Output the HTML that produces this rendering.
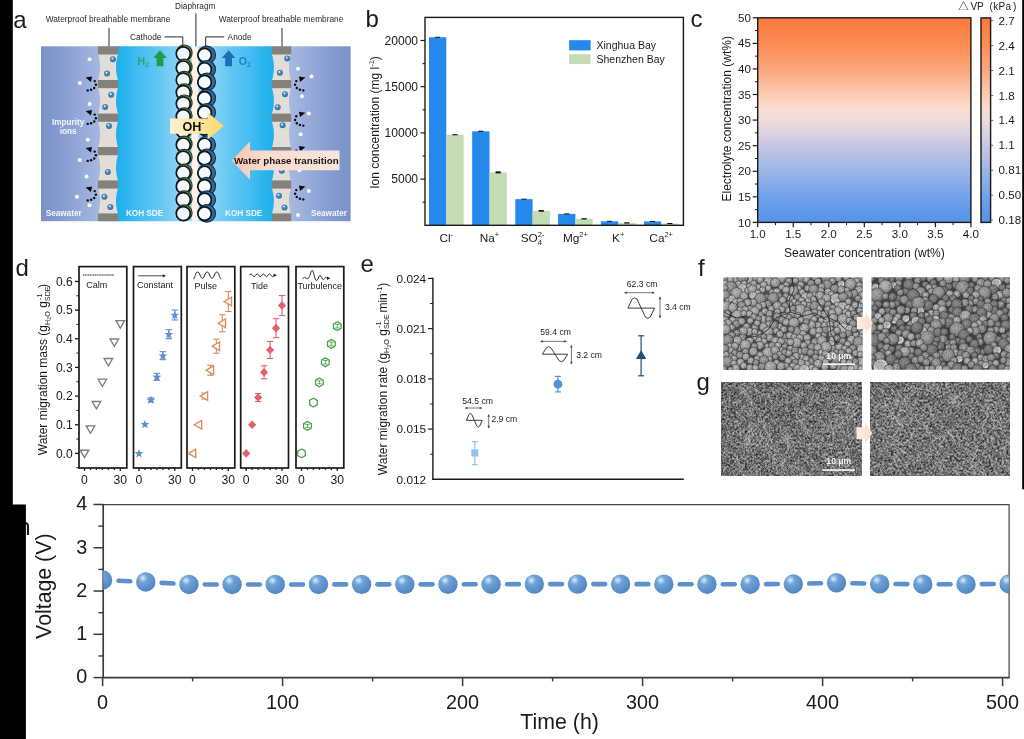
<!DOCTYPE html>
<html lang="en">
<head>
<meta charset="utf-8">
<title>Figure</title>
<style>
html,body{margin:0;padding:0;background:#fff;}
body{width:1024px;height:739px;overflow:hidden;font-family:'Liberation Sans', 'Noto Sans CJK SC', sans-serif;}
svg{display:block;will-change:transform;}
svg text{font-family:'Liberation Sans', 'Noto Sans CJK SC', sans-serif;}
</style>
</head>
<body>
<svg width="1024" height="739" viewBox="0 0 1024 739">
<rect width="1024" height="739" fill="#ffffff"/>
<defs>
<linearGradient id="heat" x1="0" y1="0" x2="0" y2="1">
<stop offset="0" stop-color="#fb7a3a"/>
<stop offset="0.12" stop-color="#fb8a52"/>
<stop offset="0.25" stop-color="#fba67b"/>
<stop offset="0.36" stop-color="#fcc6aa"/>
<stop offset="0.44" stop-color="#fbddce"/>
<stop offset="0.50" stop-color="#eedddb"/>
<stop offset="0.56" stop-color="#dcd3e0"/>
<stop offset="0.625" stop-color="#c6c7e3"/>
<stop offset="0.75" stop-color="#9ab5e8"/>
<stop offset="0.875" stop-color="#70a1ea"/>
<stop offset="1" stop-color="#5593eb"/>
</linearGradient>
<linearGradient id="seaL" x1="0" y1="0" x2="1" y2="0">
<stop offset="0" stop-color="#7991c8"/><stop offset="0.25" stop-color="#869cd0"/><stop offset="0.7" stop-color="#a2b6e0"/><stop offset="1" stop-color="#b1c3e9"/></linearGradient>
<linearGradient id="seaR" x1="1" y1="0" x2="0" y2="0">
<stop offset="0" stop-color="#7991c8"/><stop offset="0.25" stop-color="#869cd0"/><stop offset="0.7" stop-color="#a2b6e0"/><stop offset="1" stop-color="#b1c3e9"/></linearGradient>
<linearGradient id="kohL" x1="0" y1="0" x2="1" y2="0">
<stop offset="0" stop-color="#1cb0ec"/><stop offset="0.12" stop-color="#28b4ed"/><stop offset="0.3" stop-color="#44bdf0"/><stop offset="0.55" stop-color="#62c6f2"/><stop offset="0.8" stop-color="#86d2f5"/><stop offset="1" stop-color="#a0dcf7"/></linearGradient>
<linearGradient id="kohR" x1="1" y1="0" x2="0" y2="0">
<stop offset="0" stop-color="#1cb0ec"/><stop offset="0.12" stop-color="#28b4ed"/><stop offset="0.3" stop-color="#44bdf0"/><stop offset="0.55" stop-color="#62c6f2"/><stop offset="0.8" stop-color="#86d2f5"/><stop offset="1" stop-color="#a0dcf7"/></linearGradient>
<linearGradient id="ohArrow" x1="0" y1="0" x2="1" y2="0">
<stop offset="0" stop-color="#fbf0cf"/><stop offset="0.5" stop-color="#fbe6a4"/><stop offset="1" stop-color="#fcd76a"/></linearGradient>
<linearGradient id="wpArrow" x1="0" y1="0" x2="1" y2="0">
<stop offset="0" stop-color="#f8c4ae"/><stop offset="0.3" stop-color="#f8dccd"/><stop offset="1" stop-color="#f7e6dc"/></linearGradient>
<radialGradient id="drop" cx="0.42" cy="0.36" r="0.7">
<stop offset="0" stop-color="#9cc6e6"/><stop offset="0.3" stop-color="#4a8cc0"/><stop offset="1" stop-color="#2e6c9e"/></radialGradient>
<g id="cath"><circle r="7.9" cx="0.9" cy="-0.9" fill="#88a45f" stroke="#2a3a1c" stroke-width="1.2"/><circle r="7.0" fill="#f1f8fb" stroke="#10181c" stroke-width="1.7"/></g>
<g id="anod"><circle r="8.8" cx="2.1" cy="-0.2" fill="#36699f" stroke="#16304c" stroke-width="1.2"/><circle r="6.75" fill="#f7fbfd" stroke="#10181c" stroke-width="1.7"/></g>
<g id="dropg"><circle r="3.0" fill="url(#drop)"/><circle r="0.85" cx="-0.5" cy="-0.9" fill="#eaf5fc"/></g>
<g id="darrL" fill="#0c0c10"><circle cx="-1.5" cy="5.9" r="1.2"/><circle cx="1.9" cy="5.2" r="1.2"/><circle cx="5.0" cy="3.5" r="1.2"/><circle cx="6.7" cy="0.3" r="1.2"/><circle cx="5.5" cy="-3.4" r="1.2"/><path d="M-3.6,-7.0 L2.9,-8.0 L1.7,-2.6 Z"/></g>
<g id="darrR" fill="#0c0c10"><circle cx="1.5" cy="5.9" r="1.2"/><circle cx="-1.9" cy="5.2" r="1.2"/><circle cx="-5.0" cy="3.5" r="1.2"/><circle cx="-6.7" cy="0.3" r="1.2"/><circle cx="-5.5" cy="-3.4" r="1.2"/><path d="M3.6,-7.0 L-2.9,-8.0 L-1.7,-2.6 Z"/></g>

<radialGradient id="bumpA" cx="0.42" cy="0.38" r="0.6">
<stop offset="0" stop-color="#a6a6a6"/><stop offset="0.5" stop-color="#939393"/><stop offset="0.85" stop-color="#7a7a7a"/><stop offset="1" stop-color="#4c4c4c"/></radialGradient>
<radialGradient id="bumpB" cx="0.42" cy="0.38" r="0.6">
<stop offset="0" stop-color="#949494"/><stop offset="0.5" stop-color="#838383"/><stop offset="0.85" stop-color="#6a6a6a"/><stop offset="1" stop-color="#424242"/></radialGradient>
<radialGradient id="bumpC" cx="0.42" cy="0.38" r="0.6">
<stop offset="0" stop-color="#9c9c9c"/><stop offset="0.45" stop-color="#a4a4a4"/><stop offset="0.78" stop-color="#c6c6c6"/><stop offset="1" stop-color="#6a6a6a"/></radialGradient>
<radialGradient id="bumpD" cx="0.42" cy="0.38" r="0.6">
<stop offset="0" stop-color="#7e7e7e"/><stop offset="0.5" stop-color="#6c6c6c"/><stop offset="0.85" stop-color="#585858"/><stop offset="1" stop-color="#363636"/></radialGradient>
<filter id="semSoft" x="0" y="0" width="1" height="1" color-interpolation-filters="sRGB">
<feGaussianBlur in="SourceGraphic" stdDeviation="0.75" result="b"/>
<feTurbulence type="fractalNoise" baseFrequency="0.75" numOctaves="2" seed="4" result="n"/>
<feColorMatrix in="n" type="matrix" values="0.9 0 0 0 0.55  0.9 0 0 0 0.55  0.9 0 0 0 0.55  0 0 0 0 1" result="nn"/>
<feBlend in="b" in2="nn" mode="multiply" result="m"/>
<feComponentTransfer in="m"><feFuncR type="linear" slope="1.14" intercept="0"/><feFuncG type="linear" slope="1.14" intercept="0"/><feFuncB type="linear" slope="1.14" intercept="0"/></feComponentTransfer>
</filter>
<filter id="semG1" x="0" y="0" width="1" height="1" color-interpolation-filters="sRGB">
<feTurbulence type="fractalNoise" baseFrequency="0.55 0.48" numOctaves="2" seed="11"/>
<feColorMatrix type="matrix" values="0.9 0 0 0 -0.045  0.9 0 0 0 -0.045  0.9 0 0 0 -0.045  0 0 0 0 1"/>
<feGaussianBlur stdDeviation="0.35"/>
</filter>
<filter id="semG2" x="0" y="0" width="1" height="1" color-interpolation-filters="sRGB">
<feTurbulence type="fractalNoise" baseFrequency="0.46 0.5" numOctaves="2" seed="37"/>
<feColorMatrix type="matrix" values="0.95 0 0 0 -0.06  0.95 0 0 0 -0.06  0.95 0 0 0 -0.06  0 0 0 0 1"/>
<feGaussianBlur stdDeviation="0.35"/>
</filter>
<clipPath id="clipG1"><rect x="721.6" y="382.8" width="140.2" height="93.1"/></clipPath>
<clipPath id="clipG2"><rect x="870.4" y="382.8" width="139.5" height="93.0"/></clipPath>
<linearGradient id="fgArrow" x1="0" y1="0" x2="1" y2="0"><stop offset="0" stop-color="#fcece3"/><stop offset="1" stop-color="#fadccd"/></linearGradient>
<clipPath id="clipF1"><rect x="723.3" y="277.2" width="139.4" height="92.8"/></clipPath>
<clipPath id="clipF2"><rect x="871.4" y="277.2" width="138.5" height="92.6"/></clipPath>

<radialGradient id="ball" cx="0.35" cy="0.3" r="0.78">
<stop offset="0" stop-color="#e4f1fb"/><stop offset="0.1" stop-color="#b4d3f0"/><stop offset="0.3" stop-color="#6fa2d7"/><stop offset="0.7" stop-color="#5a8fc9"/><stop offset="1" stop-color="#4f83bf"/></radialGradient>
<clipPath id="clipH"><rect x="103.2" y="495" width="905.9" height="200"/></clipPath>

</defs>
<g id="panel-labels">
<text x="13.20" y="27.80" font-size="24" text-anchor="start" font-weight="normal" fill="#1a1a1a">a</text>
<text x="365.50" y="27.00" font-size="24" text-anchor="start" font-weight="normal" fill="#1a1a1a">b</text>
<text x="690.50" y="27.00" font-size="24" text-anchor="start" font-weight="normal" fill="#1a1a1a">c</text>
<text x="15.60" y="276.20" font-size="24" text-anchor="start" font-weight="normal" fill="#1a1a1a">d</text>
<text x="360.50" y="272.00" font-size="24" text-anchor="start" font-weight="normal" fill="#1a1a1a">e</text>
<text x="698.00" y="276.30" font-size="24" text-anchor="start" font-weight="normal" fill="#1a1a1a">f</text>
<text x="696.50" y="390.30" font-size="24" text-anchor="start" font-weight="normal" fill="#1a1a1a">g</text>
<text x="17.20" y="534.50" font-size="24" text-anchor="start" font-weight="normal" fill="#1a1a1a">h</text>
</g>
<g id="panel-a">
<rect x="41.00" y="46.30" width="80.00" height="174.90" fill="url(#seaL)"/>
<rect x="270.00" y="46.30" width="80.60" height="174.90" fill="url(#seaR)"/>
<path d="M119,46.3 L98,46.3 L98.2,46.3 L98.2,54.5 L98.8,56.6 L99.3,58.8 L99.6,60.9 L99.9,63.0 L100.0,65.1 L100.1,67.2 L100.0,69.4 L99.9,71.5 L99.6,73.6 L99.3,75.8 L98.8,77.9 L98.2,80.0 L98.2,88.2 L98.8,90.3 L99.3,92.4 L99.6,94.5 L99.9,96.7 L100.0,98.8 L100.1,100.9 L100.0,103.0 L99.9,105.1 L99.6,107.2 L99.3,109.4 L98.8,111.5 L98.2,113.6 L98.2,121.8 L98.8,123.9 L99.3,126.0 L99.6,128.1 L99.9,130.2 L100.0,132.3 L100.1,134.4 L100.0,136.5 L99.9,138.6 L99.6,140.7 L99.3,142.8 L98.8,144.9 L98.2,147.0 L98.2,155.2 L98.8,157.3 L99.3,159.4 L99.6,161.5 L99.9,163.6 L100.0,165.7 L100.1,167.8 L100.0,169.9 L99.9,172.0 L99.6,174.1 L99.3,176.2 L98.8,178.3 L98.2,180.4 L98.2,188.6 L98.8,190.7 L99.3,192.7 L99.6,194.8 L99.9,196.9 L100.0,198.9 L100.1,201.0 L100.0,203.1 L99.9,205.1 L99.6,207.2 L99.3,209.3 L98.8,211.3 L98.2,213.4 L98.2,221.2 L119,221.2 Z" fill="#e3ddd7"/>
<path d="M271,46.3 L291,46.3 L290.9,46.3 L290.9,54.5 L290.3,56.6 L289.8,58.8 L289.5,60.9 L289.2,63.0 L289.1,65.1 L289.0,67.2 L289.1,69.4 L289.2,71.5 L289.5,73.6 L289.8,75.8 L290.3,77.9 L290.9,80.0 L290.9,88.2 L290.3,90.3 L289.8,92.4 L289.5,94.5 L289.2,96.7 L289.1,98.8 L289.0,100.9 L289.1,103.0 L289.2,105.1 L289.5,107.2 L289.8,109.4 L290.3,111.5 L290.9,113.6 L290.9,121.8 L290.3,123.9 L289.8,126.0 L289.5,128.1 L289.2,130.2 L289.1,132.3 L289.0,134.4 L289.1,136.5 L289.2,138.6 L289.5,140.7 L289.8,142.8 L290.3,144.9 L290.9,147.0 L290.9,155.2 L290.3,157.3 L289.8,159.4 L289.5,161.5 L289.2,163.6 L289.1,165.7 L289.0,167.8 L289.1,169.9 L289.2,172.0 L289.5,174.1 L289.8,176.2 L290.3,178.3 L290.9,180.4 L290.9,188.6 L290.3,190.7 L289.8,192.7 L289.5,194.8 L289.2,196.9 L289.1,198.9 L289.0,201.0 L289.1,203.1 L289.2,205.1 L289.5,207.2 L289.8,209.3 L290.3,211.3 L290.9,213.4 L290.9,221.2 L271,221.2 Z" fill="#e3ddd7"/>
<path d="M193,46.3 L118,46.3 L118.0,46.3 L118.0,54.5 L117.3,56.6 L116.9,58.8 L116.5,60.9 L116.2,63.0 L116.1,65.1 L116.0,67.2 L116.1,69.4 L116.2,71.5 L116.5,73.6 L116.9,75.8 L117.3,77.9 L118.0,80.0 L118.0,88.2 L117.3,90.3 L116.9,92.4 L116.5,94.5 L116.2,96.7 L116.1,98.8 L116.0,100.9 L116.1,103.0 L116.2,105.1 L116.5,107.2 L116.9,109.4 L117.3,111.5 L118.0,113.6 L118.0,121.8 L117.3,123.9 L116.9,126.0 L116.5,128.1 L116.2,130.2 L116.1,132.3 L116.0,134.4 L116.1,136.5 L116.2,138.6 L116.5,140.7 L116.9,142.8 L117.3,144.9 L118.0,147.0 L118.0,155.2 L117.3,157.3 L116.9,159.4 L116.5,161.5 L116.2,163.6 L116.1,165.7 L116.0,167.8 L116.1,169.9 L116.2,172.0 L116.5,174.1 L116.9,176.2 L117.3,178.3 L118.0,180.4 L118.0,188.6 L117.3,190.7 L116.9,192.7 L116.5,194.8 L116.2,196.9 L116.1,198.9 L116.0,201.0 L116.1,203.1 L116.2,205.1 L116.5,207.2 L116.9,209.3 L117.3,211.3 L118.0,213.4 L118.0,221.2 L193,221.2 Z" fill="url(#kohL)"/>
<path d="M197,46.3 L272,46.3 L271.9,46.3 L271.9,54.5 L272.6,56.6 L273.0,58.8 L273.4,60.9 L273.7,63.0 L273.8,65.1 L273.9,67.2 L273.8,69.4 L273.7,71.5 L273.4,73.6 L273.0,75.8 L272.6,77.9 L271.9,80.0 L271.9,88.2 L272.6,90.3 L273.0,92.4 L273.4,94.5 L273.7,96.7 L273.8,98.8 L273.9,100.9 L273.8,103.0 L273.7,105.1 L273.4,107.2 L273.0,109.4 L272.6,111.5 L271.9,113.6 L271.9,121.8 L272.6,123.9 L273.0,126.0 L273.4,128.1 L273.7,130.2 L273.8,132.3 L273.9,134.4 L273.8,136.5 L273.7,138.6 L273.4,140.7 L273.0,142.8 L272.6,144.9 L271.9,147.0 L271.9,155.2 L272.6,157.3 L273.0,159.4 L273.4,161.5 L273.7,163.6 L273.8,165.7 L273.9,167.8 L273.8,169.9 L273.7,172.0 L273.4,174.1 L273.0,176.2 L272.6,178.3 L271.9,180.4 L271.9,188.6 L272.6,190.7 L273.0,192.7 L273.4,194.8 L273.7,196.9 L273.8,198.9 L273.9,201.0 L273.8,203.1 L273.7,205.1 L273.4,207.2 L273.0,209.3 L272.6,211.3 L271.9,213.4 L271.9,221.2 L197,221.2 Z" fill="url(#kohR)"/>
<rect x="97.90" y="46.30" width="20.20" height="8.20" fill="#84807c"/>
<rect x="271.80" y="46.30" width="19.40" height="8.20" fill="#84807c"/>
<rect x="97.90" y="80.00" width="20.20" height="8.20" fill="#84807c"/>
<rect x="271.80" y="80.00" width="19.40" height="8.20" fill="#84807c"/>
<rect x="97.90" y="113.60" width="20.20" height="8.20" fill="#84807c"/>
<rect x="271.80" y="113.60" width="19.40" height="8.20" fill="#84807c"/>
<rect x="97.90" y="147.00" width="20.20" height="8.20" fill="#84807c"/>
<rect x="271.80" y="147.00" width="19.40" height="8.20" fill="#84807c"/>
<rect x="97.90" y="180.40" width="20.20" height="8.20" fill="#84807c"/>
<rect x="271.80" y="180.40" width="19.40" height="8.20" fill="#84807c"/>
<rect x="97.90" y="213.40" width="20.20" height="7.80" fill="#84807c"/>
<rect x="271.80" y="213.40" width="19.40" height="7.80" fill="#84807c"/>
<rect x="191.80" y="46.30" width="6.60" height="174.90" fill="#fcf0e8"/>
<use href="#dropg" x="112.9" y="59.2"/>
<use href="#dropg" x="107" y="73.6"/>
<use href="#dropg" x="111.2" y="94.8"/>
<use href="#dropg" x="105.1" y="107"/>
<use href="#dropg" x="109" y="125.9"/>
<use href="#dropg" x="107.8" y="171.9"/>
<use href="#dropg" x="104.4" y="196.8"/>
<use href="#dropg" x="110.3" y="207"/>
<use href="#dropg" x="287.2" y="58.4"/>
<use href="#dropg" x="279.9" y="72.8"/>
<use href="#dropg" x="285" y="94.2"/>
<use href="#dropg" x="277.7" y="107.2"/>
<use href="#dropg" x="282.6" y="125.3"/>
<use href="#dropg" x="281.8" y="170.8"/>
<use href="#dropg" x="279" y="195.7"/>
<use href="#dropg" x="284.5" y="207.4"/>
<circle cx="89.6" cy="59.2" r="2.0" fill="#f4f6fc"/>
<circle cx="79.9" cy="82.9" r="2.0" fill="#f4f6fc"/>
<circle cx="89.6" cy="104" r="2.0" fill="#f4f6fc"/>
<circle cx="87.8" cy="139.8" r="2.0" fill="#f4f6fc"/>
<circle cx="79.8" cy="160" r="2.0" fill="#f4f6fc"/>
<circle cx="86.6" cy="176.5" r="2.0" fill="#f4f6fc"/>
<circle cx="77" cy="196.8" r="2.0" fill="#f4f6fc"/>
<circle cx="89.5" cy="205.2" r="2.0" fill="#f4f6fc"/>
<circle cx="298" cy="68.7" r="2.0" fill="#f4f6fc"/>
<circle cx="311.5" cy="76.6" r="2.0" fill="#f4f6fc"/>
<circle cx="302" cy="96.3" r="2.0" fill="#f4f6fc"/>
<circle cx="308.8" cy="113.4" r="2.0" fill="#f4f6fc"/>
<circle cx="300.7" cy="134.3" r="2.0" fill="#f4f6fc"/>
<circle cx="299.4" cy="170.3" r="2.0" fill="#f4f6fc"/>
<circle cx="308.8" cy="191" r="2.0" fill="#f4f6fc"/>
<circle cx="298" cy="215" r="2.0" fill="#f4f6fc"/>
<use href="#darrL" x="89.2" y="84.5"/>
<use href="#darrL" x="89.2" y="118"/>
<use href="#darrL" x="89.2" y="155"/>
<use href="#darrL" x="89.2" y="194.5"/>
<use href="#darrR" x="301.8" y="84.5"/>
<use href="#darrR" x="301.8" y="119.7"/>
<use href="#darrR" x="301.8" y="154"/>
<use href="#darrR" x="301.8" y="193.5"/>
<use href="#cath" x="183.3" y="53.8"/>
<use href="#cath" x="183.3" y="68.0"/>
<use href="#cath" x="183.3" y="80.2"/>
<use href="#cath" x="183.3" y="92.6"/>
<use href="#cath" x="183.3" y="103.8"/>
<use href="#cath" x="183.3" y="116.6"/>
<use href="#cath" x="183.3" y="131"/>
<use href="#cath" x="183.3" y="145"/>
<use href="#cath" x="183.3" y="158.2"/>
<use href="#cath" x="183.3" y="173"/>
<use href="#cath" x="183.3" y="186.4"/>
<use href="#cath" x="183.3" y="199.7"/>
<use href="#cath" x="183.3" y="213.6"/>
<use href="#anod" x="204.6" y="55.1"/>
<use href="#anod" x="204.6" y="69.5"/>
<use href="#anod" x="204.6" y="82.2"/>
<use href="#anod" x="204.6" y="98.4"/>
<use href="#anod" x="204.6" y="112.6"/>
<use href="#anod" x="204.6" y="128"/>
<use href="#anod" x="204.6" y="145"/>
<use href="#anod" x="204.6" y="158.2"/>
<use href="#anod" x="204.6" y="173"/>
<use href="#anod" x="204.6" y="186.4"/>
<use href="#anod" x="204.6" y="199.9"/>
<use href="#anod" x="204.6" y="213.6"/>
<path d="M170,118.4 H207.6 V112.4 L223.8,126 L207.6,139.6 V133.8 H170 Z" fill="url(#ohArrow)"/>
<text x="193.30" y="130.70" font-size="12.6" text-anchor="middle" font-weight="bold" fill="#111">OH<tspan font-size="8" dy="-5.5">-</tspan></text>
<path d="M339.5,150.6 H250 V141.4 L231.6,160.5 L250,179.8 V170.2 H339.5 Z" fill="url(#wpArrow)"/>
<text x="233.90" y="163.80" font-size="9.75" text-anchor="start" font-weight="bold" fill="#1c1410">Water phase transition</text>
<path d="M160,50.3 L166.8,58 H163.4 V66.2 H156.6 V58 H153.2 Z" fill="#1d9c4c"/>
<path d="M228.6,50.3 L235.4,58 H232 V66.2 H225.2 V58 H221.8 Z" fill="#1c6fb8"/>
<text x="137.60" y="65.20" font-size="10.5" text-anchor="start" font-weight="bold" fill="#26a670">H<tspan font-size="6.5" dy="2">2</tspan></text>
<text x="238.80" y="65.20" font-size="10.5" text-anchor="start" font-weight="bold" fill="#1c7fd0">O<tspan font-size="6.5" dy="2">2</tspan></text>
<text x="68.20" y="124.80" font-size="8.2" text-anchor="middle" font-weight="bold" fill="#f2f5fb">Impurity</text>
<text x="68.20" y="133.80" font-size="8.2" text-anchor="middle" font-weight="bold" fill="#f2f5fb">ions</text>
<text x="45.70" y="216.30" font-size="8.2" text-anchor="start" font-weight="bold" fill="#f2f5fb">Seawater</text>
<text x="125.90" y="216.30" font-size="8.2" text-anchor="start" font-weight="bold" fill="#e8f6fd">KOH SDE</text>
<text x="225.00" y="216.30" font-size="8.2" text-anchor="start" font-weight="bold" fill="#e8f6fd">KOH SDE</text>
<text x="311.00" y="216.30" font-size="8.2" text-anchor="start" font-weight="bold" fill="#f2f5fb">Seawater</text>
<text x="45.70" y="21.80" font-size="8.34" text-anchor="start" font-weight="normal" fill="#2a2a2a">Waterproof breathable membrane</text>
<text x="218.70" y="21.80" font-size="8.34" text-anchor="start" font-weight="normal" fill="#2a2a2a">Waterproof breathable membrane</text>
<text x="175.00" y="8.80" font-size="8.25" text-anchor="start" font-weight="normal" fill="#2a2a2a">Diaphragm</text>
<text x="130.00" y="39.50" font-size="8.3" text-anchor="start" font-weight="normal" fill="#2a2a2a">Cathode</text>
<text x="227.60" y="39.50" font-size="8.3" text-anchor="start" font-weight="normal" fill="#2a2a2a">Anode</text>
<line x1="109.00" y1="28.00" x2="109.00" y2="46.40" stroke="#2a2a2a" stroke-width="1.0"/>
<line x1="282.00" y1="28.00" x2="282.00" y2="46.40" stroke="#2a2a2a" stroke-width="1.0"/>
<line x1="195.90" y1="13.40" x2="195.90" y2="46.40" stroke="#2a2a2a" stroke-width="1.0"/>
<path d="M164.6,36.9 H182.8 V47" fill="none" stroke="#2a2a2a" stroke-width="1.0"/>
<path d="M224.3,36.9 H205.7 V47" fill="none" stroke="#2a2a2a" stroke-width="1.0"/>
</g>
<g id="panel-b">
<rect x="429.00" y="37.27" width="17.30" height="188.03" fill="#2488ec"/>
<rect x="446.30" y="134.75" width="17.30" height="90.55" fill="#c4dcb4"/>
<rect x="435.05" y="36.77" width="5.20" height="1.00" fill="#111"/>
<rect x="452.35" y="134.19" width="5.20" height="1.11" fill="#111"/>
<rect x="472.20" y="131.33" width="17.30" height="93.97" fill="#2488ec"/>
<rect x="489.50" y="172.35" width="17.30" height="52.95" fill="#c4dcb4"/>
<rect x="478.25" y="130.77" width="5.20" height="1.11" fill="#111"/>
<rect x="495.55" y="171.34" width="5.20" height="2.03" fill="#111"/>
<rect x="515.30" y="199.15" width="17.30" height="26.15" fill="#2488ec"/>
<rect x="532.60" y="210.89" width="17.30" height="14.41" fill="#c4dcb4"/>
<rect x="521.35" y="198.65" width="5.20" height="1.00" fill="#111"/>
<rect x="538.65" y="210.05" width="5.20" height="1.66" fill="#111"/>
<rect x="558.10" y="213.93" width="17.30" height="11.37" fill="#2488ec"/>
<rect x="575.40" y="218.83" width="17.30" height="6.47" fill="#c4dcb4"/>
<rect x="564.15" y="213.43" width="5.20" height="1.00" fill="#111"/>
<rect x="581.45" y="218.19" width="5.20" height="1.29" fill="#111"/>
<rect x="600.90" y="221.33" width="17.30" height="3.97" fill="#2488ec"/>
<rect x="618.20" y="222.90" width="17.30" height="2.40" fill="#c4dcb4"/>
<rect x="606.95" y="220.83" width="5.20" height="1.00" fill="#111"/>
<rect x="624.25" y="222.25" width="5.20" height="1.29" fill="#111"/>
<rect x="643.90" y="221.42" width="17.30" height="3.88" fill="#2488ec"/>
<rect x="661.20" y="223.54" width="17.30" height="1.76" fill="#c4dcb4"/>
<rect x="649.95" y="220.92" width="5.20" height="1.00" fill="#111"/>
<rect x="667.25" y="222.99" width="5.20" height="1.11" fill="#111"/>
<rect x="425.0" y="17.4" width="258.40" height="207.90" fill="none" stroke="#1a1a1a" stroke-width="1.4"/>
<line x1="420.50" y1="179.10" x2="425.00" y2="179.10" stroke="#1a1a1a" stroke-width="1.2"/>
<text x="418.10" y="183.40" font-size="12.1" text-anchor="end" font-weight="normal" fill="#1a1a1a">5000</text>
<line x1="420.50" y1="132.90" x2="425.00" y2="132.90" stroke="#1a1a1a" stroke-width="1.2"/>
<text x="418.10" y="137.20" font-size="12.1" text-anchor="end" font-weight="normal" fill="#1a1a1a">10000</text>
<line x1="420.50" y1="86.70" x2="425.00" y2="86.70" stroke="#1a1a1a" stroke-width="1.2"/>
<text x="418.10" y="91.00" font-size="12.1" text-anchor="end" font-weight="normal" fill="#1a1a1a">15000</text>
<line x1="420.50" y1="40.50" x2="425.00" y2="40.50" stroke="#1a1a1a" stroke-width="1.2"/>
<text x="418.10" y="44.80" font-size="12.1" text-anchor="end" font-weight="normal" fill="#1a1a1a">20000</text>
<line x1="422.50" y1="202.20" x2="425.00" y2="202.20" stroke="#1a1a1a" stroke-width="1.1"/>
<line x1="422.50" y1="156.00" x2="425.00" y2="156.00" stroke="#1a1a1a" stroke-width="1.1"/>
<line x1="422.50" y1="109.80" x2="425.00" y2="109.80" stroke="#1a1a1a" stroke-width="1.1"/>
<line x1="422.50" y1="63.60" x2="425.00" y2="63.60" stroke="#1a1a1a" stroke-width="1.1"/>
<text x="378.90" y="122.50" font-size="12" text-anchor="middle" font-weight="normal" fill="#1a1a1a" transform="rotate(-90 378.90 122.50)">Ion concentration (mg l<tspan font-size="7.5" dy="-4.5">-1</tspan><tspan dy="4.5">)</tspan></text>
<text x="446.30" y="241.60" font-size="11.8" text-anchor="middle" font-weight="normal" fill="#1a1a1a">Cl<tspan font-size="7.5" dy="-5">-</tspan></text>
<text x="489.50" y="241.60" font-size="11.8" text-anchor="middle" font-weight="normal" fill="#1a1a1a">Na<tspan font-size="7.5" dy="-5">+</tspan></text>
<text x="532.60" y="241.60" font-size="11.8" text-anchor="middle" font-weight="normal" fill="#1a1a1a">SO<tspan font-size="7.5" dy="-5">2-</tspan><tspan font-size="7.5" dy="8.3" dx="-6.7">4</tspan></text>
<text x="575.40" y="241.60" font-size="11.8" text-anchor="middle" font-weight="normal" fill="#1a1a1a">Mg<tspan font-size="7.5" dy="-5">2+</tspan></text>
<text x="618.20" y="241.60" font-size="11.8" text-anchor="middle" font-weight="normal" fill="#1a1a1a">K<tspan font-size="7.5" dy="-5">+</tspan></text>
<text x="661.20" y="241.60" font-size="11.8" text-anchor="middle" font-weight="normal" fill="#1a1a1a">Ca<tspan font-size="7.5" dy="-5">2+</tspan></text>
<rect x="569.10" y="40.20" width="21.50" height="10.20" fill="#2488ec"/>
<rect x="569.10" y="54.20" width="21.50" height="9.90" fill="#c4dcb4"/>
<text x="596.50" y="49.20" font-size="10.5" text-anchor="start" font-weight="normal" fill="#1a1a1a">Xinghua Bay</text>
<text x="596.50" y="62.50" font-size="10.5" text-anchor="start" font-weight="normal" fill="#1a1a1a">Shenzhen Bay</text>
</g>
<g id="panel-c">
<rect x="757.7" y="17.8" width="213.20" height="204.60" fill="url(#heat)" stroke="#1a1a1a" stroke-width="1.4"/>
<line x1="752.70" y1="222.40" x2="757.70" y2="222.40" stroke="#1a1a1a" stroke-width="1.2"/>
<text x="750.90" y="226.50" font-size="11.6" text-anchor="end" font-weight="normal" fill="#1a1a1a">10</text>
<line x1="752.70" y1="196.83" x2="757.70" y2="196.83" stroke="#1a1a1a" stroke-width="1.2"/>
<text x="750.90" y="200.93" font-size="11.6" text-anchor="end" font-weight="normal" fill="#1a1a1a">15</text>
<line x1="752.70" y1="171.25" x2="757.70" y2="171.25" stroke="#1a1a1a" stroke-width="1.2"/>
<text x="750.90" y="175.35" font-size="11.6" text-anchor="end" font-weight="normal" fill="#1a1a1a">20</text>
<line x1="752.70" y1="145.68" x2="757.70" y2="145.68" stroke="#1a1a1a" stroke-width="1.2"/>
<text x="750.90" y="149.78" font-size="11.6" text-anchor="end" font-weight="normal" fill="#1a1a1a">25</text>
<line x1="752.70" y1="120.10" x2="757.70" y2="120.10" stroke="#1a1a1a" stroke-width="1.2"/>
<text x="750.90" y="124.20" font-size="11.6" text-anchor="end" font-weight="normal" fill="#1a1a1a">30</text>
<line x1="752.70" y1="94.53" x2="757.70" y2="94.53" stroke="#1a1a1a" stroke-width="1.2"/>
<text x="750.90" y="98.62" font-size="11.6" text-anchor="end" font-weight="normal" fill="#1a1a1a">35</text>
<line x1="752.70" y1="68.95" x2="757.70" y2="68.95" stroke="#1a1a1a" stroke-width="1.2"/>
<text x="750.90" y="73.05" font-size="11.6" text-anchor="end" font-weight="normal" fill="#1a1a1a">40</text>
<line x1="752.70" y1="43.38" x2="757.70" y2="43.38" stroke="#1a1a1a" stroke-width="1.2"/>
<text x="750.90" y="47.48" font-size="11.6" text-anchor="end" font-weight="normal" fill="#1a1a1a">45</text>
<line x1="752.70" y1="17.80" x2="757.70" y2="17.80" stroke="#1a1a1a" stroke-width="1.2"/>
<text x="750.90" y="21.90" font-size="11.6" text-anchor="end" font-weight="normal" fill="#1a1a1a">50</text>
<line x1="754.90" y1="209.61" x2="757.70" y2="209.61" stroke="#1a1a1a" stroke-width="1.0"/>
<line x1="754.90" y1="184.04" x2="757.70" y2="184.04" stroke="#1a1a1a" stroke-width="1.0"/>
<line x1="754.90" y1="158.46" x2="757.70" y2="158.46" stroke="#1a1a1a" stroke-width="1.0"/>
<line x1="754.90" y1="132.89" x2="757.70" y2="132.89" stroke="#1a1a1a" stroke-width="1.0"/>
<line x1="754.90" y1="107.31" x2="757.70" y2="107.31" stroke="#1a1a1a" stroke-width="1.0"/>
<line x1="754.90" y1="81.74" x2="757.70" y2="81.74" stroke="#1a1a1a" stroke-width="1.0"/>
<line x1="754.90" y1="56.16" x2="757.70" y2="56.16" stroke="#1a1a1a" stroke-width="1.0"/>
<line x1="754.90" y1="30.59" x2="757.70" y2="30.59" stroke="#1a1a1a" stroke-width="1.0"/>
<line x1="757.70" y1="222.40" x2="757.70" y2="227.20" stroke="#1a1a1a" stroke-width="1.2"/>
<text x="757.70" y="238.20" font-size="11.6" text-anchor="middle" font-weight="normal" fill="#1a1a1a">1.0</text>
<line x1="793.23" y1="222.40" x2="793.23" y2="227.20" stroke="#1a1a1a" stroke-width="1.2"/>
<text x="793.23" y="238.20" font-size="11.6" text-anchor="middle" font-weight="normal" fill="#1a1a1a">1.5</text>
<line x1="828.77" y1="222.40" x2="828.77" y2="227.20" stroke="#1a1a1a" stroke-width="1.2"/>
<text x="828.77" y="238.20" font-size="11.6" text-anchor="middle" font-weight="normal" fill="#1a1a1a">2.0</text>
<line x1="864.30" y1="222.40" x2="864.30" y2="227.20" stroke="#1a1a1a" stroke-width="1.2"/>
<text x="864.30" y="238.20" font-size="11.6" text-anchor="middle" font-weight="normal" fill="#1a1a1a">2.5</text>
<line x1="899.83" y1="222.40" x2="899.83" y2="227.20" stroke="#1a1a1a" stroke-width="1.2"/>
<text x="899.83" y="238.20" font-size="11.6" text-anchor="middle" font-weight="normal" fill="#1a1a1a">3.0</text>
<line x1="935.37" y1="222.40" x2="935.37" y2="227.20" stroke="#1a1a1a" stroke-width="1.2"/>
<text x="935.37" y="238.20" font-size="11.6" text-anchor="middle" font-weight="normal" fill="#1a1a1a">3.5</text>
<line x1="970.90" y1="222.40" x2="970.90" y2="227.20" stroke="#1a1a1a" stroke-width="1.2"/>
<text x="970.90" y="238.20" font-size="11.6" text-anchor="middle" font-weight="normal" fill="#1a1a1a">4.0</text>
<line x1="775.47" y1="222.40" x2="775.47" y2="225.20" stroke="#1a1a1a" stroke-width="1.0"/>
<line x1="811.00" y1="222.40" x2="811.00" y2="225.20" stroke="#1a1a1a" stroke-width="1.0"/>
<line x1="846.53" y1="222.40" x2="846.53" y2="225.20" stroke="#1a1a1a" stroke-width="1.0"/>
<line x1="882.07" y1="222.40" x2="882.07" y2="225.20" stroke="#1a1a1a" stroke-width="1.0"/>
<line x1="917.60" y1="222.40" x2="917.60" y2="225.20" stroke="#1a1a1a" stroke-width="1.0"/>
<line x1="953.13" y1="222.40" x2="953.13" y2="225.20" stroke="#1a1a1a" stroke-width="1.0"/>
<text x="864.40" y="257.30" font-size="12.05" text-anchor="middle" font-weight="normal" fill="#1a1a1a">Seawater concentration (wt%)</text>
<text x="730.80" y="118.80" font-size="12.0" text-anchor="middle" font-weight="normal" fill="#1a1a1a" transform="rotate(-90 730.80 118.80)">Electrolyte concentration (wt%)</text>
<rect x="981.0" y="17.9" width="9.6" height="204.5" fill="url(#heat)" stroke="#1a1a1a" stroke-width="1.4"/>
<line x1="990.60" y1="220.10" x2="993.20" y2="220.10" stroke="#555" stroke-width="0.9"/>
<text x="998.60" y="224.20" font-size="11.6" text-anchor="start" font-weight="normal" fill="#1a1a1a">0.18</text>
<line x1="990.60" y1="195.17" x2="993.20" y2="195.17" stroke="#555" stroke-width="0.9"/>
<text x="998.60" y="199.27" font-size="11.6" text-anchor="start" font-weight="normal" fill="#1a1a1a">0.50</text>
<line x1="990.60" y1="170.24" x2="993.20" y2="170.24" stroke="#555" stroke-width="0.9"/>
<text x="998.60" y="174.34" font-size="11.6" text-anchor="start" font-weight="normal" fill="#1a1a1a">0.81</text>
<line x1="990.60" y1="145.31" x2="993.20" y2="145.31" stroke="#555" stroke-width="0.9"/>
<text x="998.60" y="149.41" font-size="11.6" text-anchor="start" font-weight="normal" fill="#1a1a1a">1.1</text>
<line x1="990.60" y1="120.38" x2="993.20" y2="120.38" stroke="#555" stroke-width="0.9"/>
<text x="998.60" y="124.48" font-size="11.6" text-anchor="start" font-weight="normal" fill="#1a1a1a">1.4</text>
<line x1="990.60" y1="95.45" x2="993.20" y2="95.45" stroke="#555" stroke-width="0.9"/>
<text x="998.60" y="99.55" font-size="11.6" text-anchor="start" font-weight="normal" fill="#1a1a1a">1.8</text>
<line x1="990.60" y1="70.52" x2="993.20" y2="70.52" stroke="#555" stroke-width="0.9"/>
<text x="998.60" y="74.62" font-size="11.6" text-anchor="start" font-weight="normal" fill="#1a1a1a">2.1</text>
<line x1="990.60" y1="45.59" x2="993.20" y2="45.59" stroke="#555" stroke-width="0.9"/>
<text x="998.60" y="49.69" font-size="11.6" text-anchor="start" font-weight="normal" fill="#1a1a1a">2.4</text>
<line x1="990.60" y1="20.66" x2="993.20" y2="20.66" stroke="#555" stroke-width="0.9"/>
<text x="998.60" y="24.76" font-size="11.6" text-anchor="start" font-weight="normal" fill="#1a1a1a">2.7</text>
<text y="10" font-size="10" fill="#1a1a1a"><tspan x="958.2" font-size="10.5">△</tspan><tspan x="970.4">VP</tspan><tspan x="986.5"> </tspan><tspan x="989.4">(</tspan><tspan x="993.2" letter-spacing="0.3">kPa</tspan><tspan x="1013">)</tspan></text>
</g>
<g id="panel-d">
<line x1="75.00" y1="453.40" x2="79.00" y2="453.40" stroke="#1a1a1a" stroke-width="1.3"/>
<text x="72.70" y="457.70" font-size="12.1" text-anchor="end" font-weight="normal" fill="#1a1a1a">0.0</text>
<line x1="75.00" y1="424.74" x2="79.00" y2="424.74" stroke="#1a1a1a" stroke-width="1.3"/>
<text x="72.70" y="429.04" font-size="12.1" text-anchor="end" font-weight="normal" fill="#1a1a1a">0.1</text>
<line x1="75.00" y1="396.08" x2="79.00" y2="396.08" stroke="#1a1a1a" stroke-width="1.3"/>
<text x="72.70" y="400.38" font-size="12.1" text-anchor="end" font-weight="normal" fill="#1a1a1a">0.2</text>
<line x1="75.00" y1="367.42" x2="79.00" y2="367.42" stroke="#1a1a1a" stroke-width="1.3"/>
<text x="72.70" y="371.72" font-size="12.1" text-anchor="end" font-weight="normal" fill="#1a1a1a">0.3</text>
<line x1="75.00" y1="338.76" x2="79.00" y2="338.76" stroke="#1a1a1a" stroke-width="1.3"/>
<text x="72.70" y="343.06" font-size="12.1" text-anchor="end" font-weight="normal" fill="#1a1a1a">0.4</text>
<line x1="75.00" y1="310.10" x2="79.00" y2="310.10" stroke="#1a1a1a" stroke-width="1.3"/>
<text x="72.70" y="314.40" font-size="12.1" text-anchor="end" font-weight="normal" fill="#1a1a1a">0.5</text>
<line x1="75.00" y1="281.44" x2="79.00" y2="281.44" stroke="#1a1a1a" stroke-width="1.3"/>
<text x="72.70" y="285.74" font-size="12.1" text-anchor="end" font-weight="normal" fill="#1a1a1a">0.6</text>
<line x1="76.40" y1="467.73" x2="79.00" y2="467.73" stroke="#1a1a1a" stroke-width="1.0"/>
<line x1="76.40" y1="439.07" x2="79.00" y2="439.07" stroke="#1a1a1a" stroke-width="1.0"/>
<line x1="76.40" y1="410.41" x2="79.00" y2="410.41" stroke="#1a1a1a" stroke-width="1.0"/>
<line x1="76.40" y1="381.75" x2="79.00" y2="381.75" stroke="#1a1a1a" stroke-width="1.0"/>
<line x1="76.40" y1="353.09" x2="79.00" y2="353.09" stroke="#1a1a1a" stroke-width="1.0"/>
<line x1="76.40" y1="324.43" x2="79.00" y2="324.43" stroke="#1a1a1a" stroke-width="1.0"/>
<line x1="76.40" y1="295.77" x2="79.00" y2="295.77" stroke="#1a1a1a" stroke-width="1.0"/>
<rect x="79.0" y="266.6" width="47.8" height="201.40" fill="#fff" stroke="#1a1a1a" stroke-width="1.7"/>
<line x1="84.50" y1="468.00" x2="84.50" y2="470.90" stroke="#1a1a1a" stroke-width="1.3"/>
<line x1="90.47" y1="468.00" x2="90.47" y2="469.90" stroke="#1a1a1a" stroke-width="1.3"/>
<line x1="96.43" y1="468.00" x2="96.43" y2="469.90" stroke="#1a1a1a" stroke-width="1.3"/>
<line x1="102.39" y1="468.00" x2="102.39" y2="469.90" stroke="#1a1a1a" stroke-width="1.3"/>
<line x1="108.36" y1="468.00" x2="108.36" y2="469.90" stroke="#1a1a1a" stroke-width="1.3"/>
<line x1="114.33" y1="468.00" x2="114.33" y2="469.90" stroke="#1a1a1a" stroke-width="1.3"/>
<line x1="120.29" y1="468.00" x2="120.29" y2="470.90" stroke="#1a1a1a" stroke-width="1.3"/>
<text x="84.50" y="483.90" font-size="12.2" text-anchor="middle" font-weight="normal" fill="#1a1a1a">0</text>
<text x="120.29" y="483.90" font-size="12.2" text-anchor="middle" font-weight="normal" fill="#1a1a1a">30</text>
<path d="M80.20,450.20 L88.80,450.20 L84.50,457.60 Z" fill="#fff" stroke="#7d7d7d" stroke-width="1.35" stroke-linejoin="miter"/>
<path d="M86.17,425.84 L94.77,425.84 L90.47,433.24 Z" fill="#fff" stroke="#7d7d7d" stroke-width="1.35" stroke-linejoin="miter"/>
<path d="M92.13,401.48 L100.73,401.48 L96.43,408.88 Z" fill="#fff" stroke="#7d7d7d" stroke-width="1.35" stroke-linejoin="miter"/>
<path d="M98.09,379.12 L106.69,379.12 L102.39,386.52 Z" fill="#fff" stroke="#7d7d7d" stroke-width="1.35" stroke-linejoin="miter"/>
<path d="M104.06,358.49 L112.66,358.49 L108.36,365.89 Z" fill="#fff" stroke="#7d7d7d" stroke-width="1.35" stroke-linejoin="miter"/>
<path d="M110.03,339.00 L118.62,339.00 L114.33,346.40 Z" fill="#fff" stroke="#7d7d7d" stroke-width="1.35" stroke-linejoin="miter"/>
<path d="M115.99,320.66 L124.59,320.66 L120.29,328.06 Z" fill="#fff" stroke="#7d7d7d" stroke-width="1.35" stroke-linejoin="miter"/>
<rect x="133.5" y="266.6" width="47.8" height="201.40" fill="#fff" stroke="#1a1a1a" stroke-width="1.7"/>
<line x1="139.00" y1="468.00" x2="139.00" y2="470.90" stroke="#1a1a1a" stroke-width="1.3"/>
<line x1="144.97" y1="468.00" x2="144.97" y2="469.90" stroke="#1a1a1a" stroke-width="1.3"/>
<line x1="150.93" y1="468.00" x2="150.93" y2="469.90" stroke="#1a1a1a" stroke-width="1.3"/>
<line x1="156.90" y1="468.00" x2="156.90" y2="469.90" stroke="#1a1a1a" stroke-width="1.3"/>
<line x1="162.86" y1="468.00" x2="162.86" y2="469.90" stroke="#1a1a1a" stroke-width="1.3"/>
<line x1="168.82" y1="468.00" x2="168.82" y2="469.90" stroke="#1a1a1a" stroke-width="1.3"/>
<line x1="174.79" y1="468.00" x2="174.79" y2="470.90" stroke="#1a1a1a" stroke-width="1.3"/>
<text x="139.00" y="483.90" font-size="12.2" text-anchor="middle" font-weight="normal" fill="#1a1a1a">0</text>
<text x="174.79" y="483.90" font-size="12.2" text-anchor="middle" font-weight="normal" fill="#1a1a1a">30</text>
<polygon points="139.00,449.00 140.15,452.12 143.47,452.25 140.85,454.30 141.76,457.50 139.00,455.65 136.24,457.50 137.15,454.30 134.53,452.25 137.85,452.12" fill="#5b8fd2"/>
<polygon points="144.97,419.77 146.11,422.89 149.43,423.01 146.82,425.07 147.73,428.27 144.97,426.42 142.20,428.27 143.11,425.07 140.50,423.01 143.82,422.89" fill="#5b8fd2"/>
<line x1="150.93" y1="397.81" x2="150.93" y2="401.81" stroke="#5b8fd2" stroke-width="1.1"/>
<line x1="147.73" y1="397.81" x2="154.13" y2="397.81" stroke="#5b8fd2" stroke-width="1.1"/>
<line x1="147.73" y1="401.81" x2="154.13" y2="401.81" stroke="#5b8fd2" stroke-width="1.1"/>
<polygon points="150.93,395.41 152.08,398.53 155.40,398.65 152.78,400.71 153.69,403.91 150.93,402.06 148.17,403.91 149.08,400.71 146.46,398.65 149.78,398.53" fill="#5b8fd2"/>
<line x1="156.90" y1="373.38" x2="156.90" y2="380.38" stroke="#5b8fd2" stroke-width="1.1"/>
<line x1="153.70" y1="373.38" x2="160.09" y2="373.38" stroke="#5b8fd2" stroke-width="1.1"/>
<line x1="153.70" y1="380.38" x2="160.09" y2="380.38" stroke="#5b8fd2" stroke-width="1.1"/>
<polygon points="156.90,372.48 158.04,375.60 161.36,375.73 158.75,377.78 159.66,380.98 156.90,379.13 154.13,380.98 155.04,377.78 152.43,375.73 155.75,375.60" fill="#5b8fd2"/>
<line x1="162.86" y1="351.67" x2="162.86" y2="359.67" stroke="#5b8fd2" stroke-width="1.1"/>
<line x1="159.66" y1="351.67" x2="166.06" y2="351.67" stroke="#5b8fd2" stroke-width="1.1"/>
<line x1="159.66" y1="359.67" x2="166.06" y2="359.67" stroke="#5b8fd2" stroke-width="1.1"/>
<polygon points="162.86,351.27 164.01,354.39 167.33,354.52 164.71,356.57 165.62,359.77 162.86,357.92 160.10,359.77 161.01,356.57 158.39,354.52 161.71,354.39" fill="#5b8fd2"/>
<line x1="168.82" y1="329.67" x2="168.82" y2="338.67" stroke="#5b8fd2" stroke-width="1.1"/>
<line x1="165.62" y1="329.67" x2="172.02" y2="329.67" stroke="#5b8fd2" stroke-width="1.1"/>
<line x1="165.62" y1="338.67" x2="172.02" y2="338.67" stroke="#5b8fd2" stroke-width="1.1"/>
<polygon points="168.82,329.77 169.97,332.90 173.29,333.02 170.68,335.08 171.59,338.28 168.82,336.42 166.06,338.28 166.97,335.08 164.36,333.02 167.68,332.90" fill="#5b8fd2"/>
<line x1="174.79" y1="309.97" x2="174.79" y2="319.97" stroke="#5b8fd2" stroke-width="1.1"/>
<line x1="171.59" y1="309.97" x2="177.99" y2="309.97" stroke="#5b8fd2" stroke-width="1.1"/>
<line x1="171.59" y1="319.97" x2="177.99" y2="319.97" stroke="#5b8fd2" stroke-width="1.1"/>
<polygon points="174.79,310.57 175.94,313.69 179.26,313.82 176.64,315.87 177.55,319.07 174.79,317.22 172.03,319.07 172.94,315.87 170.32,313.82 173.64,313.69" fill="#5b8fd2"/>
<rect x="187.0" y="266.6" width="47.8" height="201.40" fill="#fff" stroke="#1a1a1a" stroke-width="1.7"/>
<line x1="192.50" y1="468.00" x2="192.50" y2="470.90" stroke="#1a1a1a" stroke-width="1.3"/>
<line x1="198.47" y1="468.00" x2="198.47" y2="469.90" stroke="#1a1a1a" stroke-width="1.3"/>
<line x1="204.43" y1="468.00" x2="204.43" y2="469.90" stroke="#1a1a1a" stroke-width="1.3"/>
<line x1="210.40" y1="468.00" x2="210.40" y2="469.90" stroke="#1a1a1a" stroke-width="1.3"/>
<line x1="216.36" y1="468.00" x2="216.36" y2="469.90" stroke="#1a1a1a" stroke-width="1.3"/>
<line x1="222.32" y1="468.00" x2="222.32" y2="469.90" stroke="#1a1a1a" stroke-width="1.3"/>
<line x1="228.29" y1="468.00" x2="228.29" y2="470.90" stroke="#1a1a1a" stroke-width="1.3"/>
<text x="192.50" y="483.90" font-size="12.2" text-anchor="middle" font-weight="normal" fill="#1a1a1a">0</text>
<text x="228.29" y="483.90" font-size="12.2" text-anchor="middle" font-weight="normal" fill="#1a1a1a">30</text>
<path d="M195.70,449.10 L195.70,457.70 L188.30,453.40 Z" fill="#fff" stroke="#dd8b58" stroke-width="1.35"/>
<path d="M201.66,420.44 L201.66,429.04 L194.27,424.74 Z" fill="#fff" stroke="#dd8b58" stroke-width="1.35"/>
<line x1="204.43" y1="393.08" x2="204.43" y2="399.08" stroke="#dd8b58" stroke-width="1.1"/>
<line x1="201.23" y1="393.08" x2="207.63" y2="393.08" stroke="#dd8b58" stroke-width="1.1"/>
<line x1="201.23" y1="399.08" x2="207.63" y2="399.08" stroke="#dd8b58" stroke-width="1.1"/>
<path d="M207.63,391.78 L207.63,400.38 L200.23,396.08 Z" fill="#fff" stroke="#dd8b58" stroke-width="1.35"/>
<line x1="210.40" y1="365.29" x2="210.40" y2="375.29" stroke="#dd8b58" stroke-width="1.1"/>
<line x1="207.20" y1="365.29" x2="213.59" y2="365.29" stroke="#dd8b58" stroke-width="1.1"/>
<line x1="207.20" y1="375.29" x2="213.59" y2="375.29" stroke="#dd8b58" stroke-width="1.1"/>
<path d="M213.59,365.99 L213.59,374.59 L206.20,370.29 Z" fill="#fff" stroke="#dd8b58" stroke-width="1.35"/>
<line x1="216.36" y1="339.21" x2="216.36" y2="353.21" stroke="#dd8b58" stroke-width="1.1"/>
<line x1="213.16" y1="339.21" x2="219.56" y2="339.21" stroke="#dd8b58" stroke-width="1.1"/>
<line x1="213.16" y1="353.21" x2="219.56" y2="353.21" stroke="#dd8b58" stroke-width="1.1"/>
<path d="M219.56,341.91 L219.56,350.51 L212.16,346.21 Z" fill="#fff" stroke="#dd8b58" stroke-width="1.35"/>
<line x1="222.32" y1="314.78" x2="222.32" y2="331.78" stroke="#dd8b58" stroke-width="1.1"/>
<line x1="219.12" y1="314.78" x2="225.52" y2="314.78" stroke="#dd8b58" stroke-width="1.1"/>
<line x1="219.12" y1="331.78" x2="225.52" y2="331.78" stroke="#dd8b58" stroke-width="1.1"/>
<path d="M225.52,318.98 L225.52,327.58 L218.12,323.28 Z" fill="#fff" stroke="#dd8b58" stroke-width="1.35"/>
<line x1="228.29" y1="291.50" x2="228.29" y2="311.50" stroke="#dd8b58" stroke-width="1.1"/>
<line x1="225.09" y1="291.50" x2="231.49" y2="291.50" stroke="#dd8b58" stroke-width="1.1"/>
<line x1="225.09" y1="311.50" x2="231.49" y2="311.50" stroke="#dd8b58" stroke-width="1.1"/>
<path d="M231.49,297.20 L231.49,305.80 L224.09,301.50 Z" fill="#fff" stroke="#dd8b58" stroke-width="1.35"/>
<rect x="240.7" y="266.6" width="47.8" height="201.40" fill="#fff" stroke="#1a1a1a" stroke-width="1.7"/>
<line x1="246.20" y1="468.00" x2="246.20" y2="470.90" stroke="#1a1a1a" stroke-width="1.3"/>
<line x1="252.16" y1="468.00" x2="252.16" y2="469.90" stroke="#1a1a1a" stroke-width="1.3"/>
<line x1="258.13" y1="468.00" x2="258.13" y2="469.90" stroke="#1a1a1a" stroke-width="1.3"/>
<line x1="264.09" y1="468.00" x2="264.09" y2="469.90" stroke="#1a1a1a" stroke-width="1.3"/>
<line x1="270.06" y1="468.00" x2="270.06" y2="469.90" stroke="#1a1a1a" stroke-width="1.3"/>
<line x1="276.02" y1="468.00" x2="276.02" y2="469.90" stroke="#1a1a1a" stroke-width="1.3"/>
<line x1="281.99" y1="468.00" x2="281.99" y2="470.90" stroke="#1a1a1a" stroke-width="1.3"/>
<text x="246.20" y="483.90" font-size="12.2" text-anchor="middle" font-weight="normal" fill="#1a1a1a">0</text>
<text x="281.99" y="483.90" font-size="12.2" text-anchor="middle" font-weight="normal" fill="#1a1a1a">30</text>
<path d="M246.20,449.10 L250.30,453.40 L246.20,457.70 L242.10,453.40 Z" fill="#e1626c"/>
<path d="M252.16,420.44 L256.26,424.74 L252.16,429.04 L248.06,424.74 Z" fill="#e1626c"/>
<line x1="258.13" y1="393.51" x2="258.13" y2="401.51" stroke="#e1626c" stroke-width="1.1"/>
<line x1="254.93" y1="393.51" x2="261.33" y2="393.51" stroke="#e1626c" stroke-width="1.1"/>
<line x1="254.93" y1="401.51" x2="261.33" y2="401.51" stroke="#e1626c" stroke-width="1.1"/>
<path d="M258.13,393.21 L262.23,397.51 L258.13,401.81 L254.03,397.51 Z" fill="#e1626c"/>
<line x1="264.09" y1="365.79" x2="264.09" y2="378.79" stroke="#e1626c" stroke-width="1.1"/>
<line x1="260.89" y1="365.79" x2="267.29" y2="365.79" stroke="#e1626c" stroke-width="1.1"/>
<line x1="260.89" y1="378.79" x2="267.29" y2="378.79" stroke="#e1626c" stroke-width="1.1"/>
<path d="M264.09,367.99 L268.19,372.29 L264.09,376.59 L259.99,372.29 Z" fill="#e1626c"/>
<line x1="270.06" y1="341.44" x2="270.06" y2="358.44" stroke="#e1626c" stroke-width="1.1"/>
<line x1="266.86" y1="341.44" x2="273.26" y2="341.44" stroke="#e1626c" stroke-width="1.1"/>
<line x1="266.86" y1="358.44" x2="273.26" y2="358.44" stroke="#e1626c" stroke-width="1.1"/>
<path d="M270.06,345.64 L274.16,349.94 L270.06,354.24 L265.96,349.94 Z" fill="#e1626c"/>
<line x1="276.02" y1="318.66" x2="276.02" y2="337.66" stroke="#e1626c" stroke-width="1.1"/>
<line x1="272.82" y1="318.66" x2="279.22" y2="318.66" stroke="#e1626c" stroke-width="1.1"/>
<line x1="272.82" y1="337.66" x2="279.22" y2="337.66" stroke="#e1626c" stroke-width="1.1"/>
<path d="M276.02,323.86 L280.12,328.16 L276.02,332.46 L271.92,328.16 Z" fill="#e1626c"/>
<line x1="281.99" y1="295.51" x2="281.99" y2="315.51" stroke="#e1626c" stroke-width="1.1"/>
<line x1="278.79" y1="295.51" x2="285.19" y2="295.51" stroke="#e1626c" stroke-width="1.1"/>
<line x1="278.79" y1="315.51" x2="285.19" y2="315.51" stroke="#e1626c" stroke-width="1.1"/>
<path d="M281.99,301.21 L286.09,305.51 L281.99,309.81 L277.89,305.51 Z" fill="#e1626c"/>
<rect x="296.0" y="266.6" width="47.8" height="201.40" fill="#fff" stroke="#1a1a1a" stroke-width="1.7"/>
<line x1="301.50" y1="468.00" x2="301.50" y2="470.90" stroke="#1a1a1a" stroke-width="1.3"/>
<line x1="307.46" y1="468.00" x2="307.46" y2="469.90" stroke="#1a1a1a" stroke-width="1.3"/>
<line x1="313.43" y1="468.00" x2="313.43" y2="469.90" stroke="#1a1a1a" stroke-width="1.3"/>
<line x1="319.39" y1="468.00" x2="319.39" y2="469.90" stroke="#1a1a1a" stroke-width="1.3"/>
<line x1="325.36" y1="468.00" x2="325.36" y2="469.90" stroke="#1a1a1a" stroke-width="1.3"/>
<line x1="331.32" y1="468.00" x2="331.32" y2="469.90" stroke="#1a1a1a" stroke-width="1.3"/>
<line x1="337.29" y1="468.00" x2="337.29" y2="470.90" stroke="#1a1a1a" stroke-width="1.3"/>
<text x="301.50" y="483.90" font-size="12.2" text-anchor="middle" font-weight="normal" fill="#1a1a1a">0</text>
<text x="337.29" y="483.90" font-size="12.2" text-anchor="middle" font-weight="normal" fill="#1a1a1a">30</text>
<polygon points="305.31,455.60 301.50,457.80 297.69,455.60 297.69,451.20 301.50,449.00 305.31,451.20" fill="#fff" stroke="#47a548" stroke-width="1.3"/>
<polygon points="311.28,428.09 307.46,430.29 303.65,428.09 303.65,423.69 307.46,421.49 311.28,423.69" fill="#fff" stroke="#47a548" stroke-width="1.3"/>
<line x1="307.46" y1="424.39" x2="307.46" y2="427.39" stroke="#47a548" stroke-width="0.9"/>
<line x1="305.26" y1="424.39" x2="309.66" y2="424.39" stroke="#47a548" stroke-width="0.9"/>
<line x1="305.26" y1="427.39" x2="309.66" y2="427.39" stroke="#47a548" stroke-width="0.9"/>
<polygon points="317.24,404.87 313.43,407.07 309.62,404.87 309.62,400.47 313.43,398.27 317.24,400.47" fill="#fff" stroke="#47a548" stroke-width="1.3"/>
<polygon points="323.21,384.52 319.39,386.72 315.58,384.52 315.58,380.12 319.39,377.92 323.21,380.12" fill="#fff" stroke="#47a548" stroke-width="1.3"/>
<line x1="319.39" y1="380.82" x2="319.39" y2="383.82" stroke="#47a548" stroke-width="0.9"/>
<line x1="317.19" y1="380.82" x2="321.59" y2="380.82" stroke="#47a548" stroke-width="0.9"/>
<line x1="317.19" y1="383.82" x2="321.59" y2="383.82" stroke="#47a548" stroke-width="0.9"/>
<polygon points="329.17,364.46 325.36,366.66 321.55,364.46 321.55,360.06 325.36,357.86 329.17,360.06" fill="#fff" stroke="#47a548" stroke-width="1.3"/>
<line x1="325.36" y1="360.46" x2="325.36" y2="364.06" stroke="#47a548" stroke-width="0.9"/>
<line x1="323.16" y1="360.46" x2="327.56" y2="360.46" stroke="#47a548" stroke-width="0.9"/>
<line x1="323.16" y1="364.06" x2="327.56" y2="364.06" stroke="#47a548" stroke-width="0.9"/>
<polygon points="335.14,346.12 331.32,348.32 327.51,346.12 327.51,341.72 331.32,339.52 335.14,341.72" fill="#fff" stroke="#47a548" stroke-width="1.3"/>
<line x1="331.32" y1="342.12" x2="331.32" y2="345.72" stroke="#47a548" stroke-width="0.9"/>
<line x1="329.12" y1="342.12" x2="333.52" y2="342.12" stroke="#47a548" stroke-width="0.9"/>
<line x1="329.12" y1="345.72" x2="333.52" y2="345.72" stroke="#47a548" stroke-width="0.9"/>
<polygon points="341.10,328.35 337.29,330.55 333.48,328.35 333.48,323.95 337.29,321.75 341.10,323.95" fill="#fff" stroke="#47a548" stroke-width="1.3"/>
<line x1="337.29" y1="324.35" x2="337.29" y2="327.95" stroke="#47a548" stroke-width="0.9"/>
<line x1="335.09" y1="324.35" x2="339.49" y2="324.35" stroke="#47a548" stroke-width="0.9"/>
<line x1="335.09" y1="327.95" x2="339.49" y2="327.95" stroke="#47a548" stroke-width="0.9"/>
<line x1="83" y1="275" x2="114.2" y2="275" stroke="#222" stroke-width="1.1" stroke-dasharray="1.2 0.5"/>
<text x="86.20" y="287.60" font-size="9" text-anchor="start" font-weight="normal" fill="#222">Calm</text>
<path d="M138.3,275.8 H163.5" stroke="#333" stroke-width="0.9" fill="none"/><path d="M162.8,274.2 L166,275.8 L162.8,277.4 Z" fill="#222"/>
<text x="137.00" y="288.10" font-size="9" text-anchor="start" font-weight="normal" fill="#222">Constant</text>
<path d="M193.3,279 C194.8,279 195.2,272 197.6,272 C200,272 200.2,278.3 202.4,278.3 C204.6,278.3 204.8,272 207.2,272 C209.6,272 209.8,278.3 212,278.3 C214.2,278.3 214.4,272 216.8,272 C219.2,272 219.4,279 221.3,279" fill="none" stroke="#222" stroke-width="1.0"/>
<text x="194.50" y="288.70" font-size="9" text-anchor="start" font-weight="normal" fill="#222">Pulse</text>
<path d="M249.4,275 Q250.95,272.4 252.50,275.3 Q254.05,278.2 255.60,275.3 Q257.15,272.4 258.70,275.3 Q260.25,278.2 261.80,275.3 Q263.35,272.4 264.90,275.3 Q266.45,278.2 268.00,275.3 Q269.55,272.4 271.10,275.3 Q272.65,278.2 274.20,275.3 " fill="none" stroke="#222" stroke-width="1.0"/><path d="M273.6,273.6 L277,275.2 L273.6,276.9 Z" fill="#222"/>
<text x="250.90" y="288.70" font-size="9" text-anchor="start" font-weight="normal" fill="#222">Tide</text>
<path d="M302.5,278.6 Q304.5,276.5 306,278 Q307.5,279.6 309,277.5 C310.5,275 310.8,270.4 312.2,270.4 C313.8,270.4 314.5,280.6 316.6,280.6 C318.2,280.6 318.4,275.6 320,275.6 C321.6,275.6 321.8,279.6 323.4,279.6 C324.6,279.6 325,277.2 326.2,277.4 L328,278.2" fill="none" stroke="#222" stroke-width="0.95"/><path d="M327,276.6 L330.4,278.3 L327,280 Z" fill="#222"/>
<text x="297.40" y="288.70" font-size="9" text-anchor="start" font-weight="normal" fill="#222">Turbulence</text>
<text x="47.40" y="369.60" font-size="12" text-anchor="middle" font-weight="normal" fill="#1a1a1a" transform="rotate(-90 47.40 369.60)">Water migration mass (g<tspan font-size="7.2" dy="2.6">H</tspan><tspan font-size="5.4" dy="1.4">2</tspan><tspan font-size="7.2" dy="-1.4">O</tspan><tspan dy="-2.6"> g</tspan><tspan font-size="7.2" dy="2.6">SDE</tspan><tspan font-size="7.2" dy="-8.4" dx="-13.5">-1</tspan><tspan dy="5.8" dx="5.5">)</tspan></text>
</g>
<g id="panel-e">
<line x1="432.90" y1="277.80" x2="432.90" y2="480.00" stroke="#1a1a1a" stroke-width="1.4"/>
<line x1="432.20" y1="479.30" x2="683.80" y2="479.30" stroke="#1a1a1a" stroke-width="1.4"/>
<text x="426.10" y="483.50" font-size="11.8" text-anchor="end" font-weight="normal" fill="#1a1a1a">0.012</text>
<line x1="428.10" y1="429.08" x2="432.90" y2="429.08" stroke="#1a1a1a" stroke-width="1.2"/>
<text x="426.10" y="433.28" font-size="11.8" text-anchor="end" font-weight="normal" fill="#1a1a1a">0.015</text>
<line x1="428.10" y1="378.86" x2="432.90" y2="378.86" stroke="#1a1a1a" stroke-width="1.2"/>
<text x="426.10" y="383.06" font-size="11.8" text-anchor="end" font-weight="normal" fill="#1a1a1a">0.018</text>
<line x1="428.10" y1="328.64" x2="432.90" y2="328.64" stroke="#1a1a1a" stroke-width="1.2"/>
<text x="426.10" y="332.84" font-size="11.8" text-anchor="end" font-weight="normal" fill="#1a1a1a">0.021</text>
<line x1="428.10" y1="278.42" x2="432.90" y2="278.42" stroke="#1a1a1a" stroke-width="1.2"/>
<text x="426.10" y="282.62" font-size="11.8" text-anchor="end" font-weight="normal" fill="#1a1a1a">0.024</text>
<line x1="430.10" y1="454.19" x2="432.90" y2="454.19" stroke="#1a1a1a" stroke-width="1.0"/>
<line x1="430.10" y1="403.97" x2="432.90" y2="403.97" stroke="#1a1a1a" stroke-width="1.0"/>
<line x1="430.10" y1="353.75" x2="432.90" y2="353.75" stroke="#1a1a1a" stroke-width="1.0"/>
<line x1="430.10" y1="303.53" x2="432.90" y2="303.53" stroke="#1a1a1a" stroke-width="1.0"/>
<text x="386.60" y="379.00" font-size="12" text-anchor="middle" font-weight="normal" fill="#1a1a1a" transform="rotate(-90 386.60 379.00)">Water migration rate (g<tspan font-size="7.2" dy="2.6">H</tspan><tspan font-size="5.4" dy="1.4">2</tspan><tspan font-size="7.2" dy="-1.4">O</tspan><tspan dy="-2.6"> g</tspan><tspan font-size="7.2" dy="2.6">SDE</tspan><tspan font-size="7.2" dy="-8.4" dx="-13.5">-1</tspan><tspan dy="5.8" dx="5.5"> min</tspan><tspan font-size="7.2" dy="-5">-1</tspan><tspan dy="5">)</tspan></text>
<line x1="474.80" y1="441.60" x2="474.80" y2="464.60" stroke="#8fc3e8" stroke-width="1.2"/>
<line x1="471.80" y1="441.60" x2="477.80" y2="441.60" stroke="#8fc3e8" stroke-width="1.2"/>
<line x1="471.80" y1="464.60" x2="477.80" y2="464.60" stroke="#8fc3e8" stroke-width="1.2"/>
<rect x="471.30" y="449.30" width="7.00" height="7.20" fill="#8fc3e8"/>
<line x1="557.90" y1="376.40" x2="557.90" y2="391.90" stroke="#4f94d4" stroke-width="1.2"/>
<line x1="554.90" y1="376.40" x2="560.90" y2="376.40" stroke="#4f94d4" stroke-width="1.2"/>
<line x1="554.90" y1="391.90" x2="560.90" y2="391.90" stroke="#4f94d4" stroke-width="1.2"/>
<circle cx="557.9" cy="384.2" r="4.4" fill="#4f94d4"/>
<line x1="641.10" y1="335.80" x2="641.10" y2="375.80" stroke="#1f5078" stroke-width="1.2"/>
<line x1="638.10" y1="335.80" x2="644.10" y2="335.80" stroke="#1f5078" stroke-width="1.2"/>
<line x1="638.10" y1="375.80" x2="644.10" y2="375.80" stroke="#1f5078" stroke-width="1.2"/>
<path d="M641.1,350.2 L646.3,359 L635.9,359 Z" fill="#1f5078"/>
<text x="462.30" y="403.70" font-size="8.6" text-anchor="start" font-weight="normal" fill="#222">54.5 cm</text>
<line x1="465.00" y1="408.00" x2="482.00" y2="408.00" stroke="#555" stroke-width="0.8"/>
<path d="M467.40,406.70 L465.00,408.00 L467.40,409.30 Z M479.60,406.70 L482.00,408.00 L479.60,409.30 Z" fill="#444"/>
<path d="M466.40,420.30 L468.93,414.50 Q470.35,412.30 471.77,414.50 L476.83,426.10 Q478.25,428.30 479.67,426.10 L482.20,420.30 Z" fill="none" stroke="#333" stroke-width="0.95" stroke-linejoin="round"/>
<line x1="488.70" y1="414.40" x2="488.70" y2="428.20" stroke="#555" stroke-width="0.8"/>
<path d="M487.40,416.80 L488.70,414.40 L490.00,416.80 Z M487.40,425.80 L488.70,428.20 L490.00,425.80 Z" fill="#444"/>
<text x="491.40" y="422.30" font-size="8.6" text-anchor="start" font-weight="normal" fill="#222">2.9 cm</text>
<text x="540.30" y="335.40" font-size="8.6" text-anchor="start" font-weight="normal" fill="#222">59.4 cm</text>
<line x1="540.40" y1="341.40" x2="566.70" y2="341.40" stroke="#555" stroke-width="0.8"/>
<path d="M542.80,340.10 L540.40,341.40 L542.80,342.70 Z M564.30,340.10 L566.70,341.40 L564.30,342.70 Z" fill="#444"/>
<path d="M542.30,354.20 L546.36,347.80 Q548.65,345.60 550.94,347.80 L559.06,360.60 Q561.35,362.80 563.64,360.60 L567.70,354.20 Z" fill="none" stroke="#333" stroke-width="0.95" stroke-linejoin="round"/>
<line x1="571.40" y1="345.20" x2="571.40" y2="364.20" stroke="#555" stroke-width="0.8"/>
<path d="M570.10,347.60 L571.40,345.20 L572.70,347.60 Z M570.10,361.80 L571.40,364.20 L572.70,361.80 Z" fill="#444"/>
<text x="576.20" y="357.60" font-size="8.6" text-anchor="start" font-weight="normal" fill="#222">3.2 cm</text>
<text x="626.80" y="286.60" font-size="8.6" text-anchor="start" font-weight="normal" fill="#222">62.3 cm</text>
<line x1="624.40" y1="292.70" x2="654.40" y2="292.70" stroke="#555" stroke-width="0.8"/>
<path d="M626.80,291.40 L624.40,292.70 L626.80,294.00 Z M652.00,291.40 L654.40,292.70 L652.00,294.00 Z" fill="#444"/>
<path d="M627.90,308.10 L632.16,299.00 Q634.55,296.80 636.94,299.00 L645.46,317.20 Q647.85,319.40 650.24,317.20 L654.50,308.10 Z" fill="none" stroke="#333" stroke-width="0.95" stroke-linejoin="round"/>
<line x1="660.00" y1="296.80" x2="660.00" y2="317.90" stroke="#555" stroke-width="0.8"/>
<path d="M658.70,299.20 L660.00,296.80 L661.30,299.20 Z M658.70,315.50 L660.00,317.90 L661.30,315.50 Z" fill="#444"/>
<text x="664.90" y="309.80" font-size="8.6" text-anchor="start" font-weight="normal" fill="#222">3.4 cm</text>
</g>
<g id="panel-fg">
<g clip-path="url(#clipF1)"><g filter="url(#semSoft)" stroke="#333" stroke-width="0.7" stroke-opacity="0.75">
<rect x="723.3" y="277.2" width="139.4" height="92.8" fill="#484848" stroke="none"/>
<circle cx="815.2" cy="277.3" r="3.7" fill="url(#bumpA)"/>
<circle cx="765.6" cy="277.3" r="3.2" fill="url(#bumpA)"/>
<circle cx="838.4" cy="278.4" r="3.5" fill="url(#bumpA)"/>
<circle cx="781.4" cy="278.1" r="5.4" fill="url(#bumpA)"/>
<circle cx="730.5" cy="278.8" r="5.3" fill="url(#bumpA)"/>
<circle cx="827.1" cy="277.5" r="5.9" fill="url(#bumpB)"/>
<circle cx="750.5" cy="279.6" r="4.8" fill="url(#bumpA)"/>
<circle cx="800.8" cy="278.8" r="5.3" fill="url(#bumpB)"/>
<circle cx="723.8" cy="277.5" r="4.2" fill="url(#bumpA)"/>
<circle cx="736.8" cy="279.5" r="3.8" fill="url(#bumpA)"/>
<circle cx="846.6" cy="277.4" r="3.5" fill="url(#bumpA)"/>
<circle cx="795.4" cy="280.8" r="3.3" fill="url(#bumpA)"/>
<circle cx="755.9" cy="278.5" r="3.4" fill="url(#bumpB)"/>
<circle cx="832.6" cy="281.0" r="3.4" fill="url(#bumpA)"/>
<circle cx="772.5" cy="277.6" r="3.3" fill="url(#bumpA)"/>
<circle cx="861.6" cy="278.0" r="4.9" fill="url(#bumpB)"/>
<circle cx="742.7" cy="277.3" r="6.0" fill="url(#bumpB)"/>
<circle cx="760.3" cy="279.9" r="3.7" fill="url(#bumpA)"/>
<circle cx="806.6" cy="279.8" r="3.5" fill="url(#bumpA)"/>
<circle cx="853.8" cy="277.7" r="3.3" fill="url(#bumpA)"/>
<circle cx="818.0" cy="281.6" r="3.5" fill="url(#bumpA)"/>
<circle cx="768.4" cy="281.8" r="4.9" fill="url(#bumpA)"/>
<circle cx="788.9" cy="281.4" r="3.7" fill="url(#bumpB)"/>
<circle cx="800.9" cy="284.6" r="3.4" fill="url(#bumpA)"/>
<circle cx="856.9" cy="281.1" r="3.4" fill="url(#bumpA)"/>
<circle cx="753.9" cy="283.7" r="3.3" fill="url(#bumpA)"/>
<circle cx="775.4" cy="282.8" r="4.9" fill="url(#bumpA)"/>
<circle cx="748.4" cy="286.2" r="3.3" fill="url(#bumpA)"/>
<circle cx="786.1" cy="285.0" r="3.2" fill="url(#bumpA)"/>
<circle cx="850.6" cy="284.3" r="5.9" fill="url(#bumpA)"/>
<circle cx="738.5" cy="284.2" r="3.4" fill="url(#bumpA)"/>
<circle cx="744.1" cy="283.6" r="3.2" fill="url(#bumpA)"/>
<circle cx="841.3" cy="284.2" r="3.6" fill="url(#bumpC)"/>
<circle cx="725.0" cy="283.4" r="3.5" fill="url(#bumpA)"/>
<circle cx="859.3" cy="285.3" r="3.3" fill="url(#bumpA)"/>
<circle cx="811.0" cy="283.5" r="3.8" fill="url(#bumpB)"/>
<circle cx="731.2" cy="287.4" r="6.0" fill="url(#bumpB)"/>
<circle cx="742.0" cy="288.6" r="4.9" fill="url(#bumpC)"/>
<circle cx="827.2" cy="285.0" r="5.1" fill="url(#bumpB)"/>
<circle cx="782.1" cy="287.5" r="3.5" fill="url(#bumpA)"/>
<circle cx="821.8" cy="286.6" r="3.3" fill="url(#bumpA)"/>
<circle cx="759.2" cy="287.3" r="3.5" fill="url(#bumpA)"/>
<circle cx="725.0" cy="287.9" r="3.2" fill="url(#bumpA)"/>
<circle cx="763.8" cy="285.2" r="3.9" fill="url(#bumpA)"/>
<circle cx="807.6" cy="288.4" r="3.3" fill="url(#bumpA)"/>
<circle cx="834.9" cy="288.8" r="4.4" fill="url(#bumpB)"/>
<circle cx="798.5" cy="288.6" r="3.5" fill="url(#bumpA)"/>
<circle cx="846.9" cy="290.4" r="3.2" fill="url(#bumpA)"/>
<circle cx="768.5" cy="288.2" r="3.3" fill="url(#bumpA)"/>
<circle cx="747.4" cy="291.0" r="3.4" fill="url(#bumpA)"/>
<circle cx="762.5" cy="290.1" r="3.2" fill="url(#bumpA)"/>
<circle cx="793.5" cy="290.9" r="5.0" fill="url(#bumpA)"/>
<circle cx="828.0" cy="291.6" r="3.2" fill="url(#bumpC)"/>
<circle cx="859.0" cy="290.4" r="4.4" fill="url(#bumpA)"/>
<circle cx="854.1" cy="294.0" r="4.3" fill="url(#bumpB)"/>
<circle cx="730.7" cy="293.9" r="3.2" fill="url(#bumpA)"/>
<circle cx="752.4" cy="289.5" r="4.7" fill="url(#bumpA)"/>
<circle cx="802.2" cy="292.2" r="3.3" fill="url(#bumpA)"/>
<circle cx="813.8" cy="289.5" r="5.1" fill="url(#bumpB)"/>
<circle cx="814.4" cy="295.0" r="3.2" fill="url(#bumpA)"/>
<circle cx="786.1" cy="290.0" r="3.8" fill="url(#bumpA)"/>
<circle cx="841.2" cy="289.8" r="3.8" fill="url(#bumpA)"/>
<circle cx="757.9" cy="292.9" r="3.2" fill="url(#bumpA)"/>
<circle cx="821.1" cy="290.8" r="3.2" fill="url(#bumpA)"/>
<circle cx="772.2" cy="292.3" r="3.2" fill="url(#bumpA)"/>
<circle cx="862.4" cy="295.3" r="3.8" fill="url(#bumpA)"/>
<circle cx="776.8" cy="291.7" r="3.7" fill="url(#bumpA)"/>
<circle cx="831.3" cy="294.4" r="3.4" fill="url(#bumpA)"/>
<circle cx="736.7" cy="293.4" r="5.9" fill="url(#bumpA)"/>
<circle cx="805.3" cy="296.3" r="3.9" fill="url(#bumpC)"/>
<circle cx="744.0" cy="296.3" r="4.4" fill="url(#bumpA)"/>
<circle cx="725.3" cy="295.3" r="5.2" fill="url(#bumpB)"/>
<circle cx="809.9" cy="295.9" r="3.3" fill="url(#bumpA)"/>
<circle cx="858.1" cy="298.6" r="3.4" fill="url(#bumpB)"/>
<circle cx="779.2" cy="296.0" r="3.3" fill="url(#bumpB)"/>
<circle cx="766.4" cy="297.3" r="3.3" fill="url(#bumpB)"/>
<circle cx="848.7" cy="294.7" r="3.9" fill="url(#bumpB)"/>
<circle cx="773.3" cy="298.1" r="5.8" fill="url(#bumpB)"/>
<circle cx="820.0" cy="295.9" r="4.6" fill="url(#bumpA)"/>
<circle cx="752.8" cy="295.4" r="3.7" fill="url(#bumpC)"/>
<circle cx="786.0" cy="296.1" r="3.3" fill="url(#bumpB)"/>
<circle cx="813.7" cy="299.5" r="3.6" fill="url(#bumpA)"/>
<circle cx="835.8" cy="298.8" r="5.6" fill="url(#bumpC)"/>
<circle cx="790.5" cy="298.5" r="3.4" fill="url(#bumpA)"/>
<circle cx="797.5" cy="297.3" r="3.5" fill="url(#bumpB)"/>
<circle cx="843.2" cy="297.2" r="4.9" fill="url(#bumpB)"/>
<circle cx="760.3" cy="299.1" r="6.1" fill="url(#bumpB)"/>
<circle cx="794.2" cy="302.1" r="3.3" fill="url(#bumpA)"/>
<circle cx="826.4" cy="298.5" r="4.6" fill="url(#bumpA)"/>
<circle cx="801.5" cy="300.4" r="3.3" fill="url(#bumpA)"/>
<circle cx="753.1" cy="302.8" r="4.0" fill="url(#bumpA)"/>
<circle cx="862.4" cy="301.7" r="3.2" fill="url(#bumpA)"/>
<circle cx="808.2" cy="301.0" r="3.2" fill="url(#bumpA)"/>
<circle cx="821.4" cy="302.6" r="4.0" fill="url(#bumpA)"/>
<circle cx="728.2" cy="301.3" r="3.4" fill="url(#bumpA)"/>
<circle cx="747.6" cy="302.7" r="3.9" fill="url(#bumpA)"/>
<circle cx="768.1" cy="304.0" r="3.7" fill="url(#bumpB)"/>
<circle cx="731.8" cy="298.5" r="3.3" fill="url(#bumpC)"/>
<circle cx="837.4" cy="305.0" r="3.4" fill="url(#bumpA)"/>
<circle cx="789.7" cy="304.0" r="3.2" fill="url(#bumpA)"/>
<circle cx="782.7" cy="300.3" r="3.8" fill="url(#bumpA)"/>
<circle cx="808.3" cy="305.6" r="3.6" fill="url(#bumpA)"/>
<circle cx="848.5" cy="301.7" r="3.4" fill="url(#bumpA)"/>
<circle cx="735.7" cy="302.1" r="3.7" fill="url(#bumpA)"/>
<circle cx="798.4" cy="304.1" r="3.3" fill="url(#bumpB)"/>
<circle cx="740.2" cy="301.2" r="3.3" fill="url(#bumpA)"/>
<circle cx="803.9" cy="304.2" r="3.3" fill="url(#bumpA)"/>
<circle cx="842.5" cy="306.4" r="4.4" fill="url(#bumpC)"/>
<circle cx="741.7" cy="305.7" r="4.1" fill="url(#bumpB)"/>
<circle cx="814.8" cy="306.3" r="4.9" fill="url(#bumpB)"/>
<circle cx="828.2" cy="304.9" r="3.7" fill="url(#bumpB)"/>
<circle cx="725.7" cy="306.4" r="5.4" fill="url(#bumpA)"/>
<circle cx="819.8" cy="308.6" r="3.3" fill="url(#bumpA)"/>
<circle cx="847.9" cy="307.9" r="3.6" fill="url(#bumpA)"/>
<circle cx="860.0" cy="306.4" r="3.3" fill="url(#bumpA)"/>
<circle cx="852.2" cy="309.0" r="3.3" fill="url(#bumpA)"/>
<circle cx="855.0" cy="305.1" r="3.5" fill="url(#bumpA)"/>
<circle cx="785.2" cy="306.1" r="3.5" fill="url(#bumpB)"/>
<circle cx="732.9" cy="307.7" r="4.9" fill="url(#bumpA)"/>
<circle cx="763.1" cy="305.1" r="3.5" fill="url(#bumpA)"/>
<circle cx="777.3" cy="306.2" r="4.6" fill="url(#bumpA)"/>
<circle cx="800.4" cy="310.1" r="6.0" fill="url(#bumpA)"/>
<circle cx="740.4" cy="310.5" r="3.7" fill="url(#bumpA)"/>
<circle cx="789.0" cy="311.2" r="3.9" fill="url(#bumpA)"/>
<circle cx="771.3" cy="308.8" r="3.2" fill="url(#bumpA)"/>
<circle cx="758.5" cy="307.2" r="3.7" fill="url(#bumpA)"/>
<circle cx="859.8" cy="310.8" r="3.3" fill="url(#bumpA)"/>
<circle cx="845.0" cy="311.9" r="3.2" fill="url(#bumpA)"/>
<circle cx="832.7" cy="307.7" r="3.3" fill="url(#bumpB)"/>
<circle cx="838.0" cy="311.3" r="4.6" fill="url(#bumpA)"/>
<circle cx="749.8" cy="308.9" r="3.2" fill="url(#bumpA)"/>
<circle cx="745.4" cy="309.4" r="3.4" fill="url(#bumpA)"/>
<circle cx="754.7" cy="311.5" r="4.9" fill="url(#bumpA)"/>
<circle cx="793.1" cy="308.6" r="3.2" fill="url(#bumpB)"/>
<circle cx="781.9" cy="309.4" r="3.3" fill="url(#bumpA)"/>
<circle cx="827.4" cy="309.4" r="3.4" fill="url(#bumpA)"/>
<circle cx="777.4" cy="311.8" r="3.2" fill="url(#bumpA)"/>
<circle cx="807.2" cy="310.2" r="3.3" fill="url(#bumpB)"/>
<circle cx="761.7" cy="314.8" r="3.5" fill="url(#bumpA)"/>
<circle cx="727.2" cy="314.1" r="3.5" fill="url(#bumpA)"/>
<circle cx="737.2" cy="315.7" r="5.7" fill="url(#bumpA)"/>
<circle cx="818.9" cy="314.5" r="4.0" fill="url(#bumpA)"/>
<circle cx="764.9" cy="311.4" r="3.4" fill="url(#bumpA)"/>
<circle cx="824.8" cy="314.3" r="3.8" fill="url(#bumpA)"/>
<circle cx="848.5" cy="314.8" r="3.9" fill="url(#bumpA)"/>
<circle cx="744.0" cy="313.7" r="3.3" fill="url(#bumpA)"/>
<circle cx="749.5" cy="314.0" r="3.4" fill="url(#bumpA)"/>
<circle cx="832.2" cy="312.7" r="3.8" fill="url(#bumpA)"/>
<circle cx="769.4" cy="313.8" r="3.4" fill="url(#bumpA)"/>
<circle cx="814.6" cy="312.2" r="3.2" fill="url(#bumpA)"/>
<circle cx="853.6" cy="313.4" r="3.2" fill="url(#bumpB)"/>
<circle cx="777.1" cy="316.8" r="4.0" fill="url(#bumpB)"/>
<circle cx="753.9" cy="316.9" r="3.2" fill="url(#bumpA)"/>
<circle cx="808.3" cy="316.3" r="6.0" fill="url(#bumpA)"/>
<circle cx="862.0" cy="315.4" r="4.0" fill="url(#bumpB)"/>
<circle cx="792.8" cy="314.2" r="3.6" fill="url(#bumpA)"/>
<circle cx="763.5" cy="319.7" r="4.3" fill="url(#bumpA)"/>
<circle cx="797.6" cy="315.4" r="3.2" fill="url(#bumpA)"/>
<circle cx="857.0" cy="317.8" r="3.9" fill="url(#bumpB)"/>
<circle cx="821.5" cy="320.3" r="3.4" fill="url(#bumpA)"/>
<circle cx="725.3" cy="319.4" r="3.2" fill="url(#bumpA)"/>
<circle cx="758.5" cy="318.9" r="3.2" fill="url(#bumpB)"/>
<circle cx="769.0" cy="319.5" r="3.7" fill="url(#bumpB)"/>
<circle cx="801.0" cy="320.1" r="3.2" fill="url(#bumpA)"/>
<circle cx="784.3" cy="315.7" r="3.2" fill="url(#bumpA)"/>
<circle cx="782.0" cy="320.0" r="3.7" fill="url(#bumpB)"/>
<circle cx="789.3" cy="317.4" r="3.2" fill="url(#bumpB)"/>
<circle cx="786.2" cy="322.3" r="3.8" fill="url(#bumpA)"/>
<circle cx="862.5" cy="322.8" r="4.5" fill="url(#bumpB)"/>
<circle cx="826.8" cy="320.5" r="3.5" fill="url(#bumpA)"/>
<circle cx="842.9" cy="319.8" r="6.0" fill="url(#bumpA)"/>
<circle cx="732.7" cy="319.9" r="3.4" fill="url(#bumpA)"/>
<circle cx="814.2" cy="319.2" r="3.3" fill="url(#bumpA)"/>
<circle cx="836.3" cy="323.9" r="3.7" fill="url(#bumpA)"/>
<circle cx="750.4" cy="320.9" r="3.4" fill="url(#bumpA)"/>
<circle cx="833.2" cy="318.3" r="4.6" fill="url(#bumpA)"/>
<circle cx="736.7" cy="324.1" r="3.9" fill="url(#bumpB)"/>
<circle cx="741.7" cy="321.5" r="3.7" fill="url(#bumpA)"/>
<circle cx="768.8" cy="324.3" r="3.4" fill="url(#bumpA)"/>
<circle cx="830.2" cy="324.7" r="3.7" fill="url(#bumpA)"/>
<circle cx="818.1" cy="325.3" r="3.5" fill="url(#bumpA)"/>
<circle cx="849.4" cy="320.7" r="3.4" fill="url(#bumpA)"/>
<circle cx="794.1" cy="322.8" r="5.4" fill="url(#bumpA)"/>
<circle cx="779.5" cy="326.4" r="3.2" fill="url(#bumpA)"/>
<circle cx="811.0" cy="325.1" r="5.0" fill="url(#bumpA)"/>
<circle cx="806.4" cy="321.9" r="3.3" fill="url(#bumpB)"/>
<circle cx="774.0" cy="325.1" r="4.4" fill="url(#bumpB)"/>
<circle cx="852.9" cy="323.8" r="4.0" fill="url(#bumpB)"/>
<circle cx="728.0" cy="323.2" r="4.0" fill="url(#bumpA)"/>
<circle cx="755.2" cy="327.2" r="3.4" fill="url(#bumpA)"/>
<circle cx="859.7" cy="328.4" r="3.3" fill="url(#bumpA)"/>
<circle cx="732.0" cy="327.5" r="3.2" fill="url(#bumpA)"/>
<circle cx="757.2" cy="323.2" r="3.2" fill="url(#bumpA)"/>
<circle cx="723.3" cy="324.1" r="3.4" fill="url(#bumpA)"/>
<circle cx="763.5" cy="327.0" r="4.3" fill="url(#bumpA)"/>
<circle cx="824.3" cy="325.2" r="3.2" fill="url(#bumpA)"/>
<circle cx="843.0" cy="329.0" r="5.9" fill="url(#bumpC)"/>
<circle cx="746.6" cy="327.1" r="3.8" fill="url(#bumpA)"/>
<circle cx="725.6" cy="329.5" r="5.3" fill="url(#bumpA)"/>
<circle cx="849.4" cy="328.4" r="3.5" fill="url(#bumpC)"/>
<circle cx="837.0" cy="330.5" r="3.6" fill="url(#bumpA)"/>
<circle cx="825.3" cy="330.5" r="4.0" fill="url(#bumpB)"/>
<circle cx="813.5" cy="331.7" r="4.0" fill="url(#bumpA)"/>
<circle cx="797.4" cy="331.8" r="5.2" fill="url(#bumpB)"/>
<circle cx="749.2" cy="331.8" r="4.2" fill="url(#bumpA)"/>
<circle cx="743.3" cy="331.5" r="4.6" fill="url(#bumpA)"/>
<circle cx="830.4" cy="329.2" r="3.3" fill="url(#bumpA)"/>
<circle cx="804.5" cy="328.3" r="4.9" fill="url(#bumpA)"/>
<circle cx="776.0" cy="331.0" r="3.2" fill="url(#bumpA)"/>
<circle cx="791.2" cy="329.4" r="3.3" fill="url(#bumpB)"/>
<circle cx="736.9" cy="332.9" r="3.4" fill="url(#bumpB)"/>
<circle cx="819.3" cy="330.7" r="3.7" fill="url(#bumpA)"/>
<circle cx="783.7" cy="329.4" r="3.4" fill="url(#bumpA)"/>
<circle cx="758.9" cy="334.2" r="3.6" fill="url(#bumpA)"/>
<circle cx="855.9" cy="334.4" r="3.3" fill="url(#bumpA)"/>
<circle cx="854.4" cy="329.8" r="3.2" fill="url(#bumpB)"/>
<circle cx="803.1" cy="334.1" r="3.6" fill="url(#bumpA)"/>
<circle cx="754.9" cy="331.8" r="3.2" fill="url(#bumpA)"/>
<circle cx="731.9" cy="335.3" r="3.7" fill="url(#bumpB)"/>
<circle cx="862.6" cy="332.9" r="3.3" fill="url(#bumpA)"/>
<circle cx="754.6" cy="337.6" r="3.5" fill="url(#bumpA)"/>
<circle cx="768.0" cy="332.1" r="5.3" fill="url(#bumpA)"/>
<circle cx="831.9" cy="334.1" r="3.6" fill="url(#bumpA)"/>
<circle cx="769.6" cy="337.8" r="3.8" fill="url(#bumpA)"/>
<circle cx="784.4" cy="336.8" r="3.5" fill="url(#bumpB)"/>
<circle cx="763.8" cy="336.9" r="3.2" fill="url(#bumpB)"/>
<circle cx="848.4" cy="333.7" r="3.6" fill="url(#bumpB)"/>
<circle cx="780.0" cy="334.4" r="3.7" fill="url(#bumpA)"/>
<circle cx="824.0" cy="335.2" r="3.2" fill="url(#bumpB)"/>
<circle cx="742.5" cy="338.3" r="4.2" fill="url(#bumpB)"/>
<circle cx="807.1" cy="337.9" r="3.9" fill="url(#bumpA)"/>
<circle cx="843.0" cy="335.2" r="3.6" fill="url(#bumpB)"/>
<circle cx="818.3" cy="336.0" r="3.2" fill="url(#bumpA)"/>
<circle cx="861.8" cy="337.2" r="3.4" fill="url(#bumpA)"/>
<circle cx="789.6" cy="335.6" r="3.6" fill="url(#bumpA)"/>
<circle cx="794.1" cy="336.9" r="3.2" fill="url(#bumpA)"/>
<circle cx="786.0" cy="341.7" r="3.4" fill="url(#bumpB)"/>
<circle cx="851.7" cy="339.9" r="4.6" fill="url(#bumpA)"/>
<circle cx="799.9" cy="338.2" r="3.9" fill="url(#bumpA)"/>
<circle cx="759.0" cy="340.4" r="3.3" fill="url(#bumpA)"/>
<circle cx="737.2" cy="340.8" r="4.8" fill="url(#bumpA)"/>
<circle cx="764.2" cy="341.3" r="3.2" fill="url(#bumpA)"/>
<circle cx="842.5" cy="341.2" r="3.7" fill="url(#bumpB)"/>
<circle cx="832.3" cy="339.6" r="3.3" fill="url(#bumpA)"/>
<circle cx="815.4" cy="342.4" r="4.5" fill="url(#bumpB)"/>
<circle cx="796.3" cy="343.0" r="5.4" fill="url(#bumpA)"/>
<circle cx="837.1" cy="338.3" r="3.2" fill="url(#bumpB)"/>
<circle cx="807.6" cy="342.9" r="3.2" fill="url(#bumpA)"/>
<circle cx="821.9" cy="340.9" r="5.1" fill="url(#bumpA)"/>
<circle cx="831.1" cy="343.8" r="3.4" fill="url(#bumpC)"/>
<circle cx="749.8" cy="340.7" r="3.9" fill="url(#bumpA)"/>
<circle cx="727.8" cy="340.3" r="5.7" fill="url(#bumpB)"/>
<circle cx="775.4" cy="341.2" r="4.4" fill="url(#bumpA)"/>
<circle cx="790.5" cy="342.3" r="3.7" fill="url(#bumpA)"/>
<circle cx="858.7" cy="342.3" r="5.8" fill="url(#bumpB)"/>
<circle cx="784.3" cy="346.1" r="3.6" fill="url(#bumpB)"/>
<circle cx="780.9" cy="341.4" r="3.7" fill="url(#bumpA)"/>
<circle cx="760.1" cy="345.6" r="4.1" fill="url(#bumpA)"/>
<circle cx="729.9" cy="346.1" r="3.3" fill="url(#bumpA)"/>
<circle cx="811.6" cy="347.1" r="4.0" fill="url(#bumpB)"/>
<circle cx="767.7" cy="346.6" r="3.3" fill="url(#bumpA)"/>
<circle cx="754.3" cy="346.3" r="3.4" fill="url(#bumpB)"/>
<circle cx="739.5" cy="348.2" r="3.3" fill="url(#bumpB)"/>
<circle cx="745.5" cy="345.2" r="5.5" fill="url(#bumpA)"/>
<circle cx="847.6" cy="344.2" r="3.3" fill="url(#bumpA)"/>
<circle cx="735.0" cy="346.0" r="3.7" fill="url(#bumpA)"/>
<circle cx="780.4" cy="349.7" r="3.4" fill="url(#bumpA)"/>
<circle cx="833.3" cy="348.9" r="3.8" fill="url(#bumpB)"/>
<circle cx="772.3" cy="345.9" r="4.0" fill="url(#bumpB)"/>
<circle cx="861.6" cy="349.0" r="4.6" fill="url(#bumpC)"/>
<circle cx="803.9" cy="345.6" r="3.5" fill="url(#bumpA)"/>
<circle cx="778.1" cy="345.5" r="3.4" fill="url(#bumpA)"/>
<circle cx="790.3" cy="348.7" r="3.2" fill="url(#bumpA)"/>
<circle cx="825.9" cy="347.4" r="5.9" fill="url(#bumpA)"/>
<circle cx="839.3" cy="347.2" r="4.3" fill="url(#bumpA)"/>
<circle cx="852.9" cy="348.1" r="3.6" fill="url(#bumpB)"/>
<circle cx="800.0" cy="351.6" r="3.7" fill="url(#bumpA)"/>
<circle cx="805.1" cy="351.1" r="3.9" fill="url(#bumpB)"/>
<circle cx="745.5" cy="351.8" r="3.6" fill="url(#bumpB)"/>
<circle cx="844.7" cy="348.7" r="3.4" fill="url(#bumpA)"/>
<circle cx="848.8" cy="351.1" r="3.3" fill="url(#bumpA)"/>
<circle cx="730.9" cy="350.4" r="3.5" fill="url(#bumpA)"/>
<circle cx="817.9" cy="347.8" r="4.1" fill="url(#bumpA)"/>
<circle cx="753.5" cy="351.6" r="4.4" fill="url(#bumpA)"/>
<circle cx="815.5" cy="353.1" r="3.2" fill="url(#bumpB)"/>
<circle cx="724.9" cy="348.6" r="4.1" fill="url(#bumpB)"/>
<circle cx="836.6" cy="352.3" r="3.4" fill="url(#bumpB)"/>
<circle cx="734.7" cy="353.1" r="3.5" fill="url(#bumpB)"/>
<circle cx="795.0" cy="350.6" r="3.7" fill="url(#bumpB)"/>
<circle cx="784.6" cy="352.3" r="3.3" fill="url(#bumpB)"/>
<circle cx="767.9" cy="353.2" r="6.0" fill="url(#bumpA)"/>
<circle cx="821.3" cy="352.7" r="3.2" fill="url(#bumpA)"/>
<circle cx="855.4" cy="353.1" r="3.4" fill="url(#bumpA)"/>
<circle cx="788.9" cy="353.3" r="3.4" fill="url(#bumpA)"/>
<circle cx="760.0" cy="355.1" r="3.5" fill="url(#bumpA)"/>
<circle cx="775.2" cy="350.4" r="4.3" fill="url(#bumpA)"/>
<circle cx="779.4" cy="354.7" r="3.2" fill="url(#bumpA)"/>
<circle cx="860.4" cy="354.4" r="3.3" fill="url(#bumpA)"/>
<circle cx="841.8" cy="353.2" r="3.9" fill="url(#bumpB)"/>
<circle cx="810.7" cy="352.6" r="3.8" fill="url(#bumpB)"/>
<circle cx="825.4" cy="354.2" r="3.6" fill="url(#bumpA)"/>
<circle cx="730.2" cy="356.3" r="3.4" fill="url(#bumpB)"/>
<circle cx="801.5" cy="357.3" r="3.2" fill="url(#bumpA)"/>
<circle cx="846.6" cy="356.2" r="3.3" fill="url(#bumpA)"/>
<circle cx="726.1" cy="354.7" r="3.3" fill="url(#bumpA)"/>
<circle cx="832.5" cy="354.3" r="3.3" fill="url(#bumpA)"/>
<circle cx="739.8" cy="355.3" r="3.8" fill="url(#bumpB)"/>
<circle cx="796.3" cy="356.3" r="3.9" fill="url(#bumpA)"/>
<circle cx="792.2" cy="359.0" r="3.3" fill="url(#bumpA)"/>
<circle cx="775.3" cy="356.8" r="3.2" fill="url(#bumpB)"/>
<circle cx="842.7" cy="357.9" r="3.2" fill="url(#bumpA)"/>
<circle cx="851.3" cy="358.5" r="3.3" fill="url(#bumpA)"/>
<circle cx="806.3" cy="359.0" r="3.7" fill="url(#bumpA)"/>
<circle cx="734.1" cy="358.6" r="3.2" fill="url(#bumpA)"/>
<circle cx="836.3" cy="359.1" r="5.6" fill="url(#bumpB)"/>
<circle cx="746.0" cy="357.0" r="3.8" fill="url(#bumpA)"/>
<circle cx="782.5" cy="357.7" r="3.3" fill="url(#bumpB)"/>
<circle cx="757.2" cy="358.7" r="3.2" fill="url(#bumpA)"/>
<circle cx="843.9" cy="362.0" r="3.3" fill="url(#bumpA)"/>
<circle cx="769.5" cy="359.2" r="3.2" fill="url(#bumpA)"/>
<circle cx="764.0" cy="360.6" r="4.9" fill="url(#bumpB)"/>
<circle cx="811.6" cy="361.5" r="3.7" fill="url(#bumpB)"/>
<circle cx="815.7" cy="357.8" r="3.8" fill="url(#bumpB)"/>
<circle cx="828.9" cy="357.8" r="4.1" fill="url(#bumpA)"/>
<circle cx="821.5" cy="358.6" r="3.8" fill="url(#bumpA)"/>
<circle cx="750.8" cy="360.8" r="3.6" fill="url(#bumpA)"/>
<circle cx="825.8" cy="362.1" r="3.5" fill="url(#bumpA)"/>
<circle cx="788.1" cy="361.0" r="3.6" fill="url(#bumpA)"/>
<circle cx="727.5" cy="362.0" r="5.8" fill="url(#bumpB)"/>
<circle cx="776.6" cy="362.7" r="3.2" fill="url(#bumpA)"/>
<circle cx="807.0" cy="364.1" r="3.5" fill="url(#bumpA)"/>
<circle cx="800.5" cy="363.6" r="4.7" fill="url(#bumpA)"/>
<circle cx="795.2" cy="362.2" r="3.2" fill="url(#bumpB)"/>
<circle cx="861.4" cy="362.9" r="5.7" fill="url(#bumpA)"/>
<circle cx="740.5" cy="362.4" r="4.0" fill="url(#bumpA)"/>
<circle cx="762.0" cy="366.7" r="3.9" fill="url(#bumpB)"/>
<circle cx="786.0" cy="365.9" r="3.2" fill="url(#bumpA)"/>
<circle cx="855.3" cy="361.6" r="3.6" fill="url(#bumpB)"/>
<circle cx="849.6" cy="362.7" r="3.2" fill="url(#bumpA)"/>
<circle cx="756.0" cy="362.8" r="3.3" fill="url(#bumpB)"/>
<circle cx="734.0" cy="363.3" r="3.2" fill="url(#bumpA)"/>
<circle cx="743.8" cy="365.9" r="3.5" fill="url(#bumpA)"/>
<circle cx="838.7" cy="367.3" r="4.2" fill="url(#bumpB)"/>
<circle cx="818.1" cy="363.9" r="4.5" fill="url(#bumpA)"/>
<circle cx="833.5" cy="365.8" r="3.9" fill="url(#bumpA)"/>
<circle cx="749.9" cy="367.8" r="3.5" fill="url(#bumpA)"/>
<circle cx="781.0" cy="366.4" r="4.3" fill="url(#bumpA)"/>
<circle cx="811.5" cy="367.7" r="3.5" fill="url(#bumpA)"/>
<circle cx="844.7" cy="369.7" r="5.0" fill="url(#bumpB)"/>
<circle cx="724.1" cy="368.9" r="3.3" fill="url(#bumpB)"/>
<circle cx="855.6" cy="367.6" r="3.7" fill="url(#bumpA)"/>
<circle cx="861.0" cy="368.7" r="3.3" fill="url(#bumpA)"/>
<circle cx="792.9" cy="366.0" r="3.4" fill="url(#bumpA)"/>
<circle cx="755.5" cy="367.8" r="3.5" fill="url(#bumpA)"/>
<circle cx="770.6" cy="367.0" r="6.1" fill="url(#bumpA)"/>
<circle cx="850.8" cy="368.6" r="3.3" fill="url(#bumpC)"/>
<circle cx="815.3" cy="369.9" r="3.3" fill="url(#bumpA)"/>
<circle cx="730.8" cy="370.0" r="3.2" fill="url(#bumpA)"/>
<circle cx="824.9" cy="367.2" r="3.9" fill="url(#bumpA)"/>
<circle cx="797.3" cy="368.0" r="3.7" fill="url(#bumpA)"/>
<circle cx="789.5" cy="369.8" r="3.3" fill="url(#bumpA)"/>
<circle cx="736.0" cy="368.0" r="3.9" fill="url(#bumpA)"/>
<circle cx="804.2" cy="369.6" r="5.1" fill="url(#bumpC)"/>
</g></g>
<g clip-path="url(#clipF1)" fill="none" stroke="#262626" stroke-width="0.9" opacity="0.9">
<path d="M792,277 L794,290 L789,300 L790,312 L776,318 L768,330 L757,336 L745,338"/><path d="M790,312 L803,316 L815,313 L826,320"/><path d="M815,296 L822,308 L829,318 L838,322 L846,330"/><path d="M724,312 L736,318 L746,316"/><path d="M829,318 L831,334 L838,345"/>
</g>
<g clip-path="url(#clipF2)"><g filter="url(#semSoft)" stroke="#333" stroke-width="0.7" stroke-opacity="0.75">
<rect x="871.4" y="277.2" width="138.5" height="92.6" fill="#3c3c3c" stroke="none"/>
<circle cx="922.9" cy="277.4" r="4.4" fill="url(#bumpD)"/>
<circle cx="991.8" cy="278.0" r="3.5" fill="url(#bumpB)"/>
<circle cx="948.0" cy="278.1" r="6.1" fill="url(#bumpA)"/>
<circle cx="964.8" cy="277.8" r="6.1" fill="url(#bumpB)"/>
<circle cx="1002.5" cy="277.9" r="4.4" fill="url(#bumpB)"/>
<circle cx="956.1" cy="279.5" r="3.5" fill="url(#bumpA)"/>
<circle cx="930.6" cy="278.5" r="4.0" fill="url(#bumpB)"/>
<circle cx="908.8" cy="278.8" r="3.6" fill="url(#bumpB)"/>
<circle cx="899.1" cy="278.2" r="4.1" fill="url(#bumpB)"/>
<circle cx="917.5" cy="280.6" r="3.5" fill="url(#bumpB)"/>
<circle cx="975.2" cy="279.3" r="3.5" fill="url(#bumpB)"/>
<circle cx="891.1" cy="279.3" r="4.1" fill="url(#bumpD)"/>
<circle cx="885.6" cy="278.1" r="4.1" fill="url(#bumpD)"/>
<circle cx="871.9" cy="279.0" r="3.4" fill="url(#bumpD)"/>
<circle cx="1007.4" cy="280.5" r="3.5" fill="url(#bumpB)"/>
<circle cx="881.4" cy="280.8" r="3.4" fill="url(#bumpB)"/>
<circle cx="940.1" cy="278.6" r="3.9" fill="url(#bumpB)"/>
<circle cx="985.2" cy="278.3" r="4.0" fill="url(#bumpD)"/>
<circle cx="942.9" cy="283.5" r="3.6" fill="url(#bumpB)"/>
<circle cx="898.8" cy="283.3" r="3.5" fill="url(#bumpB)"/>
<circle cx="980.9" cy="283.2" r="4.6" fill="url(#bumpB)"/>
<circle cx="971.5" cy="285.5" r="3.4" fill="url(#bumpD)"/>
<circle cx="996.6" cy="283.8" r="5.4" fill="url(#bumpC)"/>
<circle cx="893.5" cy="285.4" r="3.4" fill="url(#bumpC)"/>
<circle cx="955.5" cy="285.3" r="3.9" fill="url(#bumpD)"/>
<circle cx="933.4" cy="282.8" r="3.5" fill="url(#bumpD)"/>
<circle cx="925.2" cy="284.6" r="3.4" fill="url(#bumpD)"/>
<circle cx="908.9" cy="285.0" r="5.8" fill="url(#bumpD)"/>
<circle cx="948.8" cy="287.1" r="3.8" fill="url(#bumpD)"/>
<circle cx="962.6" cy="287.9" r="7.2" fill="url(#bumpB)"/>
<circle cx="1008.8" cy="287.6" r="3.6" fill="url(#bumpD)"/>
<circle cx="875.4" cy="287.3" r="3.7" fill="url(#bumpC)"/>
<circle cx="987.7" cy="284.1" r="4.2" fill="url(#bumpB)"/>
<circle cx="916.2" cy="286.6" r="3.7" fill="url(#bumpB)"/>
<circle cx="885.5" cy="286.8" r="6.9" fill="url(#bumpA)"/>
<circle cx="1002.3" cy="287.5" r="3.7" fill="url(#bumpD)"/>
<circle cx="934.6" cy="287.6" r="3.5" fill="url(#bumpB)"/>
<circle cx="993.4" cy="290.1" r="5.3" fill="url(#bumpD)"/>
<circle cx="928.9" cy="287.4" r="3.4" fill="url(#bumpA)"/>
<circle cx="944.8" cy="290.0" r="3.4" fill="url(#bumpD)"/>
<circle cx="897.9" cy="288.6" r="3.7" fill="url(#bumpD)"/>
<circle cx="978.0" cy="288.4" r="3.9" fill="url(#bumpB)"/>
<circle cx="970.3" cy="291.2" r="4.0" fill="url(#bumpD)"/>
<circle cx="905.7" cy="291.7" r="3.8" fill="url(#bumpD)"/>
<circle cx="920.6" cy="292.0" r="5.3" fill="url(#bumpB)"/>
<circle cx="931.4" cy="291.4" r="3.5" fill="url(#bumpB)"/>
<circle cx="949.7" cy="294.1" r="3.9" fill="url(#bumpA)"/>
<circle cx="1000.1" cy="295.1" r="4.4" fill="url(#bumpA)"/>
<circle cx="966.1" cy="295.2" r="3.5" fill="url(#bumpA)"/>
<circle cx="1006.8" cy="292.9" r="4.8" fill="url(#bumpB)"/>
<circle cx="900.3" cy="292.7" r="3.5" fill="url(#bumpB)"/>
<circle cx="984.6" cy="293.1" r="6.8" fill="url(#bumpB)"/>
<circle cx="938.8" cy="292.8" r="6.6" fill="url(#bumpB)"/>
<circle cx="913.3" cy="295.9" r="6.8" fill="url(#bumpD)"/>
<circle cx="877.3" cy="295.3" r="7.5" fill="url(#bumpB)"/>
<circle cx="956.9" cy="294.3" r="3.7" fill="url(#bumpA)"/>
<circle cx="925.6" cy="295.2" r="3.4" fill="url(#bumpA)"/>
<circle cx="980.3" cy="299.2" r="3.5" fill="url(#bumpD)"/>
<circle cx="898.5" cy="298.6" r="3.5" fill="url(#bumpD)"/>
<circle cx="975.9" cy="294.9" r="3.9" fill="url(#bumpA)"/>
<circle cx="885.4" cy="296.4" r="3.5" fill="url(#bumpB)"/>
<circle cx="1004.3" cy="300.4" r="3.5" fill="url(#bumpD)"/>
<circle cx="892.4" cy="297.0" r="4.3" fill="url(#bumpD)"/>
<circle cx="995.2" cy="297.0" r="3.5" fill="url(#bumpB)"/>
<circle cx="933.5" cy="299.0" r="4.7" fill="url(#bumpD)"/>
<circle cx="971.4" cy="298.7" r="3.5" fill="url(#bumpD)"/>
<circle cx="948.5" cy="302.8" r="4.1" fill="url(#bumpB)"/>
<circle cx="953.2" cy="298.5" r="3.7" fill="url(#bumpD)"/>
<circle cx="904.4" cy="299.9" r="4.5" fill="url(#bumpB)"/>
<circle cx="945.6" cy="298.3" r="3.6" fill="url(#bumpD)"/>
<circle cx="970.5" cy="303.4" r="3.5" fill="url(#bumpB)"/>
<circle cx="941.7" cy="304.3" r="4.5" fill="url(#bumpB)"/>
<circle cx="896.9" cy="303.6" r="3.6" fill="url(#bumpD)"/>
<circle cx="1009.1" cy="300.9" r="3.5" fill="url(#bumpB)"/>
<circle cx="1000.9" cy="304.6" r="3.9" fill="url(#bumpB)"/>
<circle cx="925.3" cy="300.0" r="3.5" fill="url(#bumpB)"/>
<circle cx="965.0" cy="303.0" r="4.2" fill="url(#bumpB)"/>
<circle cx="892.0" cy="305.0" r="3.8" fill="url(#bumpB)"/>
<circle cx="928.0" cy="305.7" r="5.4" fill="url(#bumpD)"/>
<circle cx="909.9" cy="304.4" r="4.3" fill="url(#bumpD)"/>
<circle cx="918.5" cy="303.5" r="6.8" fill="url(#bumpB)"/>
<circle cx="976.2" cy="301.5" r="3.6" fill="url(#bumpB)"/>
<circle cx="886.3" cy="304.8" r="3.6" fill="url(#bumpB)"/>
<circle cx="987.7" cy="301.6" r="3.5" fill="url(#bumpB)"/>
<circle cx="981.0" cy="304.5" r="4.2" fill="url(#bumpD)"/>
<circle cx="872.1" cy="303.9" r="3.6" fill="url(#bumpB)"/>
<circle cx="878.2" cy="304.4" r="4.0" fill="url(#bumpD)"/>
<circle cx="957.0" cy="304.8" r="5.9" fill="url(#bumpD)"/>
<circle cx="994.2" cy="304.5" r="4.3" fill="url(#bumpD)"/>
<circle cx="936.5" cy="307.8" r="3.9" fill="url(#bumpA)"/>
<circle cx="1009.3" cy="306.7" r="3.4" fill="url(#bumpB)"/>
<circle cx="994.4" cy="310.7" r="4.7" fill="url(#bumpD)"/>
<circle cx="888.1" cy="310.5" r="3.5" fill="url(#bumpD)"/>
<circle cx="920.7" cy="310.9" r="3.7" fill="url(#bumpC)"/>
<circle cx="951.6" cy="310.0" r="3.4" fill="url(#bumpD)"/>
<circle cx="907.0" cy="310.4" r="3.4" fill="url(#bumpB)"/>
<circle cx="987.6" cy="308.0" r="5.3" fill="url(#bumpB)"/>
<circle cx="881.8" cy="311.6" r="3.6" fill="url(#bumpA)"/>
<circle cx="957.5" cy="312.6" r="5.4" fill="url(#bumpD)"/>
<circle cx="900.9" cy="310.2" r="4.6" fill="url(#bumpB)"/>
<circle cx="914.3" cy="310.9" r="3.5" fill="url(#bumpB)"/>
<circle cx="893.1" cy="312.3" r="3.4" fill="url(#bumpB)"/>
<circle cx="969.5" cy="309.4" r="4.4" fill="url(#bumpD)"/>
<circle cx="874.9" cy="308.4" r="3.4" fill="url(#bumpD)"/>
<circle cx="931.2" cy="313.5" r="3.7" fill="url(#bumpA)"/>
<circle cx="942.3" cy="310.3" r="4.6" fill="url(#bumpA)"/>
<circle cx="975.4" cy="309.5" r="3.5" fill="url(#bumpB)"/>
<circle cx="1009.6" cy="314.3" r="4.2" fill="url(#bumpD)"/>
<circle cx="1005.0" cy="310.9" r="3.5" fill="url(#bumpD)"/>
<circle cx="988.9" cy="315.0" r="3.5" fill="url(#bumpA)"/>
<circle cx="926.7" cy="315.6" r="3.5" fill="url(#bumpB)"/>
<circle cx="999.8" cy="313.6" r="4.0" fill="url(#bumpB)"/>
<circle cx="913.3" cy="315.7" r="3.8" fill="url(#bumpD)"/>
<circle cx="872.1" cy="314.0" r="4.1" fill="url(#bumpD)"/>
<circle cx="936.4" cy="313.3" r="3.4" fill="url(#bumpB)"/>
<circle cx="897.9" cy="316.8" r="3.4" fill="url(#bumpA)"/>
<circle cx="981.6" cy="312.9" r="5.5" fill="url(#bumpD)"/>
<circle cx="965.6" cy="316.3" r="6.0" fill="url(#bumpA)"/>
<circle cx="921.3" cy="315.7" r="3.4" fill="url(#bumpD)"/>
<circle cx="935.6" cy="318.8" r="3.6" fill="url(#bumpC)"/>
<circle cx="874.7" cy="320.4" r="3.5" fill="url(#bumpB)"/>
<circle cx="944.4" cy="316.3" r="5.0" fill="url(#bumpD)"/>
<circle cx="994.5" cy="318.4" r="4.8" fill="url(#bumpB)"/>
<circle cx="905.9" cy="318.7" r="3.7" fill="url(#bumpC)"/>
<circle cx="877.9" cy="316.1" r="3.4" fill="url(#bumpC)"/>
<circle cx="894.7" cy="320.4" r="3.7" fill="url(#bumpC)"/>
<circle cx="888.1" cy="318.3" r="5.2" fill="url(#bumpB)"/>
<circle cx="951.5" cy="317.1" r="3.6" fill="url(#bumpB)"/>
<circle cx="1004.6" cy="317.9" r="4.0" fill="url(#bumpD)"/>
<circle cx="974.7" cy="319.0" r="5.7" fill="url(#bumpD)"/>
<circle cx="929.7" cy="319.5" r="3.9" fill="url(#bumpD)"/>
<circle cx="983.1" cy="319.6" r="4.0" fill="url(#bumpA)"/>
<circle cx="948.8" cy="322.9" r="5.5" fill="url(#bumpD)"/>
<circle cx="910.9" cy="324.2" r="3.7" fill="url(#bumpB)"/>
<circle cx="957.0" cy="320.7" r="4.1" fill="url(#bumpA)"/>
<circle cx="985.8" cy="323.9" r="3.5" fill="url(#bumpD)"/>
<circle cx="881.5" cy="320.3" r="3.4" fill="url(#bumpA)"/>
<circle cx="997.9" cy="324.7" r="3.7" fill="url(#bumpD)"/>
<circle cx="991.0" cy="323.2" r="4.0" fill="url(#bumpB)"/>
<circle cx="900.2" cy="323.4" r="4.2" fill="url(#bumpD)"/>
<circle cx="915.8" cy="321.0" r="4.5" fill="url(#bumpC)"/>
<circle cx="966.8" cy="324.5" r="5.5" fill="url(#bumpD)"/>
<circle cx="979.1" cy="323.5" r="3.6" fill="url(#bumpA)"/>
<circle cx="1006.1" cy="325.4" r="5.3" fill="url(#bumpD)"/>
<circle cx="974.8" cy="325.5" r="3.5" fill="url(#bumpA)"/>
<circle cx="942.0" cy="322.3" r="4.1" fill="url(#bumpB)"/>
<circle cx="921.5" cy="321.9" r="4.2" fill="url(#bumpD)"/>
<circle cx="936.1" cy="325.6" r="6.1" fill="url(#bumpB)"/>
<circle cx="926.7" cy="327.0" r="4.0" fill="url(#bumpB)"/>
<circle cx="908.1" cy="328.5" r="3.4" fill="url(#bumpD)"/>
<circle cx="886.9" cy="325.3" r="4.2" fill="url(#bumpC)"/>
<circle cx="871.8" cy="328.5" r="5.5" fill="url(#bumpB)"/>
<circle cx="880.6" cy="327.5" r="3.4" fill="url(#bumpA)"/>
<circle cx="982.1" cy="329.2" r="4.4" fill="url(#bumpB)"/>
<circle cx="975.9" cy="331.4" r="4.5" fill="url(#bumpB)"/>
<circle cx="923.3" cy="331.0" r="3.9" fill="url(#bumpC)"/>
<circle cx="902.5" cy="328.3" r="3.4" fill="url(#bumpD)"/>
<circle cx="957.0" cy="329.7" r="7.5" fill="url(#bumpB)"/>
<circle cx="917.0" cy="327.9" r="6.0" fill="url(#bumpD)"/>
<circle cx="970.0" cy="330.7" r="3.4" fill="url(#bumpA)"/>
<circle cx="894.2" cy="328.9" r="3.4" fill="url(#bumpD)"/>
<circle cx="996.2" cy="329.7" r="3.5" fill="url(#bumpB)"/>
<circle cx="885.4" cy="331.6" r="3.6" fill="url(#bumpB)"/>
<circle cx="931.5" cy="331.1" r="4.4" fill="url(#bumpB)"/>
<circle cx="938.1" cy="332.5" r="4.8" fill="url(#bumpD)"/>
<circle cx="1002.3" cy="330.2" r="3.4" fill="url(#bumpA)"/>
<circle cx="991.0" cy="330.7" r="3.7" fill="url(#bumpB)"/>
<circle cx="898.8" cy="332.8" r="3.6" fill="url(#bumpB)"/>
<circle cx="1009.0" cy="335.2" r="3.7" fill="url(#bumpD)"/>
<circle cx="877.2" cy="334.0" r="3.7" fill="url(#bumpD)"/>
<circle cx="944.3" cy="332.2" r="3.9" fill="url(#bumpD)"/>
<circle cx="964.0" cy="335.2" r="5.7" fill="url(#bumpD)"/>
<circle cx="979.4" cy="336.8" r="3.4" fill="url(#bumpD)"/>
<circle cx="906.1" cy="334.1" r="4.3" fill="url(#bumpB)"/>
<circle cx="887.5" cy="335.9" r="3.4" fill="url(#bumpD)"/>
<circle cx="911.0" cy="336.8" r="3.9" fill="url(#bumpA)"/>
<circle cx="918.3" cy="336.8" r="3.4" fill="url(#bumpD)"/>
<circle cx="969.4" cy="339.4" r="3.6" fill="url(#bumpD)"/>
<circle cx="942.8" cy="339.9" r="4.9" fill="url(#bumpB)"/>
<circle cx="1004.1" cy="336.9" r="3.6" fill="url(#bumpD)"/>
<circle cx="952.4" cy="337.1" r="3.5" fill="url(#bumpD)"/>
<circle cx="990.5" cy="338.4" r="7.2" fill="url(#bumpB)"/>
<circle cx="874.0" cy="340.8" r="7.5" fill="url(#bumpD)"/>
<circle cx="957.9" cy="340.8" r="3.4" fill="url(#bumpD)"/>
<circle cx="881.9" cy="337.2" r="4.5" fill="url(#bumpB)"/>
<circle cx="980.2" cy="342.3" r="3.7" fill="url(#bumpB)"/>
<circle cx="927.5" cy="338.4" r="7.5" fill="url(#bumpB)"/>
<circle cx="900.1" cy="340.3" r="4.1" fill="url(#bumpC)"/>
<circle cx="892.9" cy="339.3" r="5.9" fill="url(#bumpB)"/>
<circle cx="886.8" cy="340.8" r="3.4" fill="url(#bumpB)"/>
<circle cx="1009.2" cy="340.4" r="3.5" fill="url(#bumpB)"/>
<circle cx="962.4" cy="342.4" r="3.7" fill="url(#bumpD)"/>
<circle cx="998.8" cy="339.7" r="3.8" fill="url(#bumpD)"/>
<circle cx="936.9" cy="339.8" r="3.5" fill="url(#bumpD)"/>
<circle cx="908.0" cy="344.0" r="3.7" fill="url(#bumpA)"/>
<circle cx="948.1" cy="343.1" r="3.4" fill="url(#bumpD)"/>
<circle cx="913.7" cy="343.4" r="3.4" fill="url(#bumpB)"/>
<circle cx="919.8" cy="343.2" r="4.3" fill="url(#bumpA)"/>
<circle cx="974.6" cy="344.2" r="4.8" fill="url(#bumpD)"/>
<circle cx="940.6" cy="346.3" r="4.1" fill="url(#bumpD)"/>
<circle cx="880.8" cy="346.3" r="3.7" fill="url(#bumpD)"/>
<circle cx="953.0" cy="342.8" r="3.5" fill="url(#bumpB)"/>
<circle cx="1003.8" cy="344.2" r="5.8" fill="url(#bumpD)"/>
<circle cx="993.8" cy="345.4" r="3.5" fill="url(#bumpB)"/>
<circle cx="935.2" cy="344.2" r="3.4" fill="url(#bumpD)"/>
<circle cx="948.9" cy="347.8" r="3.8" fill="url(#bumpB)"/>
<circle cx="931.8" cy="350.1" r="6.1" fill="url(#bumpD)"/>
<circle cx="963.9" cy="348.2" r="5.1" fill="url(#bumpB)"/>
<circle cx="923.7" cy="347.7" r="4.0" fill="url(#bumpB)"/>
<circle cx="883.0" cy="351.5" r="3.5" fill="url(#bumpD)"/>
<circle cx="977.3" cy="351.4" r="3.8" fill="url(#bumpD)"/>
<circle cx="983.3" cy="351.9" r="3.4" fill="url(#bumpD)"/>
<circle cx="988.8" cy="349.7" r="5.1" fill="url(#bumpD)"/>
<circle cx="953.8" cy="347.4" r="3.5" fill="url(#bumpB)"/>
<circle cx="899.4" cy="348.5" r="4.2" fill="url(#bumpD)"/>
<circle cx="886.7" cy="347.7" r="3.9" fill="url(#bumpB)"/>
<circle cx="955.4" cy="352.7" r="3.4" fill="url(#bumpC)"/>
<circle cx="1009.9" cy="349.7" r="5.8" fill="url(#bumpB)"/>
<circle cx="871.7" cy="350.9" r="5.5" fill="url(#bumpB)"/>
<circle cx="960.9" cy="353.6" r="4.2" fill="url(#bumpD)"/>
<circle cx="911.2" cy="350.8" r="3.8" fill="url(#bumpB)"/>
<circle cx="891.7" cy="349.3" r="3.5" fill="url(#bumpD)"/>
<circle cx="905.0" cy="351.8" r="5.3" fill="url(#bumpA)"/>
<circle cx="997.2" cy="350.5" r="4.2" fill="url(#bumpC)"/>
<circle cx="918.5" cy="352.6" r="4.1" fill="url(#bumpD)"/>
<circle cx="970.4" cy="351.1" r="4.9" fill="url(#bumpB)"/>
<circle cx="1004.4" cy="354.6" r="3.9" fill="url(#bumpB)"/>
<circle cx="888.5" cy="353.3" r="3.4" fill="url(#bumpA)"/>
<circle cx="879.4" cy="357.2" r="5.8" fill="url(#bumpB)"/>
<circle cx="966.0" cy="355.6" r="4.1" fill="url(#bumpB)"/>
<circle cx="911.2" cy="356.4" r="3.5" fill="url(#bumpD)"/>
<circle cx="1009.6" cy="356.3" r="4.1" fill="url(#bumpD)"/>
<circle cx="996.4" cy="356.0" r="3.6" fill="url(#bumpD)"/>
<circle cx="898.4" cy="354.6" r="4.2" fill="url(#bumpD)"/>
<circle cx="980.4" cy="358.1" r="4.2" fill="url(#bumpB)"/>
<circle cx="974.6" cy="355.4" r="3.4" fill="url(#bumpD)"/>
<circle cx="942.0" cy="359.0" r="3.5" fill="url(#bumpD)"/>
<circle cx="941.4" cy="353.7" r="3.7" fill="url(#bumpB)"/>
<circle cx="948.5" cy="355.5" r="6.7" fill="url(#bumpB)"/>
<circle cx="936.4" cy="355.7" r="3.8" fill="url(#bumpB)"/>
<circle cx="872.7" cy="358.3" r="3.5" fill="url(#bumpD)"/>
<circle cx="986.2" cy="359.6" r="4.3" fill="url(#bumpB)"/>
<circle cx="925.4" cy="355.9" r="3.9" fill="url(#bumpB)"/>
<circle cx="891.2" cy="359.6" r="5.5" fill="url(#bumpD)"/>
<circle cx="991.3" cy="357.7" r="3.9" fill="url(#bumpB)"/>
<circle cx="915.7" cy="360.3" r="4.1" fill="url(#bumpB)"/>
<circle cx="921.2" cy="359.2" r="4.0" fill="url(#bumpB)"/>
<circle cx="931.1" cy="359.6" r="3.6" fill="url(#bumpB)"/>
<circle cx="975.2" cy="361.3" r="3.8" fill="url(#bumpA)"/>
<circle cx="1008.5" cy="362.6" r="4.5" fill="url(#bumpB)"/>
<circle cx="967.2" cy="360.9" r="3.6" fill="url(#bumpA)"/>
<circle cx="959.4" cy="359.1" r="3.6" fill="url(#bumpC)"/>
<circle cx="942.8" cy="364.9" r="3.6" fill="url(#bumpD)"/>
<circle cx="954.0" cy="360.8" r="3.8" fill="url(#bumpB)"/>
<circle cx="1003.4" cy="360.5" r="3.4" fill="url(#bumpB)"/>
<circle cx="951.4" cy="365.6" r="4.4" fill="url(#bumpB)"/>
<circle cx="897.2" cy="362.3" r="3.4" fill="url(#bumpD)"/>
<circle cx="936.3" cy="363.0" r="5.1" fill="url(#bumpB)"/>
<circle cx="990.8" cy="364.2" r="3.9" fill="url(#bumpD)"/>
<circle cx="873.3" cy="363.3" r="3.8" fill="url(#bumpD)"/>
<circle cx="926.4" cy="362.4" r="3.8" fill="url(#bumpB)"/>
<circle cx="995.9" cy="363.2" r="3.4" fill="url(#bumpA)"/>
<circle cx="971.3" cy="364.7" r="3.7" fill="url(#bumpB)"/>
<circle cx="981.1" cy="363.9" r="3.5" fill="url(#bumpB)"/>
<circle cx="904.7" cy="363.3" r="6.4" fill="url(#bumpD)"/>
<circle cx="985.6" cy="365.5" r="3.4" fill="url(#bumpC)"/>
<circle cx="917.0" cy="366.7" r="3.4" fill="url(#bumpB)"/>
<circle cx="927.3" cy="369.2" r="3.7" fill="url(#bumpA)"/>
<circle cx="938.8" cy="368.4" r="3.5" fill="url(#bumpC)"/>
<circle cx="1001.9" cy="367.6" r="4.1" fill="url(#bumpD)"/>
<circle cx="932.2" cy="368.6" r="3.4" fill="url(#bumpB)"/>
<circle cx="880.7" cy="366.5" r="7.5" fill="url(#bumpC)"/>
<circle cx="896.3" cy="367.6" r="4.4" fill="url(#bumpB)"/>
<circle cx="957.5" cy="368.6" r="5.7" fill="url(#bumpD)"/>
<circle cx="1007.6" cy="369.6" r="4.2" fill="url(#bumpB)"/>
<circle cx="964.6" cy="368.7" r="3.6" fill="url(#bumpB)"/>
<circle cx="910.9" cy="369.6" r="6.2" fill="url(#bumpD)"/>
<circle cx="921.6" cy="368.8" r="3.4" fill="url(#bumpD)"/>
<circle cx="992.8" cy="369.4" r="4.6" fill="url(#bumpD)"/>
<circle cx="946.4" cy="369.6" r="4.1" fill="url(#bumpB)"/>
<circle cx="888.8" cy="369.4" r="5.0" fill="url(#bumpA)"/>
<circle cx="977.6" cy="369.7" r="5.6" fill="url(#bumpD)"/>
</g></g>
<rect x="721.60" y="382.80" width="140.20" height="93.10" fill="#6f6f6f" filter="url(#semG1)"/>
<g clip-path="url(#clipG1)" fill="none" stroke-linecap="round">
<path d="M809,452q-1,2 2,7M774,464q1,-3 3,-4M850,454q-7,0 -14,6M858,383q-4,-0 -6,1M844,441q8,10 6,24M772,398q8,8 15,14M821,389q1,-3 3,-8M730,474q1,5 2,10M774,461q3,14 13,21M852,471q2,-3 4,-6M831,417q2,-1 5,-3M850,414q1,1 5,5M818,476q-4,-0 -13,6M825,415q3,-3 3,-4M791,461q2,3 1,6M745,418q-3,4 -11,3M858,425q2,-2 3,-7M737,459q0,3 4,8M831,464q4,-5 8,-5M764,435q15,10 24,8M769,399q2,3 5,7M792,446q9,-8 13,-13M840,464q1,-8 2,-13M839,470q5,7 11,12M853,431q5,-2 16,-15M749,437q2,5 12,10M753,388q5,3 10,7M771,444q-16,5 -20,12M761,421q6,9 11,22M763,431q3,-4 2,-10M773,396q8,-12 13,-21M847,383q4,7 9,9M801,423q4,10 10,14M744,438q5,-4 5,-7M762,427q-0,2 3,7M777,428q2,-1 4,-3M823,409q5,-5 8,-14M738,454q7,-9 11,-10M771,446q-1,7 -6,10M798,384q8,-6 13,-21M840,427q1,4 5,18M831,437q6,1 12,3M768,397q-2,10 -11,17M725,450q1,2 1,5M812,471q-1,4 2,11M834,389q-5,2 -5,8M802,452q-4,6 -8,15M814,468q-7,7 -14,7M799,441q3,14 11,18M835,463q9,-0 16,7M815,391q3,6 6,8M737,432q9,7 13,21M738,473q6,0 15,5M768,440q2,-10 6,-17M810,472q6,-7 8,-12M735,386q11,6 19,15M781,411q3,-4 5,-5M843,464q1,2 5,6M755,428q1,1 6,6M786,462q4,3 7,5M744,402q7,8 8,13M817,400q3,-8 13,-12M816,470q5,3 11,5M745,386q2,-5 2,-7M788,446q2,2 3,4M811,464q4,1 8,6M766,393q0,3 4,6M790,436q3,2 4,3M847,476q6,5 16,11M740,433q4,3 7,8M730,448q9,5 9,20M829,418q3,9 5,18M836,444q3,3 3,7M740,389q2,3 7,5M825,385q-1,6 -5,8M807,404q1,4 5,8M744,474q7,9 15,10M833,394q3,1 12,9M815,398q1,-3 1,-6M729,474q-10,2 -17,4M750,459q3,-9 10,-16M756,474q3,3 3,5M727,399q-7,8 -22,9M788,427q1,3 2,5M748,419q3,-5 6,-11M818,425q3,5 5,8M795,409q9,7 13,8M780,473q3,2 4,4M856,466q-3,3 -5,3M781,473q2,-4 9,-10M767,413q4,4 6,6M733,471q0,3 3,6M838,465q7,-6 8,-10M761,439q2,3 4,5M747,401q0,8 8,16M839,472q6,-1 8,-6M808,457q2,1 5,3M828,436q6,-5 8,-18M856,441q2,1 5,5M847,475q1,7 9,8M856,395q2,13 14,20M823,410q0,7 6,18M741,467q-2,2 -8,5M729,422q4,2 5,4M782,400q3,-1 11,3M836,396q15,1 21,12M858,401q12,-2 21,-12M788,385q4,6 7,8M812,442q10,9 14,11M782,466q-2,14 4,22M781,473q3,-3 6,-5M815,394q-12,2 -16,6M743,443q-0,-2 1,-6M853,386q-2,1 -6,2M752,410q-5,6 -7,8M798,424q-4,0 -5,1M755,445q5,3 9,5M833,388q2,1 8,5M785,444q7,3 12,8M775,462q-3,0 -6,3M794,459q4,2 9,3M751,425q-12,3 -21,9M836,428q-8,3 -19,8M810,406q10,-9 12,-20M801,467q3,1 4,3M844,387q7,-6 12,-9M855,393q2,2 2,5M795,433q0,3 2,8M785,411q1,-6 7,-10M759,471q-8,7 -20,16M794,420q6,6 14,10M849,396q3,-14 13,-21M745,434q2,0 5,2M846,407q-11,-2 -19,4M810,461q5,4 9,5M758,421q0,-2 2,-8M779,389q12,6 16,12M736,422q5,6 9,10M767,417q-11,6 -15,12M733,475q9,4 11,9M751,431q6,12 16,18M796,396q1,5 3,8M811,407q-4,3 -11,5M740,402q-2,3 -6,5M758,426q3,4 3,8M819,433q-5,8 -9,11M844,431q4,1 7,4M774,455q-0,-4 8,-16M765,462q4,-4 11,-13M792,449q3,2 4,3M839,387q-1,3 -6,4M755,460q2,1 5,5M814,437q5,-6 11,-14M828,424q0,2 1,5M748,400q6,8 12,16M725,457q6,-7 6,-17M724,465q1,5 1,7M746,420q5,4 11,14M855,466q4,1 9,7M785,454q8,-12 9,-22M814,444q8,5 13,6M728,459q-7,2 -11,10M762,383q6,8 8,17M838,466q10,9 15,21M846,407q2,-13 7,-24M800,474q-11,8 -13,16M752,445q3,-1 9,-6M831,412q6,11 4,19M734,428q5,-3 8,-7M858,431q1,-3 2,-5M744,441q4,-2 6,-4M735,463q11,-4 15,-9M846,412q2,-3 3,-9M801,425q1,4 5,9M845,411q0,-3 4,-4M764,436q-6,8 -8,13M726,425q6,10 11,23M787,426q4,1 7,5M846,417q3,-2 2,-10M740,452q3,11 19,17M766,401q2,2 7,9M836,444q-0,4 7,15M799,392q5,6 21,12M760,432q0,4 2,9M724,448q4,2 5,3M830,466q2,-0 6,2M746,450q0,-8 4,-11M826,453q1,2 5,6M786,394q1,2 2,7M819,383q1,-2 4,-7M803,425q-9,1 -20,12M755,418q4,1 5,5M805,448q2,-2 7,-6M804,457q6,10 6,13M724,384q1,4 4,7M806,443q8,6 12,10M840,468q-4,2 -6,6M849,390q3,4 5,5M835,418q10,-2 21,-13M860,470q-1,7 6,14M814,414q6,9 10,11M821,449q3,11 9,14M780,427q4,12 9,22M861,413q-8,2 -19,4M832,463q4,1 15,8M728,454q1,3 5,4M783,475q3,-5 5,-11M800,387q3,-3 6,-3M858,404q-2,2 -10,8M780,403q1,4 3,5M854,416q-8,1 -14,2M810,387q4,1 5,3M767,400q0,-1 1,-5M822,451q7,5 10,6M743,475q3,-9 18,-17M825,475q2,1 5,5M755,476q5,-8 9,-14M742,386q6,12 12,22M847,467q2,-6 9,-8M846,437q1,-12 3,-16M746,404q-2,1 -3,4M784,466q1,-6 6,-10M738,426q6,17 4,23M824,390q2,-3 4,-8M774,456q4,8 10,11M752,400q-3,6 -14,13M795,465q-4,1 -6,5M855,471q6,-8 17,-13M754,466q1,4 2,5M734,397q5,-3 10,-14M783,457q1,2 2,6M725,447q8,-9 9,-19M854,447q-16,6 -23,11M812,410q3,2 3,5M808,451q1,-3 2,-5M807,455q-2,2 -4,4M859,441q1,-6 2,-11M828,436q4,6 6,19M854,449q2,-1 8,-5M826,454q3,-2 5,-3M732,452q7,4 7,12M824,423q5,8 9,10M806,429q3,3 4,7M727,399q3,-7 6,-10M836,427q13,-5 20,-14M725,445q3,-4 4,-16M769,419q-4,3 -9,14M847,469q1,-2 3,-7M749,467q10,-11 17,-16M807,472q4,2 6,3M832,429q6,-4 14,-9M795,456q1,5 10,18M843,460q-8,2 -10,6M771,387q1,5 3,7M787,402q-3,0 -7,1M788,446q-1,-2 1,-5M853,397q3,0 9,2M859,417q2,-3 5,-4M745,446q7,-6 4,-25M739,394q14,-12 18,-16M852,427q3,3 5,6M846,449q3,-1 9,2M846,449q7,-5 6,-13M786,429q4,11 8,14M862,476q1,8 3,11M749,473q1,1 4,4M732,468q1,-4 3,-7M777,468q4,-2 18,-15M773,461q-2,3 -6,7M741,447q-6,4 -8,6M843,466q1,-2 7,-5M793,384q0,-4 3,-9M799,411q4,-1 8,-5M742,465q4,11 16,18M758,429q2,-3 4,-10M746,456q-2,16 -12,21M809,474q4,1 14,10M861,469q15,10 22,14M783,442q4,2 5,4M853,397q-9,14 -12,18M842,446q3,-5 6,-8M787,472q5,2 7,4M804,425q5,7 9,10M791,414q8,4 15,13M847,429q2,5 2,13M796,473q5,-4 11,-10M774,456q0,-12 12,-19M741,474q13,4 17,14M764,429q7,9 9,14M793,423q-10,8 -17,9M781,447q0,4 4,8M856,386q-1,-2 1,-5M733,387q3,-6 8,-10M727,471q6,1 16,12M751,436q-3,5 -12,14M776,451q2,-3 6,-3M846,415q2,4 3,7M802,456q13,3 19,16M823,461q6,3 7,5M726,443q5,-6 9,-13M848,465q1,2 3,6M750,471q2,2 5,4M739,398q1,-4 5,-10M849,432q-5,2 -14,11M806,448q3,6 7,14M858,472q2,3 12,9M820,411q15,9 20,12M763,450q16,4 20,15M728,400q-0,3 1,5M772,407q2,-3 10,-7M723,411q1,8 4,15M835,463q1,7 7,14M767,427q3,-6 2,-12M749,445q1,-4 1,-7M848,437q6,-7 12,-13M803,408q14,8 19,12M814,417q11,9 16,11M835,473q5,2 9,6M824,426q6,2 9,11M803,432q1,-4 2,-5M811,427q5,-11 8,-16M843,427q1,10 9,13M832,451q1,1 4,4M829,420q-6,11 -14,13M749,418q-1,-5 4,-18M822,389q1,-3 2,-5M792,440q7,10 11,13M804,428q8,3 21,15M738,385q2,6 14,16M759,407q0,10 5,17M789,474q5,-1 6,-6M802,392q3,4 5,6M798,467q3,2 4,5M776,455q3,-2 4,-4M772,456q1,2 5,8M803,470q2,1 8,5M849,466q-7,1 -19,4M836,388q7,-5 13,-12M805,471q-11,7 -15,10M764,466q5,6 16,5M758,457q3,-5 5,-8M795,405q1,2 3,4M800,419q-2,5 -7,7M848,434q9,11 21,13M827,434q-9,5 -13,5M793,399q7,-2 12,-10M766,409q-3,4 -6,5M833,407q5,5 5,13M773,467q5,10 13,13M834,394q-9,7 -22,6M784,437q10,5 12,14M798,430q4,1 5,2M724,447q-5,2 -5,8M854,406q-3,3 -3,4M786,406q5,11 4,15M816,390q3,-0 4,-3M802,427q5,-7 7,-12M769,461q7,-11 15,-12M807,438q2,3 3,5M762,391q0,-3 3,-5M824,385q3,-4 3,-11M839,400q4,7 4,10M834,430q3,3 12,9M801,430q0,-8 3,-14M789,465q6,4 5,14M739,464q1,1 5,1M853,399q-5,0 -13,5M768,456q1,-4 5,-12M737,392q3,-3 6,-3M789,440q4,3 7,4M835,428q1,-2 1,-5M751,465q4,3 7,9M857,430q10,-5 22,-13M768,465q0,8 9,20M724,457q1,-2 3,-6M734,384q2,-8 5,-25M840,469q6,1 14,3M794,411q3,-8 6,-22M849,465q5,4 6,11M836,414q-2,-5 4,-17M858,473q1,-5 6,-7M813,408q1,3 3,5M750,467q0,4 3,9M744,393q3,2 4,3M812,471q3,3 5,12M749,447q1,-1 6,-4M821,444q5,-0 11,4M855,390q2,5 5,6M846,394q-0,3 3,11M855,420q-3,1 -5,2M834,437q3,1 6,5M780,465q3,-1 4,-3M763,391q1,-3 2,-5M756,437q0,4 4,5M772,453q4,9 13,21M768,427q7,-4 13,-9M784,472q-5,-1 -13,3M846,453q-8,10 -14,11M743,413q1,2 4,4M739,402q3,-3 5,-5M725,416q7,-9 5,-23M844,414q3,-7 14,-17M836,441q-10,9 -14,17M839,428q14,-6 16,-20M798,436q2,3 4,6M825,399q14,3 22,4M805,398q5,4 7,5M809,437q4,1 5,5M849,433q-1,12 8,19M739,402q3,2 3,6M811,385q1,-4 1,-5M849,393q9,-5 14,-9M738,441q3,2 6,8M740,401q-2,-0 -7,2M735,398q-1,2 3,10M727,450q-6,8 -12,11M780,405q-1,2 2,7M736,419q3,5 6,7M847,459q15,-7 21,-13M732,472q1,-2 5,-4M845,442q13,-1 18,-11M806,461q5,9 10,15M798,433q0,3 4,8M803,440q-0,3 2,6M731,441q5,4 6,5M806,436q-2,1 -7,5M777,445q-10,4 -16,5M780,467q7,-10 15,-19M794,393q8,11 14,19M845,451q1,-3 9,-14M725,473q0,-5 3,-8M738,399q6,7 14,21M847,393q4,-0 8,2M843,452q-10,3 -20,8M836,425q-5,8 -7,11M738,468q3,7 14,13M824,441q-7,4 -17,9M748,393q-6,4 -7,8M796,400q4,-1 8,-6M832,412q4,-7 10,-8M762,421q8,11 4,22M808,385q-1,10 5,14M782,425q7,6 6,22M849,427q5,-5 22,-12M774,394q2,-3 2,-5M848,393q12,6 18,10M756,469q5,12 6,23M783,443q4,-4 18,-18M828,402q-4,3 -7,5M809,386q2,11 12,18M860,428q3,-1 3,-4M794,399q-7,4 -14,3M825,416q8,8 10,21M830,451q-3,5 -10,10M734,427q-4,6 -12,18M748,390q-9,4 -14,15M801,417q3,-17 7,-22M826,449q8,-9 10,-12M784,474q-2,7 -11,11M837,432q5,6 8,10M829,443q6,6 11,10M770,405q0,5 4,7M810,444q-1,1 -4,3M787,390q-9,9 -14,14M819,411q3,2 4,5M787,435q4,3 7,5M824,414q5,7 7,15M783,423q2,-3 2,-5M742,388q6,5 8,6M781,390q1,-2 4,-3M856,408q9,9 14,12M748,433q1,-6 3,-14M722,458q1,-5 7,-15M834,438q8,15 10,21M821,391q-3,3 -11,7M802,420q7,-5 13,-11M841,412q-0,5 2,11M777,445q1,2 2,5M784,442q1,-1 7,-6M822,474q4,-4 3,-10M781,393q0,-2 1,-5M858,433q4,5 11,8M800,412q8,-7 19,-17M722,399q3,4 5,7M755,395q2,-6 10,-9M852,460q1,16 6,22M859,459q-12,8 -16,8M835,464q10,-3 14,-14M761,425q2,-7 9,-10M742,430q3,4 5,14M813,408q8,13 14,19M748,452q1,-5 3,-7M814,446q5,-4 7,-8M860,444q3,-3 3,-6M849,423q0,3 3,4M860,452q1,-1 5,-4M781,393q5,10 16,12M825,390q0,-2 2,-5M808,420q-8,-2 -15,4M814,431q1,-2 1,-5M837,412q1,12 11,18M860,456q6,8 8,10M835,431q4,4 10,7M774,421q2,-3 4,-3M810,419q7,6 15,11M823,420q-1,1 -5,2M764,461q3,5 2,8M793,411q4,4 4,11M833,474q2,4 3,6M853,447q4,2 10,6M821,420q-7,3 -14,15M854,438q3,-5 3,-12M746,434q3,3 4,7M770,467q4,-8 11,-14M808,456q6,4 4,15M798,473q3,-4 5,-5M840,463q-7,3 -11,11M743,391q3,10 11,17M748,459q-1,1 -3,4M796,468q10,7 12,17" stroke="#d6d6d6" stroke-opacity="0.36" stroke-width="0.7"/>
<path d="M825,460q9,13 11,16M739,469q1,2 3,4M736,461q2,-3 2,-9M786,431q-4,6 -11,12M743,385q9,2 14,8M854,398q3,8 11,9M812,384q4,-3 5,-12M850,419q4,-5 8,-8M726,431q3,7 11,12M750,450q9,-4 14,-12M754,474q14,10 16,15M742,410q9,5 12,7M847,402q3,4 7,8M856,419q4,3 8,10M767,444q-3,1 -5,2M832,396q2,5 6,12M816,466q3,3 5,8M750,416q3,-4 5,-7M861,447q3,-2 5,-6M830,403q-3,4 -4,8M739,411q1,-2 4,-5M860,398q-5,2 -9,5M730,418q3,5 10,6M722,401q4,5 6,14M771,441q4,8 5,11M802,406q7,-0 9,-5M847,475q4,4 6,14M859,433q3,3 6,7M751,388q4,-12 16,-17M754,383q3,9 6,13M845,398q-5,9 -10,15M824,455q5,9 10,13M770,415q0,2 4,7M769,441q3,-2 5,-4M779,412q8,-9 19,-16M817,429q-6,1 -12,3M811,401q3,-9 7,-12M792,466q7,1 12,8M806,457q1,6 4,9M826,433q9,-17 12,-22M849,472q-12,10 -23,10M725,414q4,5 5,7M748,438q1,3 3,6M764,448q14,9 18,13M770,459q-17,9 -23,12M813,451q9,-6 12,-17M780,434q2,8 13,12M855,386q3,-3 6,-8M764,405q2,-7 6,-12M755,386q-1,5 2,9M764,426q2,4 2,6M818,403q4,2 9,11M758,433q2,4 8,6M806,433q5,3 5,6M740,415q4,2 6,6M778,456q2,1 5,4M725,464q3,3 5,5M807,385q4,2 5,2M771,444q-8,7 -9,16M857,406q-3,5 -8,14M769,475q10,-10 17,-18M853,437q-4,0 -6,1M858,449q6,5 16,14M855,419q1,2 5,9M797,417q5,6 9,11M751,408q2,2 5,1M845,403q3,1 5,3M765,415q3,3 13,9M825,471q3,4 6,4M749,432q5,-3 5,-8M840,397q-11,3 -18,18M753,414q-1,2 -4,4M740,412q4,-5 9,-17M818,439q-3,4 -11,6M754,429q2,8 6,10M735,441q7,-11 13,-16M787,402q-0,14 5,19M734,405q3,4 8,16M761,437q8,8 14,16M778,392q5,-11 15,-15M768,393q4,12 11,15M801,419q-2,2 -4,7M739,434q5,-4 14,-11M766,396q4,4 9,16M743,433q-2,2 -6,3M746,461q-1,-4 4,-10M860,471q5,1 6,8M752,434q-0,7 6,14M825,429q-1,2 -3,4M740,427q2,-6 3,-9M826,414q14,-9 17,-14M744,449q12,-11 19,-16M772,466q3,3 4,4M766,462q3,2 3,5M769,385q9,11 11,17M836,430q8,-12 11,-16M724,398q-0,3 2,6M802,443q2,0 5,2M788,393q-2,5 -5,8M778,429q-3,1 -5,2M792,438q-6,-0 -11,3M800,462q-9,3 -14,9M781,400q2,14 8,20M799,413q4,11 5,15M840,439q9,12 8,22M739,464q1,6 10,19M722,474q2,-2 3,-7M756,421q4,-2 9,-10M837,409q2,2 5,3M839,434q3,-3 5,-5M840,431q0,4 3,9M780,388q-6,0 -17,8M751,406q7,-5 13,-13M833,434q8,-8 15,-18M845,394q1,-4 4,-8M748,426q4,2 5,10M808,451q8,-1 13,-9M737,403q3,-1 4,-3M737,396q12,-8 15,-12M800,475q2,8 3,10M834,475q4,9 12,11M749,398q7,8 11,13M750,394q-1,-3 3,-12M861,459q2,-6 3,-14M729,440q-2,-1 -5,2M805,424q2,1 5,1M813,461q2,2 3,5M738,388q2,-1 4,-4M766,446q3,-5 8,-19M795,409q4,1 8,6M756,389q2,-1 5,-4M775,383q9,1 14,7M749,474q1,3 2,5M832,437q3,-2 2,-7M735,411q2,2 4,5M785,384q7,10 16,13M763,475q7,6 8,7M771,407q-0,4 3,9M809,386q4,-1 5,-5M858,430q1,13 11,19M801,427q-14,9 -19,16M800,413q6,5 13,5M835,419q6,11 13,20M723,433q-3,2 -4,5M798,430q8,-6 12,-12M765,464q7,-6 14,-13M746,434q0,3 4,8M860,462q7,8 10,20M739,460q6,-4 10,-18M723,423q0,2 4,6M842,385q7,-6 6,-18M843,421q6,8 12,14M738,449q1,-5 7,-6M751,434q5,-4 7,-9M759,422q-5,12 -14,18M783,468q-0,-7 8,-23M744,444q1,-11 13,-22M811,411q-1,3 -4,4M818,436q6,8 14,10M847,419q3,-1 8,-6M800,412q1,-4 2,-5M782,422q-4,5 -6,8M833,436q-1,5 2,8M817,452q8,-4 13,-17M847,413q-0,-8 3,-11M797,450q-5,5 -9,8M799,396q10,-8 15,-15M776,473q4,-1 8,-7M764,425q1,4 2,5M809,418q2,-1 4,-3M829,388q-3,2 -7,2M785,459q-2,3 -3,5M732,453q1,2 4,4" stroke="#e4e4e4" stroke-opacity="0.3" stroke-width="1.0"/>
<path d="M823,385q-1,1 -2,2M793,428q1,-2 2,-5M736,452q-1,0 -2,1M855,401q0,2 1,3M821,395q0,-1 1,-3M808,436q1,1 3,3M849,469q1,-2 2,-4M816,421q-4,0 -6,2M828,386q2,3 4,3M770,472q1,-1 1,-2M772,424q1,5 6,6M840,435q1,1 1,1M780,385q-1,2 -3,4M860,414q1,-0 1,-1M814,407q1,-1 1,-5M752,416q-4,2 -5,3M733,400q1,-1 1,-2M766,385q3,1 6,2M755,395q0,-2 2,-2M802,402q-0,-1 1,-3M852,395q0,-1 1,-2M822,437q-3,4 -8,4M808,393q1,0 4,3M780,394q1,-1 1,-2M820,386q1,-4 2,-7M843,467q1,0 1,1M749,423q1,0 1,1M814,420q2,-4 7,-5M826,408q4,1 6,6M774,400q1,-1 1,-2M814,445q0,4 3,5M756,386q4,-1 5,-4M852,452q1,1 1,4M750,467q2,-3 6,-4M787,444q-4,4 -7,4M824,415q2,5 4,7M801,427q-2,2 -3,3M860,431q1,1 3,1M778,399q3,-5 3,-8M775,474q1,4 5,5M751,456q1,1 2,2M829,441q4,-2 4,-6M730,427q4,0 6,3M742,436q-2,-0 -5,2M775,465q2,-2 4,-3M817,390q1,1 2,2M805,425q2,-4 6,-6M768,399q2,-0 6,1M839,409q3,3 6,7M792,463q-5,1 -7,3M853,454q1,-1 1,-2M733,468q0,1 2,1M802,424q0,1 1,4M744,428q2,-0 3,-2M726,465q2,-3 2,-4M737,411q2,-2 3,-2M743,402q2,1 4,3M730,455q1,1 1,3M841,433q0,-0 1,-2M731,433q0,5 3,7M739,397q1,-1 2,-2M761,475q1,2 3,3M814,472q2,-2 3,-2M846,433q-0,-6 2,-8M773,444q1,-1 2,-2M844,435q-1,1 -3,3M743,415q4,2 5,7M858,471q1,3 3,8M837,471q-1,-4 2,-6M856,467q1,-1 1,-2M813,424q0,-1 1,-4M785,423q1,1 3,1M782,413q1,-2 4,-7M851,457q2,4 5,5M841,450q2,2 2,4M824,422q0,-0 2,-2M746,474q1,-6 2,-8M762,457q4,2 8,3M824,471q3,3 8,5M841,457q1,2 2,2M772,455q1,-0 1,-2M816,458q2,1 2,2M807,467q2,4 2,6M838,467q1,-2 2,-5M836,434q0,-1 1,-2M823,418q1,-3 2,-6M810,469q0,1 0,2M862,391q-1,2 -5,5M757,403q1,2 2,2M780,387q-0,-2 2,-8M726,472q1,2 3,5M857,470q1,2 1,2M837,436q-3,2 -4,5M852,398q1,2 3,6M808,436q1,2 4,6M758,416q-0,-3 2,-5M745,436q1,-2 1,-3M822,451q1,-3 2,-4M736,391q2,1 3,2M814,400q1,-2 3,-4M785,405q5,2 7,3M814,398q1,-6 3,-8M736,475q-0,3 1,5M854,392q0,2 1,3M780,468q2,1 3,4M774,429q1,5 5,7M784,457q0,0 2,2M848,419q0,-2 2,-4M858,387q0,1 2,4M791,385q1,1 4,3M847,438q1,2 2,4M842,455q1,1 1,1M726,398q2,-3 4,-3M830,431q-4,3 -6,4M791,430q3,1 3,4M797,425q2,-1 3,-2M772,385q1,0 1,1M742,383q1,-1 4,-6M770,403q1,3 1,6M845,415q-0,-1 1,-4M833,430q1,1 2,2M803,440q-1,1 -1,1M807,470q2,-3 3,-6M846,468q-4,0 -9,2M816,387q-3,1 -5,1M802,407q4,-2 7,-4M760,464q2,-3 5,-6M807,465q0,1 1,2M792,429q2,-5 3,-8M824,395q1,-0 2,0M849,439q0,1 1,2M768,468q4,1 7,4M792,397q-0,1 1,3M767,398q1,0 2,1M819,387q0,-2 2,-4M855,450q-0,0 1,2M780,395q2,2 5,4M815,469q1,2 3,4M765,400q4,2 6,4M860,451q0,1 2,6M722,433q-0,1 -1,1M740,419q1,2 0,2M850,424q2,1 2,3M766,421q4,-2 7,-4M774,413q-2,2 -4,2M767,399q1,4 1,7M805,412q1,2 3,3M860,391q0,1 0,2M732,396q1,-2 4,-3M816,405q2,3 2,5M741,427q1,-2 1,-4M782,415q-1,1 -2,1M737,393q1,0 1,2M773,424q0,1 1,1M838,451q-5,2 -6,3M790,420q-0,-3 2,-5M723,420q1,-1 1,-2M776,475q5,0 8,4M764,407q-2,1 -4,4M738,410q-3,0 -5,1M728,449q1,-1 2,-4M818,422q-2,0 -4,1M859,444q2,-2 4,-4M732,472q0,2 1,4M820,411q4,-2 4,-8M760,389q1,1 1,2M788,417q-0,-3 3,-6M742,445q2,5 4,7M859,405q1,3 4,6M772,455q1,-3 3,-4M765,415q5,-4 6,-6M782,406q3,6 5,7M794,428q1,-2 2,-3M859,413q1,-1 2,-2M806,398q2,-3 2,-4M816,388q-2,3 -3,3M837,406q2,2 3,6M822,449q0,0 1,2M796,434q-3,3 -3,4M737,397q5,3 6,6M726,428q-1,1 -4,1M793,402q2,2 3,4M764,401q1,-0 2,0M750,385q3,2 4,2M757,425q4,1 7,5M854,448q-0,2 1,3M788,412q3,1 5,5M741,400q1,-1 3,-5M832,453q2,1 4,4M808,415q3,-3 5,-7M778,411q1,-2 2,-4M754,428q0,1 1,1M730,427q0,1 1,1M844,469q-4,0 -8,2M781,404q1,1 1,3M724,413q-1,1 -1,2M741,441q1,-1 4,-3M739,428q1,-1 2,-4M788,400q1,5 4,7M823,412q1,1 2,2M758,451q2,2 3,5M766,398q1,-2 1,-3M818,426q1,1 2,1M722,409q-1,2 -3,4M788,468q-1,0 -2,0M803,385q4,-1 5,-7M848,388q1,-0 4,2M757,447q2,2 3,5M745,462q1,3 2,5M774,453q3,2 4,4M778,397q1,3 4,5M842,445q-1,1 -3,2M790,383q1,3 2,8M766,388q3,-2 6,-4M735,431q2,-3 3,-4M834,457q-0,1 1,2M858,461q-2,1 -3,1M844,434q2,3 6,4M741,475q2,-3 5,-6M858,438q-5,3 -8,2M732,438q2,3 2,4M809,459q2,-2 5,-5M820,407q2,-2 6,-4M796,440q0,-1 1,-2M832,415q2,2 2,5M783,383q3,2 4,3M849,463q1,-0 2,-1M800,404q-0,-3 2,-4M766,422q1,-1 2,-2M728,468q1,1 1,2M796,410q0,0 2,1M732,474q-3,4 -5,5M838,438q1,1 3,3M839,398q1,-3 2,-7M761,463q1,-1 2,-2M736,389q-1,0 -2,1M773,470q1,1 4,2M745,465q2,-1 1,-5M755,388q1,-1 2,-2M725,463q1,1 2,2M799,428q4,-3 7,-4M809,469q1,2 2,3M767,451q-3,0 -5,1M805,400q-0,-3 1,-5M743,440q-0,-1 1,-2M765,390q1,2 3,3M736,407q0,1 0,2M831,462q1,-3 2,-3M843,469q-2,1 -3,2M727,444q1,0 3,1M849,391q1,1 3,4M792,433q1,-0 2,-1M779,412q2,-4 6,-4M851,419q0,1 2,1M801,448q4,4 8,4M752,415q3,-4 3,-6M750,476q-0,1 2,4M834,438q0,1 2,1M847,441q0,3 4,7M738,452q0,1 1,2" stroke="#222" stroke-opacity="0.32" stroke-width="1.2"/>
</g>
<rect x="870.40" y="382.80" width="139.50" height="93.00" fill="#6f6f6f" filter="url(#semG2)"/>
<g clip-path="url(#clipG2)" fill="none" stroke-linecap="round">
<path d="M935,418q3,3 7,5M917,470q-5,3 -19,8M894,388q5,4 7,10M974,392q9,9 11,13M998,420q13,-1 18,6M923,429q11,1 14,12M977,401q3,2 4,4M950,433q2,6 9,11M894,439q3,2 11,7M1009,476q-1,9 6,19M973,461q-10,-0 -18,5M898,471q1,1 3,4M908,459q3,6 15,8M983,429q-9,5 -12,7M942,472q7,3 9,12M1001,458q-2,-9 3,-13M899,419q1,2 1,6M882,435q8,3 13,8M994,399q-0,-8 4,-10M944,399q5,5 15,11M953,434q9,11 16,13M874,475q6,-7 6,-10M960,433q0,2 3,5M879,465q-3,1 -6,3M1005,436q7,3 12,4M927,389q1,2 5,3M947,427q3,2 3,4M1007,475q4,1 6,4M901,393q1,0 5,3M958,401q-5,4 -7,9M1002,385q5,6 11,16M992,442q1,4 4,5M927,383q3,1 8,2M939,415q3,4 6,5M934,419q2,-3 4,-5M970,444q-5,3 -21,5M1002,445q1,-2 6,-5M936,463q2,-8 4,-10M998,402q1,0 4,3M884,459q5,-12 9,-17M967,416q7,-2 10,-8M895,399q7,3 10,5M997,453q6,-5 8,-7M891,446q1,3 3,4M964,392q2,2 4,4M987,436q5,10 6,19M879,458q-0,-11 4,-15M894,437q4,5 7,8M872,444q0,-2 3,-6M951,401q1,2 5,6M979,425q9,8 14,13M981,469q-0,-11 6,-19M1004,420q7,-6 12,-14M942,429q6,-12 15,-14M898,388q1,-2 5,-5M888,412q3,4 8,5M919,435q-9,1 -13,9M873,461q2,-4 10,-11M969,470q-5,6 -8,9M897,442q3,-3 7,-4M982,432q8,3 13,8M921,418q1,-2 3,-4M915,429q11,-3 13,-16M1007,399q5,1 9,7M932,392q0,-9 9,-19M913,463q6,1 10,3M975,443q-2,-9 3,-18M969,459q2,6 10,12M952,432q1,3 2,9M941,448q12,7 19,9M894,383q5,-5 7,-9M978,398q4,-6 5,-10M968,467q3,2 6,7M903,410q4,3 5,4M950,390q7,-7 15,-8M987,408q3,1 5,3M898,447q4,3 6,8M905,448q7,7 11,12M924,425q3,5 5,8M889,414q1,2 4,4M935,417q-0,6 6,13M966,414q2,-1 6,-4M887,405q-6,3 -14,5M927,422q1,-3 5,-8M891,427q3,-2 5,-3M887,404q4,-3 3,-11M909,398q1,-6 8,-16M969,450q1,2 2,5M983,443q3,2 4,5M884,403q6,7 9,12M884,467q2,-0 5,2M891,413q-1,6 3,12M930,449q12,5 20,9M934,426q3,0 9,5M950,396q3,7 10,13M964,395q1,6 10,15M928,471q7,-7 14,-11M892,389q7,12 6,18M934,459q1,-2 2,-5M1002,407q2,3 2,5M878,423q2,-2 8,-5M918,385q0,-3 1,-5M911,434q2,10 7,13M873,400q2,4 3,15M929,444q3,6 2,9M993,393q4,-3 7,-4M899,446q0,-2 3,-5M986,414q-0,3 2,7M903,453q2,-1 6,1M989,472q2,10 5,13M913,392q-3,1 -6,3M896,417q7,-0 12,7M886,398q8,9 8,15M960,425q2,2 2,6M872,390q0,3 2,4M918,414q3,0 5,3M955,403q4,-8 5,-11M878,405q12,-5 17,-11M931,385q-6,10 -9,16M905,452q-5,0 -8,4M999,438q3,4 3,6M881,427q4,2 6,5M973,416q-3,4 -11,10M966,395q1,6 7,10M907,385q-0,3 2,5M985,431q-0,6 4,9M1004,412q2,2 4,3M939,433q4,-4 2,-10M979,434q0,6 4,10M972,421q2,2 1,6M995,426q-6,7 -7,9M895,397q3,-8 11,-9M969,464q2,2 4,3M905,397q2,3 14,13M1008,391q2,-1 5,-4M939,425q3,-10 6,-18M1009,474q3,3 4,6M1009,436q-2,1 -5,1M917,416q2,2 12,7M877,406q9,8 12,9M982,473q1,-2 5,-5M917,422q4,-7 10,-16M1002,391q1,-3 2,-5M898,430q3,-2 5,-3M956,414q2,3 3,5M986,420q1,-10 4,-16M872,432q2,1 5,4M885,476q6,7 7,13M1010,434q11,11 15,14M875,463q1,2 4,4M960,465q9,-5 14,-12M958,419q5,9 13,14M885,391q1,6 3,11M893,450q4,1 7,7M953,387q2,3 9,7M999,427q9,7 7,20M949,395q2,6 4,8M982,400q5,-1 7,2M990,471q5,6 7,17M1000,471q2,5 2,11M877,394q2,-2 6,-6M954,427q4,5 5,8M924,407q5,-2 9,-6M917,462q1,-8 2,-12M994,406q4,8 3,17M967,403q10,-7 13,-11M938,384q-4,2 -7,4M913,408q1,7 4,9M977,447q2,9 7,15M872,425q1,-4 6,-4M925,406q3,1 5,4M974,394q1,-10 9,-18M945,432q-3,5 -11,13M878,429q3,-5 3,-11M958,384q5,-2 8,-9M898,463q8,1 11,4M892,470q-11,-1 -16,6M961,403q-4,6 -4,8M943,417q4,5 11,6M919,438q6,3 10,11M971,465q6,12 6,20M937,453q5,-5 4,-14M900,414q2,-2 8,-4M914,408q2,-2 2,-5M941,468q2,2 1,5M945,430q6,6 9,7M913,435q-6,6 -11,9M945,406q6,16 5,21M893,436q4,-2 11,-10M979,465q-4,2 -5,2M997,417q4,8 7,10M985,414q2,-8 5,-13M918,446q2,-4 6,-5M991,425q5,1 10,8M929,452q-3,2 -6,2M913,416q-4,3 -10,2M982,457q2,-8 4,-14M908,390q6,-4 5,-14M1009,420q12,2 17,11M902,469q3,-1 5,-4M935,440q3,3 5,4M944,409q6,11 11,15M981,423q4,-2 5,-4M873,416q6,-10 16,-11M960,460q10,8 16,14M885,391q4,-2 5,-6M972,451q1,2 4,4M926,447q3,6 6,9M942,459q1,-2 3,-4M974,464q8,9 12,15M897,407q6,5 4,18M914,433q8,10 10,15M895,430q3,-5 7,-13M959,471q5,-10 9,-14M979,405q4,-0 7,3M940,475q-0,-11 4,-17M1010,414q1,4 6,6M927,387q2,4 1,8M878,396q3,-8 9,-15M927,427q-0,-4 5,-10M902,395q5,6 4,17M983,416q4,-2 6,-10M939,454q8,-6 10,-12M882,405q5,3 7,4M911,411q1,-3 4,-4M981,468q-3,4 -8,3M887,454q10,5 14,7M942,399q3,1 3,4M925,398q4,-4 7,-17M989,411q1,-2 4,-6M936,455q3,1 4,4M1005,442q8,10 9,18M908,391q-1,-6 2,-11M979,466q2,5 4,10M995,432q5,12 5,16M943,441q3,-5 4,-15M986,394q2,-5 11,-13M963,435q5,7 5,10M959,472q7,7 8,14M877,420q4,-1 6,2M993,476q2,-3 4,-5M903,406q2,12 12,15M970,452q6,3 11,12M994,411q-16,7 -21,5M923,473q2,3 6,5M952,432q1,-6 4,-8M885,414q3,2 5,7M928,420q1,-1 4,-4M989,470q-4,1 -13,8M930,460q-4,1 -6,4M939,467q2,2 10,6M1006,474q2,-4 5,-8M960,392q3,11 12,15M914,459q6,4 9,8M885,389q4,-9 10,-17M1001,432q4,-1 6,-3M928,419q1,2 3,4M916,420q-13,3 -19,4M1004,436q3,6 10,7M947,394q12,10 16,12M937,388q2,-1 4,-5M949,450q3,4 5,7M937,432q6,5 9,11M924,453q0,3 3,4M975,463q0,3 1,6M913,385q1,5 4,7M888,467q5,0 9,4M923,424q1,3 5,10M896,462q-8,0 -12,5M953,436q-1,8 4,15M876,413q-1,-6 2,-9M993,401q4,2 11,6M886,441q10,-1 18,8M948,405q7,-6 13,-11M984,433q4,1 9,6M939,405q3,-7 4,-16M941,466q1,-4 5,-8M936,448q3,-5 10,-11M933,441q5,-3 18,-11M952,441q1,-3 4,-5M894,451q-0,5 2,12M970,383q1,3 2,5M934,412q-0,1 -3,4M1007,440q3,-5 6,-11M986,399q2,2 1,5M909,400q-2,3 -6,8M928,387q4,3 8,4M880,445q3,10 15,15M971,426q-2,0 -5,2M955,391q1,4 8,10M986,403q0,2 1,5M933,385q4,5 11,8M896,467q2,-5 3,-9M972,417q4,-6 16,-10M1006,469q1,-3 4,-6M942,395q-4,3 -8,4M871,436q0,11 9,14M907,408q7,10 16,15M997,476q7,-1 11,4M892,438q2,-3 3,-7M985,452q4,-4 5,-6M929,453q2,-3 3,-4M968,403q-6,-0 -13,6M903,446q6,-8 14,-10M908,459q-2,4 -10,8M955,460q4,7 4,11M948,397q2,2 8,6M890,424q2,3 8,5M927,456q8,4 12,13M883,390q-6,8 -19,9M946,409q1,-0 5,-3M1007,475q5,7 21,5M938,446q2,-1 5,-3M906,446q-3,13 -9,17M900,465q-3,3 -4,4M963,472q6,5 6,12M957,422q2,3 3,4M938,470q2,-1 3,-4M1008,442q3,8 14,14M939,453q1,-2 2,-6M873,417q4,12 11,16M1005,391q4,4 13,14M926,459q3,3 5,5M928,399q10,3 13,9M959,453q13,6 17,14M928,445q2,-2 5,-4M974,454q4,-4 4,-7M982,438q3,-1 10,-6M950,398q-6,1 -18,7M953,402q8,0 14,6M977,448q6,-6 6,-14M893,413q-7,8 -11,10M997,397q7,5 7,20M962,386q4,-1 6,-4M924,406q-6,3 -7,10M973,460q-2,-7 6,-19M881,426q2,4 5,6M876,462q-4,3 -8,13M993,397q-4,4 -8,5M984,423q1,-2 4,-3M971,465q1,1 2,5M895,449q9,0 14,8M1004,473q-9,7 -19,7M984,418q-12,6 -16,14M948,464q4,2 10,8M892,425q5,-2 8,-7M1007,467q1,-3 2,-6M988,416q2,-1 4,-5M929,456q3,-2 5,-3M877,435q3,-0 12,-8M918,429q-6,5 -9,6M897,421q5,2 12,5M874,398q-10,-1 -15,4M916,459q1,-2 3,-4M1009,401q-0,-4 5,-13M1009,458q-2,2 -7,4M878,424q3,3 6,11M908,447q5,-3 10,-9M908,408q4,-3 9,-9M968,445q9,6 16,5M928,453q11,-5 16,-14M961,441q4,-4 4,-10M878,460q3,7 9,12M1001,418q2,0 5,2M914,384q3,-2 12,-10M987,394q-3,0 -4,3M1001,454q1,-3 4,-3M929,400q3,5 13,13M904,460q4,13 7,17M875,442q10,1 16,7M1003,387q1,5 3,10M930,470q1,3 1,8M906,406q1,1 4,3M992,432q5,1 6,5M905,431q8,-7 6,-19M872,428q-4,2 -9,3M961,397q3,-1 6,-5M917,457q5,-1 6,-6M933,452q-5,5 -7,7M898,418q-0,6 3,12M909,414q2,-5 3,-7M881,431q6,1 12,8M873,409q4,4 12,7M993,383q11,0 14,6M1005,407q10,7 15,16M871,421q0,7 2,11M940,466q1,-2 2,-5M971,399q-2,12 5,19M1006,414q4,5 5,9M880,454q6,-6 11,-8M954,394q3,-3 5,-7M953,470q2,2 3,4M898,412q-1,2 -6,10M931,447q1,-3 5,-4M907,462q3,-2 6,-7M977,416q2,7 12,11M909,421q0,1 3,4M953,405q0,-2 1,-5M907,428q2,1 4,5M985,452q5,4 6,8M901,392q3,4 6,7M924,407q2,-3 4,-4M928,408q4,-1 10,2M876,475q1,-1 6,-4M949,470q-11,3 -15,6M961,389q5,5 9,5M910,433q7,3 12,8M931,411q3,3 13,14M951,384q9,5 11,10M884,435q3,3 6,4M917,462q-5,1 -16,4M906,419q-0,-2 2,-5M970,408q10,-8 13,-15M918,398q2,3 5,4M986,450q3,10 13,16M970,464q-6,3 -21,4M901,440q2,6 11,7M985,385q5,-5 10,-19M945,395q2,-2 5,-4M930,410q-3,5 -9,6M975,441q2,-3 5,-4M975,406q0,13 7,20M992,432q0,-5 2,-7M978,430q10,-6 16,-11M879,429q10,12 14,15M898,420q-5,1 -7,4M917,459q4,-4 5,-8M935,456q4,6 8,8M1009,445q1,-4 4,-12M906,431q-4,3 -5,6M963,455q5,-6 7,-7M980,463q-2,2 -6,2M873,402q-9,11 -11,15M893,435q2,-1 3,-4M985,443q-5,2 -17,10M923,453q9,-9 10,-13M928,413q9,-10 11,-15M1003,469q1,-5 7,-8M1002,433q3,1 4,5M946,388q2,-5 1,-7M984,395q1,-4 4,-9M935,386q1,3 4,5M951,437q-2,2 -4,6M883,404q2,-3 2,-5M922,466q3,3 5,5M995,401q4,3 11,14M991,421q-1,-9 7,-17M917,427q1,-3 3,-5M945,400q-7,8 -11,9M959,414q3,1 5,5M883,401q5,-8 18,-11M984,458q1,2 5,7M998,411q2,0 7,2M976,389q9,9 11,14M969,392q4,-0 7,-4M884,456q1,-3 6,-8M901,445q1,-8 10,-18M934,435q3,2 5,2M873,413q3,-6 6,-11M964,417q-5,6 -6,9M900,436q-13,3 -16,12M899,400q-9,4 -15,7M982,429q4,-9 5,-12M943,437q-2,1 -6,1M881,420q2,1 3,5M885,440q11,4 14,12M923,417q-6,5 -16,6M995,396q2,-2 4,-3M926,422q-3,4 -5,7M920,396q1,-9 7,-13M965,466q2,6 2,10M986,430q-7,2 -12,2M958,401q4,1 5,3M872,411q5,2 7,2M927,459q5,-1 6,-6M896,441q-0,-2 2,-7M909,460q2,-5 2,-9M995,475q0,4 1,5M930,416q1,-3 2,-5M958,435q1,5 13,17M927,458q5,5 13,13M881,428q2,7 3,13M895,446q4,-5 7,-6M876,463q2,1 4,4M897,394q-0,7 4,9M893,398q2,4 6,8M925,442q2,1 5,4M922,453q4,-0 7,2M896,425q3,-6 6,-17M982,422q8,8 20,6M968,442q0,3 2,6M958,427q-9,5 -15,10M930,467q4,4 15,15M945,464q-7,3 -18,4M903,401q13,-1 21,7M933,397q1,2 5,5M938,397q-0,-2 3,-6M1008,440q4,-7 4,-11M1008,465q6,10 5,20M895,405q2,-2 6,-11M996,463q-0,-4 1,-6M882,389q2,3 5,6M924,456q-5,0 -17,4M926,403q3,1 4,3M1010,449q2,-3 7,-8M938,411q1,2 4,5M970,468q2,-1 5,-5M997,459q9,-7 9,-17M910,427q2,-3 2,-7M956,473q1,1 4,3M887,460q5,-3 11,-8M956,424q4,2 16,9M1009,458q3,-9 8,-11M953,468q3,1 6,7M1004,446q2,1 4,3M950,433q4,6 8,17M906,464q3,5 7,16M907,457q2,1 2,5M877,474q2,4 8,10M999,468q0,2 2,7M962,410q2,-3 4,-6M946,448q1,2 2,6M980,450q7,3 8,12M914,470q6,-4 7,-11M975,440q-1,-8 3,-11M897,442q6,-16 6,-21M902,440q4,-1 5,-4M966,470q6,-5 10,-18M918,471q1,5 4,8M949,391q3,4 6,8M972,449q5,5 8,6M998,470q4,4 7,10M962,458q8,1 13,10M889,431q3,3 11,7M901,460q2,2 6,3M940,464q5,-9 10,-11M920,401q9,6 17,9M921,458q-1,2 -3,5M933,469q1,1 2,4M895,446q6,1 10,7M986,472q-1,6 3,9M871,448q-1,5 4,17M992,428q3,3 3,5M923,445q6,-2 7,-9M901,429q-2,2 -5,3M931,441q-9,8 -16,8M883,385q1,-3 3,-4M894,459q1,5 3,8M987,385q1,-5 3,-10M967,428q-11,2 -16,5M1003,386q1,-4 1,-6M873,405q1,3 3,9M965,391q1,1 4,3M922,419q2,1 4,3M954,431q5,5 6,17M908,444q1,3 5,4M891,396q6,5 10,13M959,412q1,3 4,4M929,411q3,5 4,6M935,439q1,1 2,5" stroke="#d6d6d6" stroke-opacity="0.36" stroke-width="0.7"/>
<path d="M1003,464q1,1 5,3M916,449q-4,5 -5,9M935,446q1,4 3,6M922,412q3,6 6,8M944,439q-1,3 -3,4M992,404q0,4 3,4M878,400q2,4 5,8M912,414q1,1 2,5M992,414q6,7 11,17M963,393q-5,3 -15,8M891,411q5,9 12,18M896,435q1,-6 3,-7M969,418q6,3 8,11M932,398q5,-9 10,-18M877,431q2,-1 6,-6M994,460q3,3 7,6M942,420q7,-6 14,-8M917,444q5,2 5,5M955,408q2,-4 4,-6M937,416q-8,6 -10,11M882,474q-0,-6 4,-9M888,387q10,4 16,14M895,418q1,1 2,5M993,418q-0,-5 4,-9M977,455q-2,3 -5,6M893,413q-0,2 2,5M882,416q1,3 4,4M991,423q3,3 7,4M888,400q1,-4 5,-8M881,384q2,8 2,12M927,406q-1,2 -5,4M918,421q-2,3 -6,6M982,427q-0,2 2,6M891,417q4,6 15,10M872,452q2,-2 5,-3M987,426q-3,4 -13,9M929,436q3,-6 3,-9M999,414q2,-3 3,-6M964,431q5,7 6,10M993,445q3,2 4,4M946,435q5,2 7,1M1008,440q2,2 6,6M981,394q4,2 13,2M934,421q3,-8 5,-11M1006,459q-1,2 -4,6M973,461q1,-7 5,-12M982,467q4,7 4,11M900,453q3,-1 5,-5M903,392q8,-12 7,-19M915,453q4,1 5,5M969,410q9,-2 12,-13M972,397q2,-7 11,-19M933,386q2,-10 7,-16M948,396q5,2 8,6M962,446q4,3 6,9M894,453q8,8 12,17M874,439q10,2 18,6M954,442q4,-0 6,3M938,433q5,4 10,10M871,408q-3,1 -4,5M1000,446q1,3 5,4M943,426q11,11 12,18M951,387q5,8 7,12M999,398q4,-7 8,-15M883,431q4,4 13,10M1005,455q0,2 2,7M887,445q-8,11 -10,15M1003,455q1,-5 2,-7M915,404q0,-3 3,-4M932,443q2,5 12,17M880,470q4,6 6,18M892,419q-1,7 3,11M902,404q1,-2 6,-10M915,432q5,4 21,4M887,425q3,-5 8,-9M959,419q4,-5 4,-17M911,390q2,3 5,3M885,405q6,7 6,9M968,462q9,7 15,11M991,419q10,3 15,13M916,432q0,-2 3,-4M901,404q3,3 2,8M916,419q4,5 16,10M986,434q1,7 7,12M954,438q5,-4 7,-9M980,385q-4,6 -10,12M999,400q-11,9 -17,14M939,391q7,-8 14,-11M949,466q2,-2 4,-5M965,473q5,-3 13,-12M910,471q6,12 15,14M895,457q-3,6 -9,16M904,454q7,-6 9,-13M946,386q2,4 5,5M922,463q0,6 8,14M925,461q2,-6 7,-7M927,425q2,11 10,13M995,471q3,4 8,6M897,402q-3,4 -11,17M988,414q2,-2 2,-5M998,467q7,-4 9,-5M964,393q2,-4 2,-6M895,398q2,2 3,4M984,443q0,4 1,6M898,416q2,-11 4,-20M973,424q3,5 14,12M964,402q2,3 9,4M987,398q7,2 14,11M895,469q7,4 10,11M871,470q9,-9 13,-11M911,438q3,-6 3,-8M908,400q4,-10 17,-11M905,403q2,3 2,7M987,433q2,6 11,10M981,467q-2,3 -7,8M882,469q6,5 8,11M871,396q3,7 9,10M980,471q4,1 8,6M997,408q-9,6 -12,15M926,389q4,2 7,5M883,426q1,4 2,6M983,410q0,2 3,4M905,414q2,1 6,6M958,408q0,-1 1,-5M880,430q2,-6 7,-9M993,464q1,4 4,14M972,442q-3,-0 -7,3M891,429q3,1 6,4M950,407q4,2 9,2M991,429q2,-3 6,-3M922,425q2,1 6,4M961,409q3,-2 4,-4M960,466q5,3 5,8M985,406q-3,2 -3,5M1005,471q3,-3 6,-6M885,400q0,4 1,7M1007,442q5,4 10,8M979,459q2,3 3,4M908,401q7,5 10,7M1003,449q4,-3 5,-4M967,449q-14,8 -21,5M939,462q5,3 17,13M992,463q4,4 10,7M884,463q13,-0 19,6M881,428q-1,3 -3,4M922,438q1,-4 6,-8M876,385q4,3 10,9M877,383q7,-6 12,-10M893,400q4,6 7,8M916,415q-1,2 -4,4M977,401q2,3 2,6M918,393q4,-7 8,-11M892,422q1,-1 2,-5M909,443q0,-7 6,-12M947,387q4,5 7,8M904,459q-5,-0 -14,6M896,419q2,-3 6,-12M892,444q5,6 7,8M947,407q4,-9 13,-10M994,462q2,-3 4,-4M1000,417q2,8 4,12M912,384q2,-2 7,-7M993,443q-0,-8 2,-11M971,438q5,8 9,13M954,470q3,1 4,4M877,427q-1,-3 2,-8M952,465q6,3 8,10M988,398q4,-10 15,-15M911,396q6,-8 9,-17M889,469q2,2 4,3M991,398q3,-10 15,-12M970,416q2,-0 7,1M955,439q2,2 5,1M963,470q8,3 18,5M881,410q3,-1 5,-3M994,396q8,4 10,9M917,400q-2,4 -7,8M964,415q12,8 15,13M985,458q3,-2 5,-4M986,405q6,-7 7,-9M880,402q3,1 5,2M899,415q3,3 7,9M1001,474q7,4 9,6M947,389q7,-2 13,-11M1006,446q-12,4 -16,14M979,460q4,-10 14,-14" stroke="#e4e4e4" stroke-opacity="0.3" stroke-width="1.0"/>
<path d="M977,459q2,-1 3,-2M988,385q-0,1 -1,2M952,448q1,0 2,1M998,438q2,5 3,7M926,461q1,2 2,4M899,412q3,3 5,3M951,389q1,-0 1,-2M893,422q2,1 4,1M881,472q3,-1 5,-3M884,468q2,-4 2,-6M966,420q1,-2 3,-2M882,385q0,3 1,5M1009,390q-1,1 -1,1M902,437q1,-1 1,-2M901,467q2,2 5,2M936,435q1,-3 4,-3M985,435q1,1 2,1M874,413q0,-1 2,-3M950,453q1,-1 1,-5M901,418q0,-0 2,-1M1007,413q-1,0 -2,1M953,448q1,-1 3,-3M983,402q0,-4 2,-7M972,426q1,-0 1,-1M960,403q3,4 3,6M938,426q2,2 2,5M934,451q0,-1 1,-1M951,470q0,-3 2,-4M989,411q1,-3 1,-4M939,399q0,-0 1,-1M971,417q1,-1 2,-2M961,392q1,-1 2,-3M884,454q2,1 3,3M876,464q-1,1 -3,1M950,416q1,1 1,1M1006,402q2,1 3,2M981,391q1,3 4,5M873,397q4,-1 4,-4M972,383q1,-1 1,-2M945,418q-1,1 -3,1M999,386q1,2 2,4M980,446q0,-4 2,-6M961,470q1,3 5,5M955,438q0,1 1,2M890,394q2,0 4,3M892,463q2,3 4,5M992,401q-0,1 1,2M957,391q1,-1 1,-1M965,404q-2,1 -2,2M905,414q2,2 2,5M926,461q1,-0 4,-2M949,463q-0,-1 2,-4M921,414q0,-0 1,-2M962,435q-0,-4 2,-7M944,428q0,-1 2,-2M947,404q1,2 3,2M913,436q2,1 4,3M903,406q2,2 3,3M942,399q0,1 1,2M881,432q2,2 2,4M878,384q2,-2 4,-2M903,424q2,3 4,3M998,428q2,3 1,7M901,469q1,2 2,4M875,458q2,-2 4,-3M993,430q-2,4 -3,5M955,458q1,1 2,2M888,449q3,3 5,3M974,413q3,1 5,5M902,394q1,1 2,3M965,412q-3,2 -4,3M882,455q0,-1 0,-2M977,448q3,-0 5,1M975,407q1,1 1,3M944,423q0,-1 1,-2M954,438q2,0 6,3M886,466q-0,2 1,6M922,402q2,1 4,1M970,408q2,-1 4,-5M954,419q1,-0 3,-1M876,404q-1,2 -4,4M903,467q2,-0 2,-1M918,466q1,-1 1,-3M955,437q0,-2 2,-5M899,448q1,-1 1,-1M933,407q0,-2 1,-3M933,427q-2,2 -3,4M875,464q1,-1 2,-2M895,387q0,2 1,5M986,466q1,1 2,3M960,462q0,-2 3,-5M996,385q-2,2 -4,5M893,473q1,-1 3,-3M1005,476q2,2 3,5M942,418q1,-1 0,-2M997,458q1,1 1,2M886,431q0,1 1,2M934,457q-0,-2 1,-5M968,394q-0,4 2,6M982,390q1,1 2,2M949,441q3,1 4,2M872,444q2,2 2,3M878,428q2,-1 5,-3M1005,437q1,0 3,2M959,430q2,2 5,4M901,438q1,1 1,2M913,454q1,-1 3,-2M973,431q3,3 4,5M872,473q0,1 3,4M1007,409q3,2 3,4M985,461q0,2 4,5M900,405q1,0 2,1M995,410q0,0 1,2M895,411q1,1 2,2M980,457q1,1 3,4M912,422q2,-1 3,-2M915,472q2,-1 3,-2M882,409q-1,0 -3,1M882,436q-1,2 -2,3M909,439q0,-1 1,-1M902,383q1,1 2,4M889,441q1,1 2,2M889,439q1,1 2,4M978,436q4,-4 4,-6M888,457q1,4 6,4M959,408q-1,1 -5,4M880,433q1,1 2,2M935,410q-1,1 -2,3M883,397q2,3 6,4M949,419q0,2 3,5M908,446q1,1 1,2M1010,414q3,0 6,3M998,469q2,2 2,4M871,424q2,0 3,2M994,389q2,0 3,2M934,427q0,3 1,7M881,429q1,-0 1,-1M967,468q2,-2 3,-6M983,413q4,5 5,6M910,425q-0,0 -1,2M899,406q1,1 1,2M951,456q0,0 1,1M988,385q3,1 5,3M963,444q2,1 3,2M896,420q-1,2 -3,3M953,387q-1,0 -2,1M928,400q3,0 6,3M961,409q0,1 1,2M976,428q1,1 4,3M900,454q2,1 3,2M893,434q0,-1 2,-2M925,439q3,-1 3,-2M959,418q3,-3 5,-5M946,439q1,-2 2,-2M923,467q1,1 5,4M877,423q3,-5 3,-7M972,441q-2,0 -2,1M986,433q0,0 1,1M990,471q-0,1 -3,3M976,391q2,1 1,4M875,396q1,-2 5,-3M896,437q-0,-1 1,-2M871,463q1,-1 1,-2M927,447q1,-1 1,-1M886,392q1,-2 5,-4M979,470q-0,-2 1,-4M892,454q-0,1 1,2M900,442q1,-3 1,-6M939,452q2,2 5,5M943,442q1,1 2,2M916,404q1,1 3,2M937,416q-1,1 -3,1M973,464q0,0 1,1M886,391q1,-3 4,-5M909,466q1,-1 3,-2M888,384q1,-3 5,-5M920,442q1,-2 5,-4M985,455q1,-2 1,-4M908,459q1,1 2,2M965,405q5,3 6,3M954,455q-2,2 -3,5M983,441q-2,1 -2,2M933,398q2,2 3,5M927,444q1,2 2,4M996,398q0,1 2,4M911,428q1,-3 4,-3M915,406q1,1 1,4M978,399q3,1 4,3M983,397q0,1 2,1M970,473q-1,1 -1,2M929,428q-0,-2 2,-6M895,420q-2,1 -2,1M931,454q0,-1 1,-2M958,410q2,1 5,4M994,393q-0,3 2,5M995,398q2,-3 4,-5M945,420q2,4 3,7M876,384q2,-3 3,-6M874,397q1,-1 1,-2M921,448q1,-1 3,-2M994,446q0,-2 1,-3M936,440q1,2 2,2M881,429q1,2 5,2M953,427q1,0 2,1M888,419q1,1 3,2M961,425q1,-1 1,-2M932,399q1,0 1,1M900,418q1,-1 1,-3M921,417q2,2 4,5M880,412q1,-1 1,-1M878,421q1,0 2,1M914,452q2,2 2,2M975,424q2,1 4,3M919,393q1,-1 3,-2M954,391q1,1 1,2M986,407q1,1 1,2M910,470q3,2 3,3M884,438q-1,1 -2,2M988,454q2,-1 4,-4M975,387q1,-1 3,-3M922,456q2,-1 4,-4M937,443q2,-1 2,-3M972,462q1,2 1,3M943,445q2,1 2,3M961,428q-3,2 -6,1M932,467q2,-2 1,-4M882,460q-2,0 -3,2M907,449q-1,0 -2,1M920,405q0,1 1,2M896,396q1,0 2,1M913,472q3,-0 5,-3M889,476q0,-1 1,-2M982,417q2,-3 2,-4M923,404q0,1 1,2M1000,407q0,2 2,3M981,447q1,2 2,3M1007,446q-0,1 1,2M898,386q-2,2 -2,3M959,474q2,2 3,2M881,400q-1,-0 -2,0M919,464q3,1 4,3M998,456q1,2 4,3M884,395q1,0 1,2M986,424q1,-2 3,-5M952,407q0,2 2,3M902,460q1,1 1,2M929,424q3,4 6,4M922,393q1,3 5,5M940,386q1,-2 3,-6M954,407q2,1 6,2M901,465q1,-1 4,-2M954,440q-0,1 -1,3M969,394q1,-3 5,-4M943,405q-0,2 -2,3M958,393q1,-3 3,-5M898,384q1,1 1,4M982,421q1,-3 2,-3M937,413q-0,2 2,3M985,449q-1,1 -4,1M907,447q4,3 5,5M926,447q3,-2 3,-5M975,408q3,1 6,4M922,405q-1,0 -1,1M902,440q1,0 2,0M928,401q3,-3 2,-7M913,437q2,1 4,2M974,449q-1,-0 -2,0M997,448q3,-2 5,-3M987,436q3,-3 5,-5M878,384q1,-1 2,-3M1006,432q2,4 2,6M976,390q2,4 3,5M914,385q1,-1 2,-1M948,439q1,1 1,2M978,453q1,3 3,4M992,434q-1,0 -3,1M976,399q1,-1 0,-2M938,404q1,-2 1,-3M879,458q-1,2 -2,4M913,399q1,-2 2,-4" stroke="#222" stroke-opacity="0.32" stroke-width="1.2"/>
</g>
<path d="M856.8,317 H865.4 V312.4 L873,323 L865.4,333.6 V329 H856.8 Z" fill="url(#fgArrow)"/>
<path d="M856.4,427.2 H865 V422.6 L872.6,433.2 L865,443.8 V439.2 H856.4 Z" fill="url(#fgArrow)"/>
<rect x="822.70" y="363.30" width="32.20" height="1.70" fill="#f4f4f4"/>
<text x="838.80" y="359.20" font-size="8.6" text-anchor="middle" font-weight="bold" fill="#f4f4f4">10 μm</text>
<rect x="822.70" y="469.20" width="32.20" height="1.70" fill="#f4f4f4"/>
<text x="838.80" y="463.60" font-size="8.6" text-anchor="middle" font-weight="bold" fill="#f4f4f4">10 μm</text>
</g>
<g id="panel-h">
<path d="M103.2,504.5 H1009.1 V677.6" fill="none" stroke="#484848" stroke-width="1.25"/>
<path d="M103.2,503.9 V677.6 H1009.7" fill="none" stroke="#3a3a3a" stroke-width="1.65"/>
<line x1="93.50" y1="677.60" x2="103.20" y2="677.60" stroke="#3a3a3a" stroke-width="1.5"/>
<text x="87.20" y="683.40" font-size="19.8" text-anchor="end" font-weight="normal" fill="#1a1a1a">0</text>
<line x1="93.50" y1="634.32" x2="103.20" y2="634.32" stroke="#3a3a3a" stroke-width="1.5"/>
<text x="87.20" y="640.12" font-size="19.8" text-anchor="end" font-weight="normal" fill="#1a1a1a">1</text>
<line x1="93.50" y1="591.04" x2="103.20" y2="591.04" stroke="#3a3a3a" stroke-width="1.5"/>
<text x="87.20" y="596.84" font-size="19.8" text-anchor="end" font-weight="normal" fill="#1a1a1a">2</text>
<line x1="93.50" y1="547.76" x2="103.20" y2="547.76" stroke="#3a3a3a" stroke-width="1.5"/>
<text x="87.20" y="553.56" font-size="19.8" text-anchor="end" font-weight="normal" fill="#1a1a1a">3</text>
<line x1="93.50" y1="504.48" x2="103.20" y2="504.48" stroke="#3a3a3a" stroke-width="1.5"/>
<text x="87.20" y="510.28" font-size="19.8" text-anchor="end" font-weight="normal" fill="#1a1a1a">4</text>
<line x1="98.40" y1="655.96" x2="103.20" y2="655.96" stroke="#3a3a3a" stroke-width="1.4"/>
<line x1="98.40" y1="612.68" x2="103.20" y2="612.68" stroke="#3a3a3a" stroke-width="1.4"/>
<line x1="98.40" y1="569.40" x2="103.20" y2="569.40" stroke="#3a3a3a" stroke-width="1.4"/>
<line x1="98.40" y1="526.12" x2="103.20" y2="526.12" stroke="#3a3a3a" stroke-width="1.4"/>
<line x1="102.60" y1="677.60" x2="102.60" y2="686.20" stroke="#3a3a3a" stroke-width="1.5"/>
<text x="102.60" y="708.80" font-size="19.8" text-anchor="middle" font-weight="normal" fill="#1a1a1a">0</text>
<line x1="282.60" y1="677.60" x2="282.60" y2="686.20" stroke="#3a3a3a" stroke-width="1.5"/>
<text x="282.60" y="708.80" font-size="19.8" text-anchor="middle" font-weight="normal" fill="#1a1a1a">100</text>
<line x1="462.60" y1="677.60" x2="462.60" y2="686.20" stroke="#3a3a3a" stroke-width="1.5"/>
<text x="462.60" y="708.80" font-size="19.8" text-anchor="middle" font-weight="normal" fill="#1a1a1a">200</text>
<line x1="642.60" y1="677.60" x2="642.60" y2="686.20" stroke="#3a3a3a" stroke-width="1.5"/>
<text x="642.60" y="708.80" font-size="19.8" text-anchor="middle" font-weight="normal" fill="#1a1a1a">300</text>
<line x1="822.60" y1="677.60" x2="822.60" y2="686.20" stroke="#3a3a3a" stroke-width="1.5"/>
<text x="822.60" y="708.80" font-size="19.8" text-anchor="middle" font-weight="normal" fill="#1a1a1a">400</text>
<line x1="1002.60" y1="677.60" x2="1002.60" y2="686.20" stroke="#3a3a3a" stroke-width="1.5"/>
<text x="1002.60" y="708.80" font-size="19.8" text-anchor="middle" font-weight="normal" fill="#1a1a1a">500</text>
<line x1="192.60" y1="677.60" x2="192.60" y2="681.40" stroke="#3a3a3a" stroke-width="1.4"/>
<line x1="372.60" y1="677.60" x2="372.60" y2="681.40" stroke="#3a3a3a" stroke-width="1.4"/>
<line x1="552.60" y1="677.60" x2="552.60" y2="681.40" stroke="#3a3a3a" stroke-width="1.4"/>
<line x1="732.60" y1="677.60" x2="732.60" y2="681.40" stroke="#3a3a3a" stroke-width="1.4"/>
<line x1="912.60" y1="677.60" x2="912.60" y2="681.40" stroke="#3a3a3a" stroke-width="1.4"/>
<text x="559.60" y="729.20" font-size="21.3" text-anchor="middle" font-weight="normal" fill="#1a1a1a">Time (h)</text>
<text x="50.60" y="586.20" font-size="21.3" text-anchor="middle" font-weight="normal" fill="#1a1a1a" transform="rotate(-90 50.60 586.20)">Voltage (V)</text>
<g clip-path="url(#clipH)">
<line x1="118.48" y1="580.72" x2="130.29" y2="581.25" stroke="#5b90ca" stroke-width="4.6" stroke-linecap="round"/>
<line x1="161.64" y1="582.87" x2="173.47" y2="583.56" stroke="#5b90ca" stroke-width="4.6" stroke-linecap="round"/>
<line x1="204.84" y1="584.46" x2="216.61" y2="584.46" stroke="#5b90ca" stroke-width="4.6" stroke-linecap="round"/>
<line x1="248.01" y1="584.46" x2="259.78" y2="584.46" stroke="#5b90ca" stroke-width="4.6" stroke-linecap="round"/>
<line x1="291.18" y1="584.46" x2="302.95" y2="584.46" stroke="#5b90ca" stroke-width="4.6" stroke-linecap="round"/>
<line x1="334.35" y1="584.41" x2="346.12" y2="584.38" stroke="#5b90ca" stroke-width="4.6" stroke-linecap="round"/>
<line x1="377.52" y1="584.33" x2="389.29" y2="584.33" stroke="#5b90ca" stroke-width="4.6" stroke-linecap="round"/>
<line x1="420.69" y1="584.33" x2="432.46" y2="584.33" stroke="#5b90ca" stroke-width="4.6" stroke-linecap="round"/>
<line x1="463.86" y1="584.30" x2="475.63" y2="584.28" stroke="#5b90ca" stroke-width="4.6" stroke-linecap="round"/>
<line x1="507.03" y1="584.20" x2="518.80" y2="584.16" stroke="#5b90ca" stroke-width="4.6" stroke-linecap="round"/>
<line x1="550.20" y1="584.12" x2="561.97" y2="584.12" stroke="#5b90ca" stroke-width="4.6" stroke-linecap="round"/>
<line x1="593.37" y1="584.12" x2="605.14" y2="584.12" stroke="#5b90ca" stroke-width="4.6" stroke-linecap="round"/>
<line x1="636.54" y1="584.15" x2="648.31" y2="584.17" stroke="#5b90ca" stroke-width="4.6" stroke-linecap="round"/>
<line x1="679.71" y1="584.20" x2="691.48" y2="584.20" stroke="#5b90ca" stroke-width="4.6" stroke-linecap="round"/>
<line x1="722.88" y1="584.20" x2="734.65" y2="584.20" stroke="#5b90ca" stroke-width="4.6" stroke-linecap="round"/>
<line x1="766.05" y1="584.12" x2="777.82" y2="584.06" stroke="#5b90ca" stroke-width="4.6" stroke-linecap="round"/>
<line x1="809.21" y1="583.56" x2="821.00" y2="583.24" stroke="#5b90ca" stroke-width="4.6" stroke-linecap="round"/>
<line x1="852.39" y1="583.22" x2="864.16" y2="583.51" stroke="#5b90ca" stroke-width="4.6" stroke-linecap="round"/>
<line x1="895.56" y1="584.01" x2="907.33" y2="584.09" stroke="#5b90ca" stroke-width="4.6" stroke-linecap="round"/>
<line x1="938.73" y1="584.20" x2="950.50" y2="584.20" stroke="#5b90ca" stroke-width="4.6" stroke-linecap="round"/>
<line x1="981.90" y1="584.09" x2="993.67" y2="584.01" stroke="#5b90ca" stroke-width="4.6" stroke-linecap="round"/>
<circle cx="102.60" cy="580.00" r="9.7" fill="url(#ball)"/>
<circle cx="145.77" cy="581.95" r="9.7" fill="url(#ball)"/>
<circle cx="188.94" cy="584.46" r="9.7" fill="url(#ball)"/>
<circle cx="232.11" cy="584.46" r="9.7" fill="url(#ball)"/>
<circle cx="275.28" cy="584.46" r="9.7" fill="url(#ball)"/>
<circle cx="318.45" cy="584.46" r="9.7" fill="url(#ball)"/>
<circle cx="361.62" cy="584.33" r="9.7" fill="url(#ball)"/>
<circle cx="404.79" cy="584.33" r="9.7" fill="url(#ball)"/>
<circle cx="447.96" cy="584.33" r="9.7" fill="url(#ball)"/>
<circle cx="491.13" cy="584.25" r="9.7" fill="url(#ball)"/>
<circle cx="534.30" cy="584.12" r="9.7" fill="url(#ball)"/>
<circle cx="577.47" cy="584.12" r="9.7" fill="url(#ball)"/>
<circle cx="620.64" cy="584.12" r="9.7" fill="url(#ball)"/>
<circle cx="663.81" cy="584.20" r="9.7" fill="url(#ball)"/>
<circle cx="706.98" cy="584.20" r="9.7" fill="url(#ball)"/>
<circle cx="750.15" cy="584.20" r="9.7" fill="url(#ball)"/>
<circle cx="793.32" cy="583.99" r="9.7" fill="url(#ball)"/>
<circle cx="836.49" cy="582.82" r="9.7" fill="url(#ball)"/>
<circle cx="879.66" cy="583.90" r="9.7" fill="url(#ball)"/>
<circle cx="922.83" cy="584.20" r="9.7" fill="url(#ball)"/>
<circle cx="966.00" cy="584.20" r="9.7" fill="url(#ball)"/>
<circle cx="1009.17" cy="583.90" r="9.7" fill="url(#ball)"/>
</g>
</g>
<g id="black-strips">
<rect x="0.00" y="0.00" width="12.80" height="506.00" fill="#000"/>
<rect x="0.00" y="504.50" width="25.90" height="234.50" fill="#000"/>
<rect x="1022.20" y="0.00" width="1.80" height="489.30" fill="#000"/>
</g>
</svg>
</body>
</html>
